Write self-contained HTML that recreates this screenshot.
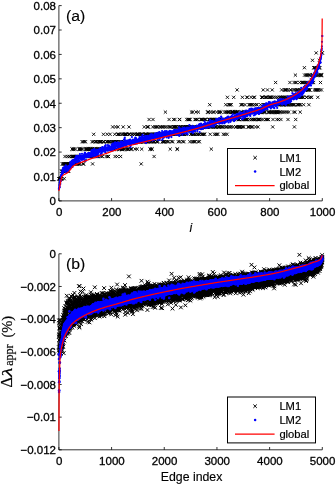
<!DOCTYPE html>
<html><head><meta charset="utf-8"><title>chart</title>
<style>
html,body{margin:0;padding:0;background:#fff;}
body{width:336px;height:484px;overflow:hidden;font-family:"Liberation Sans",sans-serif;}
svg{display:block;will-change:transform;}
text{font-family:"Liberation Sans",sans-serif;fill:#000;stroke:#000;stroke-width:0.3px;}
.tk text{font-size:11.5px;}
.lg{font-size:11.2px;stroke-width:0.2px;}
.pl{font-size:14.5px;stroke-width:0.12px;}
.xl{font-size:12.3px;stroke-width:0.15px;}
.yl text{font-family:"Liberation Serif",serif;stroke-width:0.2px;}
</style></head><body>
<svg width="336" height="484" viewBox="0 0 336 484">
<defs>
<marker id="mx" markerWidth="6" markerHeight="6" refX="3" refY="3" markerUnits="userSpaceOnUse" overflow="visible"><path d="M1.4,1.4L4.6,4.6M1.4,4.6L4.6,1.4" stroke="#000" stroke-width="0.9" fill="none"/></marker>
<marker id="mxb" markerWidth="6" markerHeight="6" refX="3" refY="3" markerUnits="userSpaceOnUse" overflow="visible"><path d="M1.15,1.15L4.85,4.85M1.15,4.85L4.85,1.15" stroke="#000" stroke-width="1.0" fill="none"/></marker>
<marker id="mda" markerWidth="4" markerHeight="4" refX="2" refY="2" markerUnits="userSpaceOnUse" overflow="visible"><circle cx="2" cy="2" r="1.1" fill="#0000ff"/></marker>
<marker id="md" markerWidth="4" markerHeight="4" refX="2" refY="2" markerUnits="userSpaceOnUse" overflow="visible"><circle cx="2" cy="2" r="1.3" fill="#0000ff"/></marker>
</defs>
<g id="pa">
<path d="M58.9,5.6V200.9H322.3M58.9,200.90h2.8M58.9,176.49h2.8M58.9,152.07h2.8M58.9,127.66h2.8M58.9,103.25h2.8M58.9,78.84h2.8M58.9,54.42h2.8M58.9,30.01h2.8M58.9,5.60h2.8M58.90,200.9v-2.8M111.58,200.9v-2.8M164.26,200.9v-2.8M216.94,200.9v-2.8M269.62,200.9v-2.8M322.30,200.9v-2.8" fill="none" stroke="#000" stroke-width="1" opacity="0.8"/>
<polyline fill="none" stroke="none" marker-start="url(#mx)" marker-mid="url(#mx)" marker-end="url(#mx)" points="58.9,178.7 59.2,178.7 59.4,178.7 59.7,178.7 60,178.7 60.2,178.7 60.5,178.7 60.7,178.7 61,178.7 61.3,178.7 61.5,171.3 61.8,178.7 62.1,171.3 62.3,163.9 62.6,171.3 62.9,171.3 63.1,171.3 63.4,163.9 63.6,163.9 63.9,163.9 64.2,178.7 64.4,171.3 64.7,163.9 65,156.5 65.2,163.9 65.5,163.9 65.8,171.3 66,163.9 66.3,163.9 66.5,163.9 66.8,171.3 67.1,163.9 67.3,156.5 67.6,171.3 67.9,171.3 68.1,163.9 68.4,163.9 68.7,171.3 68.9,163.9 69.2,156.5 69.4,163.9 69.7,156.5 70,163.9 70.2,163.9 70.5,163.9 70.8,163.9 71,163.9 71.3,156.5 71.6,163.9 71.8,163.9 72.1,149.1 72.3,149.1 72.6,156.5 72.9,156.5 73.1,156.5 73.4,149.1 73.7,156.5 73.9,149.1 74.2,163.9 74.5,156.5 74.7,163.9 75,156.5 75.2,156.5 75.5,149.1 75.8,163.9 76,156.5 76.3,156.5 76.6,163.9 76.8,163.9 77.1,156.5 77.4,163.9 77.6,156.5 77.9,156.5 78.1,156.5 78.4,163.9 78.7,163.9 78.9,149.1 79.2,163.9 79.5,149.1 79.7,149.1 80,156.5 80.3,163.9 80.5,149.1 80.8,149.1 81,156.5 81.3,156.5 81.6,149.1 81.8,156.5 82.1,141.7 82.4,156.5 82.6,149.1 82.9,163.9 83.2,141.7 83.4,156.5 83.7,163.9 83.9,156.5 84.2,156.5 84.5,141.7 84.7,156.5 85,156.5 85.3,149.1 85.5,141.7 85.8,156.5 86.1,149.1 86.3,149.1 86.6,156.5 86.8,149.1 87.1,149.1 87.4,156.5 87.6,149.1 87.9,156.5 88.2,149.1 88.4,149.1 88.7,149.1 89,156.5 89.2,156.5 89.5,149.1 89.7,149.1 90,149.1 90.3,149.1 90.5,156.5 90.8,149.1 91.1,156.5 91.3,149.1 91.6,149.1 91.9,156.5 92.1,141.7 92.4,149.1 92.6,163.9 92.9,149.1 93.2,156.5 93.4,141.7 93.7,134.3 94,156.5 94.2,149.1 94.5,149.1 94.8,149.1 95,149.1 95.3,141.7 95.5,156.5 95.8,141.7 96.1,156.5 96.3,149.1 96.6,141.7 96.9,149.1 97.1,156.5 97.4,156.5 97.7,149.1 97.9,149.1 98.2,141.7 98.4,156.5 98.7,149.1 99,141.7 99.2,149.1 99.5,149.1 99.8,141.7 100,149.1 100.3,141.7 100.6,141.7 100.8,141.7 101.1,156.5 101.3,141.7 101.6,149.1 101.9,149.1 102.1,149.1 102.4,156.5 102.7,149.1 102.9,149.1 103.2,141.7 103.5,134.3 103.7,141.7 104,141.7 104.3,149.1 104.5,149.1 104.8,149.1 105,149.1 105.3,149.1 105.6,149.1 105.8,149.1 106.1,156.5 106.4,149.1 106.6,141.7 106.9,141.7 107.2,134.3 107.4,141.7 107.7,149.1 107.9,156.5 108.2,156.5 108.5,156.5 108.7,141.7 109,149.1 109.3,141.7 109.5,149.1 109.8,141.7 110.1,134.3 110.3,149.1 110.6,149.1 110.8,149.1 111.1,141.7 111.4,149.1 111.6,149.1 111.9,149.1 112.2,149.1 112.4,141.7 112.7,126.9 113,149.1 113.2,141.7 113.5,141.7 113.7,149.1 114,149.1 114.3,141.7 114.5,149.1 114.8,134.3 115.1,156.5 115.3,141.7 115.6,126.9 115.9,149.1 116.1,141.7 116.4,141.7 116.6,141.7 116.9,141.7 117.2,141.7 117.4,156.5 117.7,134.3 118,126.9 118.2,134.3 118.5,134.3 118.8,149.1 119,141.7 119.3,149.1 119.5,149.1 119.8,134.3 120.1,149.1 120.3,141.7 120.6,156.5 120.9,141.7 121.1,141.7 121.4,149.1 121.7,149.1 121.9,134.3 122.2,149.1 122.4,149.1 122.7,149.1 123,134.3 123.2,126.9 123.5,141.7 123.8,149.1 124,141.7 124.3,134.3 124.6,149.1 124.8,134.3 125.1,134.3 125.3,141.7 125.6,134.3 125.9,134.3 126.1,134.3 126.4,149.1 126.7,134.3 126.9,141.7 127.2,149.1 127.5,141.7 127.7,141.7 128,149.1 128.2,149.1 128.5,149.1 128.8,134.3 129,126.9 129.3,134.3 129.6,134.3 129.8,141.7 130.1,141.7 130.4,141.7 130.6,149.1 130.9,149.1 131.1,141.7 131.4,141.7 131.7,149.1 131.9,134.3 132.2,141.7 132.5,134.3 132.7,141.7 133,141.7 133.3,141.7 133.5,141.7 133.8,141.7 134,141.7 134.3,134.3 134.6,134.3 134.8,134.3 135.1,149.1 135.4,141.7 135.6,141.7 135.9,141.7 136.2,141.7 136.4,141.7 136.7,134.3 136.9,141.7 137.2,149.1 137.5,134.3 137.7,134.3 138,141.7 138.3,134.3 138.5,141.7 138.8,134.3 139.1,141.7 139.3,141.7 139.6,141.7 139.8,141.7 140.1,134.3 140.4,134.3 140.6,141.7 140.9,141.7 141.2,163.9 141.4,134.3 141.7,149.1 142,134.3 142.2,134.3 142.5,134.3 142.7,141.7 143,141.7 143.3,141.7 143.5,141.7 143.8,141.7 144.1,141.7 144.3,126.9 144.6,141.7 144.9,134.3 145.1,141.7 145.4,134.3 145.6,141.7 145.9,134.3 146.2,134.3 146.4,134.3 146.7,141.7 147,141.7 147.2,126.9 147.5,134.3 147.8,141.7 148,126.9 148.3,126.9 148.5,134.3 148.8,141.7 149.1,119.5 149.3,134.3 149.6,134.3 149.9,141.7 150.1,149.1 150.4,149.1 150.7,134.3 150.9,134.3 151.2,141.7 151.4,141.7 151.7,149.1 152,141.7 152.2,149.1 152.5,134.3 152.8,126.9 153,119.5 153.3,134.3 153.6,141.7 153.8,141.7 154.1,156.5 154.3,141.7 154.6,134.3 154.9,126.9 155.1,134.3 155.4,134.3 155.7,134.3 155.9,134.3 156.2,126.9 156.5,141.7 156.7,141.7 157,141.7 157.2,126.9 157.5,126.9 157.8,134.3 158,141.7 158.3,134.3 158.6,134.3 158.8,134.3 159.1,134.3 159.4,134.3 159.6,134.3 159.9,126.9 160.1,134.3 160.4,134.3 160.7,134.3 160.9,134.3 161.2,126.9 161.5,134.3 161.7,134.3 162,134.3 162.3,141.7 162.5,126.9 162.8,141.7 163,126.9 163.3,134.3 163.6,141.7 163.8,141.7 164.1,134.3 164.4,141.7 164.6,141.7 164.9,126.9 165.2,134.3 165.4,112.1 165.7,134.3 165.9,134.3 166.2,141.7 166.5,134.3 166.7,126.9 167,134.3 167.3,134.3 167.5,141.7 167.8,134.3 168.1,134.3 168.3,134.3 168.6,141.7 168.8,126.9 169.1,119.5 169.4,134.3 169.6,134.3 169.9,126.9 170.2,149.1 170.4,134.3 170.7,134.3 171,126.9 171.2,134.3 171.5,141.7 171.7,134.3 172,134.3 172.3,134.3 172.5,134.3 172.8,141.7 173.1,134.3 173.3,126.9 173.6,119.5 173.9,126.9 174.1,126.9 174.4,126.9 174.6,126.9 174.9,119.5 175.2,126.9 175.4,134.3 175.7,126.9 176,134.3 176.2,126.9 176.5,126.9 176.8,134.3 177,149.1 177.3,134.3 177.5,149.1 177.8,134.3 178.1,134.3 178.3,141.7 178.6,126.9 178.9,126.9 179.1,134.3 179.4,119.5 179.7,119.5 179.9,141.7 180.2,126.9 180.4,126.9 180.7,126.9 181,126.9 181.2,134.3 181.5,134.3 181.8,134.3 182,134.3 182.3,134.3 182.6,141.7 182.8,134.3 183.1,126.9 183.3,134.3 183.6,126.9 183.9,141.7 184.1,134.3 184.4,134.3 184.7,126.9 184.9,134.3 185.2,126.9 185.5,126.9 185.7,126.9 186,126.9 186.2,126.9 186.5,134.3 186.8,119.5 187,126.9 187.3,126.9 187.6,126.9 187.8,126.9 188.1,119.5 188.4,119.5 188.6,126.9 188.9,119.5 189.1,126.9 189.4,119.5 189.7,126.9 189.9,141.7 190.2,119.5 190.5,126.9 190.7,134.3 191,126.9 191.3,134.3 191.5,112.1 191.8,126.9 192.1,141.7 192.3,126.9 192.6,134.3 192.8,112.1 193.1,134.3 193.4,141.7 193.6,126.9 193.9,134.3 194.2,134.3 194.4,141.7 194.7,126.9 195,119.5 195.2,141.7 195.5,119.5 195.7,134.3 196,112.1 196.3,126.9 196.5,126.9 196.8,119.5 197.1,126.9 197.3,134.3 197.6,119.5 197.9,134.3 198.1,141.7 198.4,112.1 198.6,126.9 198.9,134.3 199.2,126.9 199.4,141.7 199.7,134.3 200,126.9 200.2,126.9 200.5,126.9 200.8,119.5 201,126.9 201.3,119.5 201.5,119.5 201.8,134.3 202.1,126.9 202.3,134.3 202.6,119.5 202.9,119.5 203.1,126.9 203.4,134.3 203.7,126.9 203.9,134.3 204.2,119.5 204.4,126.9 204.7,134.3 205,119.5 205.2,119.5 205.5,126.9 205.8,119.5 206,126.9 206.3,126.9 206.6,126.9 206.8,126.9 207.1,126.9 207.3,126.9 207.6,112.1 207.9,112.1 208.1,126.9 208.4,112.1 208.7,126.9 208.9,119.5 209.2,119.5 209.5,119.5 209.7,104.7 210,119.5 210.2,134.3 210.5,112.1 210.8,126.9 211,126.9 211.3,149.1 211.6,119.5 211.8,119.5 212.1,119.5 212.4,119.5 212.6,112.1 212.9,126.9 213.1,119.5 213.4,126.9 213.7,126.9 213.9,112.1 214.2,119.5 214.5,134.3 214.7,119.5 215,126.9 215.3,126.9 215.5,119.5 215.8,126.9 216,134.3 216.3,126.9 216.6,112.1 216.8,134.3 217.1,119.5 217.4,119.5 217.6,119.5 217.9,134.3 218.2,126.9 218.4,119.5 218.7,112.1 218.9,126.9 219.2,126.9 219.5,112.1 219.7,112.1 220,119.5 220.3,126.9 220.5,119.5 220.8,119.5 221.1,112.1 221.3,126.9 221.6,119.5 221.8,119.5 222.1,126.9 222.4,119.5 222.6,119.5 222.9,126.9 223.2,119.5 223.4,134.3 223.7,119.5 224,119.5 224.2,119.5 224.5,112.1 224.7,126.9 225,134.3 225.3,119.5 225.5,119.5 225.8,104.7 226.1,112.1 226.3,126.9 226.6,112.1 226.9,126.9 227.1,134.3 227.4,97.3 227.6,119.5 227.9,112.1 228.2,112.1 228.4,104.7 228.7,119.5 229,112.1 229.2,126.9 229.5,126.9 229.8,104.7 230,104.7 230.3,112.1 230.5,119.5 230.8,119.5 231.1,126.9 231.3,104.7 231.6,112.1 231.9,112.1 232.1,112.1 232.4,112.1 232.7,112.1 232.9,112.1 233.2,126.9 233.4,112.1 233.7,97.3 234,119.5 234.2,119.5 234.5,112.1 234.8,112.1 235,112.1 235.3,112.1 235.6,112.1 235.8,126.9 236.1,126.9 236.3,112.1 236.6,119.5 236.9,112.1 237.1,89.9 237.4,112.1 237.7,112.1 237.9,126.9 238.2,119.5 238.5,126.9 238.7,119.5 239,126.9 239.2,119.5 239.5,119.5 239.8,126.9 240,126.9 240.3,126.9 240.6,112.1 240.8,112.1 241.1,104.7 241.4,104.7 241.6,119.5 241.9,112.1 242.1,126.9 242.4,97.3 242.7,104.7 242.9,119.5 243.2,126.9 243.5,112.1 243.7,126.9 244,119.5 244.3,112.1 244.5,112.1 244.8,119.5 245,104.7 245.3,119.5 245.6,112.1 245.8,119.5 246.1,119.5 246.4,112.1 246.6,119.5 246.9,97.3 247.2,119.5 247.4,97.3 247.7,119.5 247.9,112.1 248.2,126.9 248.5,126.9 248.7,112.1 249,104.7 249.3,126.9 249.5,104.7 249.8,119.5 250.1,112.1 250.3,112.1 250.6,104.7 250.8,126.9 251.1,97.3 251.4,104.7 251.6,119.5 251.9,119.5 252.2,126.9 252.4,126.9 252.7,104.7 253,112.1 253.2,119.5 253.5,119.5 253.7,97.3 254,112.1 254.3,119.5 254.5,97.3 254.8,104.7 255.1,112.1 255.3,119.5 255.6,126.9 255.9,119.5 256.1,112.1 256.4,112.1 256.6,104.7 256.9,104.7 257.2,112.1 257.4,112.1 257.7,119.5 258,126.9 258.2,112.1 258.5,119.5 258.8,119.5 259,112.1 259.3,119.5 259.5,119.5 259.8,112.1 260.1,112.1 260.3,112.1 260.6,104.7 260.9,112.1 261.1,119.5 261.4,112.1 261.7,97.3 261.9,112.1 262.2,97.3 262.4,97.3 262.7,97.3 263,119.5 263.2,89.9 263.5,104.7 263.8,112.1 264,112.1 264.3,104.7 264.6,104.7 264.8,112.1 265.1,97.3 265.3,112.1 265.6,119.5 265.9,97.3 266.1,104.7 266.4,97.3 266.7,119.5 266.9,97.3 267.2,104.7 267.5,89.9 267.7,119.5 268,104.7 268.2,112.1 268.5,119.5 268.8,112.1 269,97.3 269.3,112.1 269.6,112.1 269.8,97.3 270.1,97.3 270.4,97.3 270.6,112.1 270.9,104.7 271.1,97.3 271.4,112.1 271.7,112.1 271.9,97.3 272.2,89.9 272.5,112.1 272.7,126.9 273,119.5 273.3,112.1 273.5,104.7 273.8,97.3 274,104.7 274.3,112.1 274.6,104.7 274.8,112.1 275.1,104.7 275.4,112.1 275.6,82.5 275.9,97.3 276.2,112.1 276.4,112.1 276.7,112.1 276.9,119.5 277.2,112.1 277.5,112.1 277.7,97.3 278,104.7 278.3,112.1 278.5,119.5 278.8,112.1 279.1,104.7 279.3,104.7 279.6,97.3 279.9,112.1 280.1,97.3 280.4,104.7 280.6,104.7 280.9,119.5 281.2,112.1 281.4,97.3 281.7,89.9 282,104.7 282.2,97.3 282.5,104.7 282.8,104.7 283,112.1 283.3,97.3 283.5,97.3 283.8,104.7 284.1,104.7 284.3,89.9 284.6,97.3 284.9,112.1 285.1,89.9 285.4,97.3 285.7,104.7 285.9,89.9 286.2,89.9 286.4,104.7 286.7,97.3 287,112.1 287.2,104.7 287.5,104.7 287.8,89.9 288,119.5 288.3,97.3 288.6,104.7 288.8,112.1 289.1,104.7 289.3,97.3 289.6,97.3 289.9,82.5 290.1,97.3 290.4,89.9 290.7,104.7 290.9,89.9 291.2,97.3 291.5,104.7 291.7,97.3 292,97.3 292.2,97.3 292.5,97.3 292.8,104.7 293,104.7 293.3,89.9 293.6,112.1 293.8,104.7 294.1,82.5 294.4,126.9 294.6,104.7 294.9,89.9 295.1,112.1 295.4,75.1 295.7,119.5 295.9,82.5 296.2,82.5 296.5,89.9 296.7,97.3 297,89.9 297.3,104.7 297.5,89.9 297.8,104.7 298,97.3 298.3,89.9 298.6,104.7 298.8,97.3 299.1,97.3 299.4,104.7 299.6,82.5 299.9,89.9 300.2,112.1 300.4,97.3 300.7,104.7 300.9,97.3 301.2,89.9 301.5,97.3 301.7,82.5 302,97.3 302.3,82.5 302.5,89.9 302.8,82.5 303.1,97.3 303.3,97.3 303.6,104.7 303.8,82.5 304.1,82.5 304.4,67.7 304.6,75.1 304.9,89.9 305.2,89.9 305.4,82.5 305.7,89.9 306,75.1 306.2,82.5 306.5,97.3 306.7,97.3 307,75.1 307.3,82.5 307.5,89.9 307.8,75.1 308.1,89.9 308.3,89.9 308.6,89.9 308.9,104.7 309.1,75.1 309.4,97.3 309.6,89.9 309.9,89.9 310.2,75.1 310.4,82.5 310.7,82.5 311,97.3 311.2,82.5 311.5,97.3 311.8,82.5 312,75.1 312.3,82.5 312.5,60.3 312.8,75.1 313.1,75.1 313.3,75.1 313.6,82.5 313.9,67.7 314.1,67.7 314.4,89.9 314.7,67.7 314.9,75.1 315.2,67.7 315.4,75.1 315.7,89.9 316,89.9 316.2,52.9 316.5,75.1 316.8,89.9 317,67.7 317.3,75.1 317.6,89.9 317.8,97.3 318.1,89.9 318.3,67.7 318.6,67.7 318.9,75.1 319.1,67.7 319.4,60.3 319.7,89.9 319.9,67.7 320.2,75.1 320.5,82.5 320.7,75.1 321,75.1 321.2,75.1 321.5,89.9 321.8,75.1 322,52.9 322.3,52.9"/>
<polyline fill="none" stroke="none" marker-start="url(#mda)" marker-mid="url(#mda)" marker-end="url(#mda)" points="58.9,188.9 59.2,187.9 59.4,185.4 59.7,182.8 60,182.2 60.2,179.9 60.5,180.3 60.7,181.1 61,176.5 61.3,174.9 61.5,175.6 61.8,174.4 62.1,173.4 62.3,171.2 62.6,172.3 62.9,173.2 63.1,169.3 63.4,170.5 63.6,167.7 63.9,168.5 64.2,167.3 64.4,169.9 64.7,168 65,170.5 65.2,170.2 65.5,169.5 65.8,165.3 66,168.6 66.3,169.3 66.5,169.5 66.8,166.5 67.1,168.1 67.3,167.1 67.6,167.2 67.9,170.3 68.1,166.8 68.4,167.9 68.7,169.2 68.9,166.3 69.2,166.8 69.4,166.9 69.7,166.5 70,163.8 70.2,165.7 70.5,167.6 70.8,162.1 71,166 71.3,164.3 71.6,162.6 71.8,167 72.1,164.4 72.3,160.6 72.6,162.6 72.9,163.2 73.1,161.6 73.4,162.9 73.7,161.4 73.9,162.5 74.2,163.7 74.5,159.8 74.7,161.2 75,159.9 75.2,160.8 75.5,158.3 75.8,159.2 76,159.8 76.3,161.6 76.6,161.9 76.8,157.4 77.1,158.2 77.4,160.7 77.6,155.8 77.9,158.4 78.1,159 78.4,161.3 78.7,160.2 78.9,158.2 79.2,158.1 79.5,158.2 79.7,161.3 80,157.7 80.3,157.8 80.5,158.9 80.8,157.9 81,157.7 81.3,155.9 81.6,157.8 81.8,156.9 82.1,159.7 82.4,158.7 82.6,157.4 82.9,158.5 83.2,156.6 83.4,159 83.7,157 83.9,157.9 84.2,154.4 84.5,157.3 84.7,153.4 85,152.7 85.3,155.8 85.5,154.6 85.8,156.4 86.1,160.2 86.3,154.4 86.6,154.7 86.8,156.1 87.1,156.6 87.4,155.3 87.6,155.1 87.9,156.7 88.2,156.3 88.4,153.3 88.7,155 89,155.1 89.2,153 89.5,155.3 89.7,153.2 90,156.5 90.3,154.9 90.5,154.7 90.8,153.3 91.1,154.1 91.3,150.5 91.6,152 91.9,154.7 92.1,150 92.4,155.5 92.6,150.5 92.9,155.1 93.2,152 93.4,155 93.7,153.7 94,150.5 94.2,155.6 94.5,155.9 94.8,153 95,152.5 95.3,152.6 95.5,151 95.8,154.8 96.1,151.6 96.3,152.5 96.6,151 96.9,151.2 97.1,149.9 97.4,154.6 97.7,151.8 97.9,153.8 98.2,151.9 98.4,150.5 98.7,151.1 99,150.6 99.2,151.6 99.5,150.8 99.8,150.8 100,148.7 100.3,149.7 100.6,154.2 100.8,149.7 101.1,148.9 101.3,151.5 101.6,153.4 101.9,147.9 102.1,150.2 102.4,149.3 102.7,147 102.9,151.6 103.2,150.1 103.5,150.2 103.7,148.6 104,150.7 104.3,148.8 104.5,149.4 104.8,147.5 105,147.3 105.3,151.9 105.6,148.4 105.8,149.8 106.1,149.1 106.4,148.2 106.6,148 106.9,150.1 107.2,148.2 107.4,148.4 107.7,148.7 107.9,150.7 108.2,149.7 108.5,149 108.7,147.2 109,145.6 109.3,149.8 109.5,149.8 109.8,147.6 110.1,148.8 110.3,149.2 110.6,149.2 110.8,149.2 111.1,146.6 111.4,150.1 111.6,145 111.9,148.8 112.2,148 112.4,148.6 112.7,150.4 113,149.6 113.2,144.7 113.5,143.6 113.7,148.1 114,144.7 114.3,146.4 114.5,147.9 114.8,143.3 115.1,142.4 115.3,146.6 115.6,146.1 115.9,145.5 116.1,146 116.4,144.2 116.6,143 116.9,145.3 117.2,143.8 117.4,142.5 117.7,146.3 118,145.2 118.2,146 118.5,143.4 118.8,143.9 119,143.2 119.3,143.3 119.5,145.2 119.8,143.3 120.1,145.3 120.3,145.2 120.6,148.2 120.9,141.9 121.1,146 121.4,144.1 121.7,144.2 121.9,141.5 122.2,143.2 122.4,145.3 122.7,143.8 123,144 123.2,143.2 123.5,145.7 123.8,143.6 124,139.6 124.3,142.2 124.6,139.9 124.8,137.5 125.1,142.3 125.3,145.6 125.6,143.2 125.9,141 126.1,141.3 126.4,144.9 126.7,143.1 126.9,142.9 127.2,142.6 127.5,142.7 127.7,144 128,143.5 128.2,142.8 128.5,140.6 128.8,143.2 129,141.1 129.3,144.1 129.6,139.9 129.8,141.8 130.1,142 130.4,139.6 130.6,144.9 130.9,144.4 131.1,140.9 131.4,143 131.7,142.3 131.9,137 132.2,141.9 132.5,141.3 132.7,141.5 133,139.5 133.3,140.8 133.5,140.9 133.8,143.2 134,141.7 134.3,141 134.6,143.6 134.8,140 135.1,140.2 135.4,137.6 135.6,143.5 135.9,142.3 136.2,142.2 136.4,141.7 136.7,140.7 136.9,140.8 137.2,140 137.5,140 137.7,140.4 138,142.8 138.3,141.1 138.5,140 138.8,139.1 139.1,138.9 139.3,142.7 139.6,140.8 139.8,139.9 140.1,139.2 140.4,137.8 140.6,139.5 140.9,141.1 141.2,138.9 141.4,139.1 141.7,139.1 142,139.6 142.2,136.6 142.5,138.9 142.7,137.8 143,140.7 143.3,137.8 143.5,140 143.8,141.6 144.1,138.4 144.3,137.9 144.6,139.2 144.9,138.8 145.1,137.1 145.4,139.5 145.6,142 145.9,138.1 146.2,138.2 146.4,136.7 146.7,138.9 147,136.3 147.2,136.4 147.5,140.4 147.8,136.7 148,140 148.3,140.6 148.5,138.5 148.8,138.9 149.1,141.2 149.3,137.5 149.6,136.8 149.9,135.5 150.1,137.8 150.4,140.1 150.7,139.2 150.9,136 151.2,136.1 151.4,136.6 151.7,137.9 152,137 152.2,137.6 152.5,137.7 152.8,136.7 153,137 153.3,137.4 153.6,136.9 153.8,137.8 154.1,140 154.3,137.8 154.6,136.9 154.9,134 155.1,137.3 155.4,133.4 155.7,134.3 155.9,137.9 156.2,137.6 156.5,136.2 156.7,133.6 157,135.7 157.2,135.1 157.5,137.2 157.8,139.8 158,136.4 158.3,134.7 158.6,134 158.8,135.8 159.1,135.5 159.4,133.9 159.6,135.9 159.9,133.8 160.1,137.4 160.4,137.3 160.7,137.2 160.9,134.7 161.2,136.2 161.5,135.1 161.7,134.6 162,134.7 162.3,133.1 162.5,132.8 162.8,136.3 163,134.7 163.3,135.3 163.6,136.5 163.8,132 164.1,133.5 164.4,135 164.6,135.3 164.9,134 165.2,136.2 165.4,134.8 165.7,132.5 165.9,132.9 166.2,135.6 166.5,135 166.7,131.2 167,136.3 167.3,135.1 167.5,136.2 167.8,133.4 168.1,133.5 168.3,132.1 168.6,137.9 168.8,133.5 169.1,136.3 169.4,132.6 169.6,133.9 169.9,130.9 170.2,132.9 170.4,135 170.7,131.4 171,135.1 171.2,133.8 171.5,131.6 171.7,132.4 172,132.4 172.3,133 172.5,132.2 172.8,131.7 173.1,132.4 173.3,131.2 173.6,130.8 173.9,132.7 174.1,134.1 174.4,130.2 174.6,132.6 174.9,131.5 175.2,130.9 175.4,133.8 175.7,131.6 176,134.7 176.2,131 176.5,132.9 176.8,131.8 177,130.9 177.3,133 177.5,131.8 177.8,132.9 178.1,131.8 178.3,130.1 178.6,131.6 178.9,131.8 179.1,133.2 179.4,130.2 179.7,131.5 179.9,128.8 180.2,132.5 180.4,129.7 180.7,128.5 181,131.2 181.2,133 181.5,128.8 181.8,129.4 182,129.9 182.3,129.2 182.6,131.6 182.8,129.7 183.1,129.7 183.3,131.8 183.6,129.6 183.9,131.4 184.1,129.1 184.4,128.7 184.7,127.6 184.9,133.5 185.2,129.9 185.5,130.8 185.7,130.3 186,130.5 186.2,130.3 186.5,133.2 186.8,128.5 187,127.6 187.3,128.4 187.6,127.8 187.8,131.1 188.1,131.2 188.4,128.2 188.6,127.5 188.9,129.1 189.1,131.8 189.4,125 189.7,130.3 189.9,127.7 190.2,131.1 190.5,127.6 190.7,128.8 191,126.8 191.3,127.6 191.5,131.3 191.8,130.4 192.1,128.3 192.3,127.5 192.6,125.8 192.8,128.2 193.1,128.7 193.4,128.6 193.6,128.5 193.9,126.8 194.2,128.4 194.4,128.4 194.7,130.5 195,131.3 195.2,128.1 195.5,127 195.7,128.1 196,127.1 196.3,126.9 196.5,127.9 196.8,126.3 197.1,128.8 197.3,127.6 197.6,128.2 197.9,127.4 198.1,126.5 198.4,126.1 198.6,127.1 198.9,126.6 199.2,127.7 199.4,127.3 199.7,125 200,127.3 200.2,124.9 200.5,126 200.8,126.5 201,123.5 201.3,126.9 201.5,127 201.8,126.4 202.1,125.9 202.3,125.9 202.6,124.9 202.9,125.9 203.1,125.4 203.4,126.4 203.7,124.2 203.9,126.4 204.2,126.2 204.4,125.7 204.7,125.1 205,126.6 205.2,123 205.5,126.3 205.8,125.9 206,125.9 206.3,126 206.6,124.2 206.8,124.8 207.1,126.2 207.3,125.8 207.6,125.3 207.9,122.5 208.1,125.7 208.4,126.6 208.7,126.3 208.9,125 209.2,122 209.5,125.9 209.7,124.1 210,120.2 210.2,124.8 210.5,121.7 210.8,122 211,122.9 211.3,125.9 211.6,123.2 211.8,124.2 212.1,126.4 212.4,126.1 212.6,123.3 212.9,123 213.1,121.3 213.4,122.1 213.7,123.9 213.9,123.7 214.2,123.2 214.5,124.5 214.7,121.6 215,122.7 215.3,123.9 215.5,123.6 215.8,124.3 216,123.1 216.3,121.9 216.6,122.9 216.8,120.6 217.1,119.5 217.4,123 217.6,121.9 217.9,122.4 218.2,119.1 218.4,121.2 218.7,120.8 218.9,120.3 219.2,118 219.5,121 219.7,122.9 220,122 220.3,120.3 220.5,121.2 220.8,122.3 221.1,116.6 221.3,120.8 221.6,121.8 221.8,121.9 222.1,123.5 222.4,122.5 222.6,121.1 222.9,121 223.2,121.7 223.4,119.5 223.7,120.3 224,121.7 224.2,123.3 224.5,119.9 224.7,120 225,120.3 225.3,122.1 225.5,119.8 225.8,122.1 226.1,118.2 226.3,119.3 226.6,119.2 226.9,120.7 227.1,121.1 227.4,116.9 227.6,117.8 227.9,119.7 228.2,118.1 228.4,116.6 228.7,120.7 229,119.7 229.2,119.6 229.5,118 229.8,120.4 230,118.3 230.3,120.3 230.5,117 230.8,117.1 231.1,118.7 231.3,117.2 231.6,119.3 231.9,118.6 232.1,116.6 232.4,118.1 232.7,117.4 232.9,119.3 233.2,116.8 233.4,117 233.7,119.6 234,121.1 234.2,120.7 234.5,117.5 234.8,117.7 235,119.7 235.3,117 235.6,115.6 235.8,117.2 236.1,117.7 236.3,115.6 236.6,114.2 236.9,114.4 237.1,117.7 237.4,115.4 237.7,116.3 237.9,116.8 238.2,117.3 238.5,115.7 238.7,117 239,114.7 239.2,115.5 239.5,114.3 239.8,117.7 240,115.8 240.3,114.5 240.6,115.1 240.8,115.2 241.1,116.6 241.4,112.9 241.6,113.7 241.9,114.7 242.1,119.2 242.4,116.6 242.7,114.8 242.9,116.1 243.2,118.2 243.5,114.4 243.7,114.1 244,116.6 244.3,115.3 244.5,115.5 244.8,113.6 245,117.4 245.3,117 245.6,115.1 245.8,115.2 246.1,110.7 246.4,114.9 246.6,113.5 246.9,114.4 247.2,114.8 247.4,113 247.7,110.8 247.9,114 248.2,112.1 248.5,112.7 248.7,112.2 249,112.5 249.3,109.3 249.5,114.9 249.8,113.3 250.1,114.6 250.3,115.9 250.6,112.7 250.8,109.6 251.1,111 251.4,110.4 251.6,111.5 251.9,112.4 252.2,108.9 252.4,112.6 252.7,109.5 253,112.4 253.2,111.7 253.5,111.3 253.7,111.6 254,110.7 254.3,110.6 254.5,108.7 254.8,111.4 255.1,114.4 255.3,114.5 255.6,113.3 255.9,112.3 256.1,109.9 256.4,113.3 256.6,110.8 256.9,110.7 257.2,110.2 257.4,110.8 257.7,109.8 258,110.3 258.2,108.6 258.5,109.6 258.8,114 259,110 259.3,109.6 259.5,110.8 259.8,111 260.1,107.9 260.3,109.3 260.6,111.1 260.9,109.9 261.1,109.5 261.4,111.8 261.7,108 261.9,109.1 262.2,108 262.4,111.3 262.7,105.4 263,107.4 263.2,107.5 263.5,109.4 263.8,109.2 264,110.4 264.3,105.3 264.6,109.1 264.8,107.2 265.1,106.5 265.3,108.4 265.6,105.8 265.9,103.7 266.1,106.5 266.4,104.4 266.7,105.8 266.9,107.4 267.2,107.1 267.5,109.2 267.7,106.1 268,103.7 268.2,104.9 268.5,104.5 268.8,103.9 269,106.6 269.3,104.7 269.6,102.3 269.8,106.7 270.1,105.3 270.4,106 270.6,105.5 270.9,106.3 271.1,105.2 271.4,107.2 271.7,105.7 271.9,105.6 272.2,105.5 272.5,102.3 272.7,104.4 273,104.2 273.3,104.9 273.5,102.1 273.8,107.2 274,104.5 274.3,102.2 274.6,101.3 274.8,103.6 275.1,103.9 275.4,102.7 275.6,104.1 275.9,102.7 276.2,104.7 276.4,102.5 276.7,103.6 276.9,105.3 277.2,107.9 277.5,101.7 277.7,102.5 278,101.8 278.3,104.6 278.5,101.1 278.8,102.2 279.1,102.9 279.3,101.2 279.6,101.1 279.9,101.9 280.1,99 280.4,100 280.6,101.7 280.9,102.6 281.2,101.9 281.4,99.1 281.7,101.3 282,103.4 282.2,102.8 282.5,101.6 282.8,100.1 283,102.7 283.3,100.5 283.5,99.3 283.8,99.9 284.1,103.7 284.3,101.4 284.6,103 284.9,100 285.1,102.4 285.4,99.6 285.7,100.2 285.9,104.8 286.2,101.6 286.4,99.3 286.7,99.9 287,100.5 287.2,102 287.5,98.8 287.8,96.5 288,99 288.3,99.4 288.6,99.4 288.8,101.4 289.1,99.5 289.3,100.3 289.6,96.8 289.9,100.1 290.1,102.2 290.4,99.7 290.7,98.7 290.9,98.4 291.2,101.1 291.5,96.2 291.7,97.5 292,98.4 292.2,98.7 292.5,96.5 292.8,97.7 293,96.5 293.3,97.1 293.6,96.5 293.8,94.5 294.1,96.4 294.4,97.8 294.6,94.4 294.9,95.5 295.1,97 295.4,93.7 295.7,95.8 295.9,93.4 296.2,97.2 296.5,99.2 296.7,98.5 297,94.3 297.3,95.9 297.5,94.6 297.8,94.4 298,96.8 298.3,91.5 298.6,95.6 298.8,93.4 299.1,95.9 299.4,93.5 299.6,91.8 299.9,93.3 300.2,94 300.4,92.5 300.7,93.1 300.9,91.1 301.2,87.9 301.5,93.3 301.7,92.7 302,91.4 302.3,91.1 302.5,92.6 302.8,89.7 303.1,89 303.3,89.7 303.6,91.9 303.8,87 304.1,91.5 304.4,87.9 304.6,86.8 304.9,90.8 305.2,88.1 305.4,85.6 305.7,87.1 306,89.2 306.2,89.4 306.5,86.1 306.7,87.4 307,87.7 307.3,84.9 307.5,86.4 307.8,85.4 308.1,84.2 308.3,84 308.6,84.7 308.9,84.3 309.1,82.9 309.4,82.8 309.6,85.3 309.9,83.3 310.2,84.2 310.4,84.4 310.7,82.9 311,85.6 311.2,79.5 311.5,82.1 311.8,79.6 312,83.2 312.3,82.5 312.5,75.3 312.8,76.7 313.1,79.3 313.3,79 313.6,78.5 313.9,76.5 314.1,77 314.4,76.9 314.7,75 314.9,76.5 315.2,69.9 315.4,74.7 315.7,71.1 316,74.2 316.2,71.4 316.5,69.6 316.8,71.3 317,68.2 317.3,67.6 317.6,65.7 317.8,67.9 318.1,68.1 318.3,68.4 318.6,65.4 318.9,66.9 319.1,64.1 319.4,62.9 319.7,63.2 319.9,63.1 320.2,59.5 320.5,58.6 320.7,57.7 321,56.9 321.2,53.3 321.5,54.8 321.8,48.5 322,41.8 322.3,36 59,188.7 59.3,187.3 59.6,184.4 59.8,187.1 60.1,182.9 60.3,183.9 60.6,181.2 60.9,176.9 61.1,176 61.4,176.1 61.7,174.3 61.9,173.5 62.2,172.5 62.5,169.5 62.7,171.8 63,168 63.2,172.1 63.5,169.9 63.8,169.6 64,170.2 64.3,170.9 64.6,167.8 64.8,167.1 65.1,168.1 65.4,166.3 65.6,168 65.9,172.4 66.1,167.6 66.4,170.5 66.7,166.8 66.9,169.6 67.2,168.3 67.5,168.6 67.7,169.5 68,171.4 68.3,168.4 68.5,168 68.8,165.8 69,168.2 69.3,166.4 69.6,168 69.8,166.1 70.1,168.9 70.4,161.9 70.6,164.5 70.9,166.2 71.2,163.7 71.4,162.6 71.7,163.1 71.9,160.8 72.2,163.1 72.5,166.9 72.7,164.4 73,160.1 73.3,160.3 73.5,160.9 73.8,163.2 74.1,159.8 74.3,159.9 74.6,162.5 74.8,162.3 75.1,160 75.4,158.5 75.6,157.6 75.9,159 76.2,156.1 76.4,161.3 76.7,158.7 77,160.5 77.2,162.9 77.5,161.5 77.8,157.3 78,160.8 78.3,161.2 78.5,157.7 78.8,157.2 79.1,158.6 79.3,155.8 79.6,161.2 79.9,154.1 80.1,156.4 80.4,157.8 80.7,157.8 80.9,158.4 81.2,158.5 81.4,157.5 81.7,159.8 82,153.8 82.2,157.6 82.5,156.2 82.8,157.6 83,157.6 83.3,155.5 83.6,155.9 83.8,158.4 84.1,157.4 84.3,155.5 84.6,160.3 84.9,160.7 85.1,153.7 85.4,156.8 85.7,160.8 85.9,157.5 86.2,156.4 86.5,155.5 86.7,154.8 87,155.3 87.2,154.6 87.5,156.9 87.8,154.7 88,154.5 88.3,153 88.6,155.1 88.8,153.4 89.1,154.7 89.4,156.8 89.6,155.5 89.9,155.7 90.1,155.3 90.4,154.7 90.7,154.2 90.9,153.8 91.2,155.7 91.5,152.2 91.7,156.6 92,154.1 92.3,152.5 92.5,152.9 92.8,152.5 93,154 93.3,152.2 93.6,155.6 93.8,151.9 94.1,149 94.4,151.8 94.6,149.4 94.9,153 95.2,155 95.4,154.1 95.7,150.3 95.9,151.3 96.2,156 96.5,153.1 96.7,152.4 97,154.3 97.3,156.9 97.5,154.6 97.8,152.3 98.1,152.6 98.3,153.1 98.6,150.6 98.8,149.7 99.1,151.7 99.4,149.7 99.6,151.3 99.9,151.5 100.2,155.7 100.4,149.5 100.7,150.8 101,150.6 101.2,151.7 101.5,152.7 101.7,149.8 102,149 102.3,147.4 102.5,148.7 102.8,151.3 103.1,150.3 103.3,148.2 103.6,149.3 103.9,150 104.1,150.8 104.4,148.6 104.6,149.2 104.9,146.2 105.2,147.3 105.4,152.4 105.7,145.2 106,148.6 106.2,149.5 106.5,148.3 106.8,147.4 107,148.7 107.3,148.7 107.5,148.5 107.8,145.1 108.1,148.2 108.3,146.8 108.6,147.3 108.9,148.6 109.1,149.3 109.4,149.7 109.7,147 109.9,149.6 110.2,149.9 110.4,149.8 110.7,150.1 111,147.2 111.2,147.1 111.5,148.8 111.8,144.7 112,147.5 112.3,146.1 112.6,146.3 112.8,143.7 113.1,145.2 113.3,146.7 113.6,148.3 113.9,148.4 114.1,146.3 114.4,146.1 114.7,144.8 114.9,147 115.2,145.7 115.5,147.2 115.7,149.2 116,145.9 116.2,143.1 116.5,144.2 116.8,143 117,143.4 117.3,147.9 117.6,145.8 117.8,142.6 118.1,146.5 118.4,147.5 118.6,144.5 118.9,143.8 119.1,144.3 119.4,145.4 119.7,145.9 119.9,146.8 120.2,146.8 120.5,146.7 120.7,146.9 121,145.6 121.3,141.6 121.5,144 121.8,144.7 122,143.4 122.3,145.7 122.6,143.3 122.8,142.2 123.1,146.4 123.4,144.9 123.6,144 123.9,145.2 124.2,145.4 124.4,144 124.7,139 124.9,142.1 125.2,142.4 125.5,141.4 125.7,143.4 126,145.1 126.3,142.1 126.5,140.9 126.8,146.4 127.1,142 127.3,140.5 127.6,143 127.8,143.3 128.1,141.2 128.4,143.8 128.6,141.5 128.9,140.7 129.2,142.5 129.4,143.5 129.7,141 130,142.6 130.2,141.8 130.5,146.9 130.7,140.6 131,144.2 131.3,141.6 131.5,141.4 131.8,142.9 132.1,143.1 132.3,143.7 132.6,142 132.9,140.3 133.1,140.4 133.4,142.1 133.6,142.2 133.9,143.6 134.2,141.8 134.4,142.8 134.7,143.6 135,141.2 135.2,138.3 135.5,138.7 135.8,138.2 136,143.4 136.3,139.1 136.5,142.7 136.8,141.5 137.1,143.4 137.3,142.1 137.6,140.1 137.9,139.9 138.1,140.3 138.4,140.4 138.7,139.2 138.9,140 139.2,142.7 139.4,137 139.7,140.3 140,138.2 140.2,140.1 140.5,141.1 140.8,139.5 141,140.9 141.3,136.8 141.6,141.4 141.8,138.4 142.1,140.4 142.3,139.6 142.6,134.9 142.9,137.9 143.1,139.5 143.4,141.7 143.7,139.5 143.9,139.4 144.2,136.5 144.5,141.3 144.7,141.9 145,138.8 145.2,138.3 145.5,135.9 145.8,140.1 146,143.1 146.3,139.7 146.6,140.6 146.8,139.3 147.1,136.7 147.4,140.5 147.6,136.2 147.9,137.8 148.1,138.6 148.4,139.5 148.7,138.7 148.9,138.6 149.2,136.6 149.5,135.7 149.7,137.9 150,136.6 150.3,135.5 150.5,135.5 150.8,136.8 151,134.4 151.3,135.2 151.6,134.7 151.8,137.7 152.1,138 152.4,140.6 152.6,134.7 152.9,136 153.2,138.6 153.4,136.7 153.7,136.4 153.9,139.7 154.2,136.3 154.5,134.9 154.7,134.6 155,137.3 155.3,137.2 155.5,134.3 155.8,134.9 156.1,137.4 156.3,137.4 156.6,135.3 156.8,137.3 157.1,137.2 157.4,133.3 157.6,135.6 157.9,136.8 158.2,135.1 158.4,132.5 158.7,135.5 159,137.1 159.2,138.4 159.5,132.2 159.7,139.9 160,133.8 160.3,137.1 160.5,137.5 160.8,137.1 161.1,135.6 161.3,133.5 161.6,136.3 161.9,134.1 162.1,131.1 162.4,139.7 162.6,136.2 162.9,137.9 163.2,133.5 163.4,137.2 163.7,137.4 164,137.3 164.2,134.7 164.5,132.7 164.8,134.3 165,131 165.3,131.8 165.6,134.6 165.8,132.8 166.1,134.1 166.3,134.1 166.6,137.3 166.9,136.3 167.1,134.1 167.4,136 167.7,132.8 167.9,133.4 168.2,135.4 168.5,131.9 168.7,133.4 169,131.6 169.2,133.9 169.5,136.3 169.8,132.4 170,133.9 170.3,132.1 170.6,131.6 170.8,131.4 171.1,135.7 171.4,137.1 171.6,134 171.9,132 172.1,134.2 172.4,132.5 172.7,134.3 172.9,133.4 173.2,133.4 173.5,133.8 173.7,131.9 174,132.1 174.3,129.9 174.5,131.9 174.8,130.3 175,132.3 175.3,130.9 175.6,132.6 175.8,133.1 176.1,130 176.4,131 176.6,130.7 176.9,133.4 177.2,134.8 177.4,133.4 177.7,131.4 177.9,134.3 178.2,129.5 178.5,134.2 178.7,130.7 179,127.3 179.3,135.9 179.5,134.1 179.8,129.9 180.1,131.8 180.3,131.1 180.6,131.6 180.8,129 181.1,130.2 181.4,132 181.6,131.5 181.9,133.1 182.2,131.2 182.4,134.8 182.7,129.8 183,131.3 183.2,127.8 183.5,128.8 183.7,132.9 184,129.2 184.3,131.5 184.5,130.5 184.8,128.9 185.1,129.9 185.3,129.6 185.6,129.6 185.9,131.5 186.1,131.3 186.4,129.3 186.6,128.7 186.9,130.5 187.2,129.9 187.4,131.6 187.7,134.2 188,131.2 188.2,129.8 188.5,129.5 188.8,128.3 189,128.2 189.3,128 189.5,128.9 189.8,128.8 190.1,130.6 190.3,128.7 190.6,129 190.9,127.3 191.1,131.8 191.4,129.9 191.7,131.9 191.9,130.3 192.2,131.3 192.4,128.5 192.7,130 193,133.1 193.2,126.8 193.5,130.6 193.8,131.3 194,129.2 194.3,129.7 194.6,130.5 194.8,127.3 195.1,129 195.3,126.8 195.6,127.1 195.9,127.1 196.1,127.8 196.4,128.3 196.7,128.7 196.9,125.6 197.2,131.1 197.5,129.7 197.7,128.9 198,127.1 198.2,127.5 198.5,128.4 198.8,128.1 199,124.6 199.3,128.5 199.6,132 199.8,124.2 200.1,128.8 200.4,127.7 200.6,126.8 200.9,129.2 201.1,124.9 201.4,127 201.7,129.1 201.9,126.3 202.2,125.9 202.5,126.7 202.7,125.7 203,128.9 203.3,124.8 203.5,127.6 203.8,124 204,127.1 204.3,125.8 204.6,121.6 204.8,125.8 205.1,124 205.4,124.9 205.6,128.1 205.9,123.7 206.2,123.7 206.4,127.7 206.7,125.4 206.9,127.7 207.2,125.6 207.5,123.6 207.7,124.8 208,126.9 208.3,126.3 208.5,124.7 208.8,124.7 209.1,124.4 209.3,123.5 209.6,127.6 209.8,124.3 210.1,122.4 210.4,123.4 210.6,125.3 210.9,125.1 211.2,123.7 211.4,122.7 211.7,123.8 212,120.9 212.2,121.5 212.5,124.8 212.7,122.7 213,124 213.3,125.3 213.5,124.3 213.8,123.2 214.1,126.6 214.3,124.1 214.6,122.3 214.9,124 215.1,123.4 215.4,121.3 215.6,122.7 215.9,122.2 216.2,119.2 216.4,122.1 216.7,121.8 217,121.5 217.2,119.4 217.5,121.5 217.8,121.9 218,122.1 218.3,120 218.5,122.8 218.8,119.7 219.1,121.2 219.3,123.7 219.6,120.3 219.9,120.5 220.1,123.1 220.4,120.6 220.7,120.7 220.9,121.4 221.2,122.7 221.4,117.3 221.7,119.5 222,119.1 222.2,118.9 222.5,119.2 222.8,119.2 223,121 223.3,119 223.6,120.6 223.8,121 224.1,119 224.3,120.4 224.6,122.8 224.9,120.5 225.1,118.9 225.4,119.8 225.7,118.3 225.9,120.2 226.2,121.1 226.5,118.3 226.7,119.2 227,121.3 227.2,118.6 227.5,119.6 227.8,117.6 228,117.8 228.3,118.3 228.6,122.5 228.8,118.3 229.1,118 229.4,117.9 229.6,118.5 229.9,119.7 230.1,118.9 230.4,121.8 230.7,118.8 230.9,120.7 231.2,118.8 231.5,119.2 231.7,115.9 232,117.9 232.3,117.9 232.5,117.6 232.8,114.4 233,119.2 233.3,117.1 233.6,117 233.8,117.2 234.1,117.2 234.4,118.1 234.6,115.3 234.9,115.8 235.2,117.7 235.4,117.4 235.7,116.5 235.9,116.1 236.2,115.6 236.5,116.8 236.7,118.7 237,115 237.3,119.1 237.5,117.9 237.8,115.7 238.1,117.6 238.3,114 238.6,113.5 238.8,114.1 239.1,115.4 239.4,115.5 239.6,115.1 239.9,116 240.2,112.4 240.4,116.5 240.7,113.3 241,114.5 241.2,114.8 241.5,113.5 241.7,113.1 242,113.6 242.3,115.1 242.5,116 242.8,115.9 243.1,113.3 243.3,113.6 243.6,113.3 243.9,115.4 244.1,111.3 244.4,116.5 244.6,113.6 244.9,113.1 245.2,114.8 245.4,115.8 245.7,114.7 246,115.7 246.2,114.2 246.5,115.8 246.8,115.8 247,113.5 247.3,115.9 247.5,113.8 247.8,113.6 248.1,111.9 248.3,112.8 248.6,114.5 248.9,111 249.1,114.1 249.4,113.6 249.7,113.4 249.9,109.2 250.2,112.6 250.4,113.7 250.7,111.3 251,112.7 251.2,108.6 251.5,113.5 251.8,111.2 252,113.6 252.3,109.1 252.6,113.2 252.8,111.6 253.1,113.2 253.4,110.3 253.6,110.7 253.9,115.3 254.1,110.2 254.4,110.4 254.7,111 254.9,109.7 255.2,113.2 255.5,114 255.7,110 256,108.2 256.3,112.9 256.5,112.7 256.8,112.2 257,112.6 257.3,109.2 257.6,110.3 257.8,108.2 258.1,108 258.4,111.9 258.6,109.1 258.9,113.9 259.2,110.2 259.4,108.9 259.7,111.2 259.9,112.8 260.2,110.5 260.5,107.6 260.7,110.1 261,111.7 261.3,108.5 261.5,107.9 261.8,110.8 262.1,109.2 262.3,107 262.6,108.1 262.8,107.3 263.1,109 263.4,108.5 263.6,110.2 263.9,109.3 264.2,105.4 264.4,108.6 264.7,109.3 265,108.4 265.2,109.2 265.5,106.5 265.7,105.7 266,108.7 266.3,105.2 266.5,103.3 266.8,108.5 267.1,105.5 267.3,106 267.6,104.1 267.9,104.1 268.1,104.3 268.4,105.5 268.6,106.6 268.9,102 269.2,107.1 269.4,103.7 269.7,103.8 270,106.7 270.2,105.3 270.5,102.7 270.8,108.4 271,103.7 271.3,105.5 271.5,105.4 271.8,107.3 272.1,104.1 272.3,106.5 272.6,103.4 272.9,106.6 273.1,103.3 273.4,103.9 273.7,107.7 273.9,104.9 274.2,104.5 274.4,108.1 274.7,104.8 275,102.7 275.2,105.3 275.5,101.9 275.8,105.8 276,105.9 276.3,102.8 276.6,102.6 276.8,103.9 277.1,103.6 277.3,101.8 277.6,104.4 277.9,99.8 278.1,102.5 278.4,102.5 278.7,102.6 278.9,103.5 279.2,100.8 279.5,103.9 279.7,102.4 280,101.5 280.2,100.2 280.5,100.4 280.8,103 281,100.6 281.3,102.3 281.6,104 281.8,103.8 282.1,104.6 282.4,101.3 282.6,99.8 282.9,103.4 283.1,102.1 283.4,103.4 283.7,101.3 283.9,103.3 284.2,102.6 284.5,102.3 284.7,101.8 285,101.5 285.3,101.1 285.5,101 285.8,102.2 286,99.4 286.3,103.3 286.6,99.9 286.8,101.7 287.1,99.7 287.4,99.3 287.6,103.2 287.9,99 288.2,97.2 288.4,98 288.7,98.6 288.9,102.9 289.2,99.3 289.5,100.5 289.7,96.9 290,99.2 290.3,99.6 290.5,101.5 290.8,96.9 291.1,99.1 291.3,98.4 291.6,95.9 291.8,97.6 292.1,97 292.4,93.2 292.6,98.3 292.9,98 293.2,96.1 293.4,94.4 293.7,99.3 294,97 294.2,98.1 294.5,98.7 294.7,95.1 295,97.3 295.3,95.3 295.5,95.4 295.8,95.2 296.1,95.2 296.3,97.1 296.6,95.1 296.9,94.5 297.1,94.1 297.4,95.1 297.6,92.7 297.9,93.2 298.2,93.9 298.4,92.8 298.7,93.4 299,92.3 299.2,96.9 299.5,95.5 299.8,93.7 300,92.6 300.3,96.5 300.5,92.9 300.8,92 301.1,92.5 301.3,92.3 301.6,94.1 301.9,91.3 302.1,94.9 302.4,89.2 302.7,91.9 302.9,88.5 303.2,93.5 303.4,89.3 303.7,89.5 304,91.1 304.2,91.4 304.5,86.9 304.8,88 305,85.8 305.3,88.4 305.6,87.7 305.8,87 306.1,86.1 306.3,86.4 306.6,85.4 306.9,87.5 307.1,89 307.4,82.4 307.7,85.4 307.9,84.6 308.2,86 308.5,83 308.7,84.1 309,82.2 309.2,85 309.5,83.6 309.8,82.8 310,83.4 310.3,81.9 310.6,79.1 310.8,82.7 311.1,81.7 311.4,80.5 311.6,82.2 311.9,82.3 312.1,77.5 312.4,77.7 312.7,81.6 312.9,80.9 313.2,76.4 313.5,75.1 313.7,75.7 314,75.5 314.3,72.9 314.5,75.5 314.8,72.5 315,72.1 315.3,75.5 315.6,72 315.8,72.6 316.1,73.3 316.4,73.1 316.6,70.3 316.9,70.4 317.2,68.1 317.4,72.3 317.7,69.5 317.9,65.5 318.2,66.9 318.5,67.4 318.7,66.2 319,67.9 319.3,66.2 319.5,61.6 319.8,61.5 320.1,58.2 320.3,60.1 320.6,58.9 320.8,62.5 321.1,56.1 321.4,50.1 321.6,50.2 321.9,46.4 322.2,36"/>
<path d="M58.90,190.90 L58.90,190.90 L58.90,190.90 L58.90,190.90 L58.90,190.89 L58.90,190.88 L58.91,190.86 L58.91,190.84 L58.91,190.82 L58.92,190.78 L58.93,190.74 L58.94,190.68 L58.95,190.62 L58.96,190.54 L58.98,190.45 L59.00,190.35 L59.02,190.23 L59.04,190.10 L59.07,189.96 L59.10,189.79 L59.13,189.61 L59.17,189.41 L59.21,189.19 L59.26,188.95 L59.30,188.69 L59.36,188.41 L59.41,188.10 L59.48,187.78 L59.54,187.43 L59.56,187.33 L59.61,187.06 L59.69,186.67 L59.77,186.25 L59.86,185.81 L59.95,185.35 L60.05,184.87 L60.15,184.37 L60.22,184.04 L60.26,183.84 L60.38,183.29 L60.50,182.71 L60.63,182.07 L60.77,181.37 L60.88,180.81 L60.91,180.63 L61.06,179.87 L61.22,179.09 L61.39,178.34 L61.54,177.73 L61.56,177.65 L61.74,177.05 L61.93,176.61 L62.13,176.32 L62.20,176.24 L62.34,176.06 L62.55,175.82 L62.78,175.58 L62.86,175.49 L63.01,175.35 L63.25,175.14 L63.50,174.93 L63.52,174.92 L63.76,174.74 L64.03,174.57 L64.18,174.47 L64.31,174.40 L64.60,174.24 L64.84,174.12 L64.90,174.09 L65.50,173.81 L66.16,173.51 L66.82,173.18 L67.48,172.78 L68.14,172.27 L68.80,171.60 L69.46,170.80 L70.12,169.92 L70.78,169.01 L71.44,168.10 L72.10,167.26 L72.76,166.52 L73.42,165.93 L74.08,165.49 L74.74,165.10 L75.40,164.74 L76.06,164.40 L76.72,164.09 L77.38,163.81 L78.04,163.54 L78.70,163.28 L79.36,163.03 L80.02,162.79 L80.68,162.56 L81.34,162.32 L82.00,162.08 L82.66,161.83 L83.32,161.58 L83.98,161.32 L84.64,161.07 L85.30,160.82 L85.96,160.57 L86.62,160.33 L87.28,160.09 L87.94,159.85 L88.60,159.62 L89.26,159.39 L89.92,159.16 L90.58,158.93 L91.24,158.70 L91.89,158.47 L92.55,158.24 L93.21,158.02 L93.87,157.79 L94.53,157.56 L95.19,157.33 L95.85,157.10 L96.51,156.87 L97.17,156.64 L97.83,156.40 L98.49,156.17 L99.15,155.93 L99.81,155.69 L100.47,155.45 L101.13,155.21 L101.79,154.98 L102.45,154.74 L103.11,154.50 L103.77,154.26 L104.43,154.02 L105.09,153.78 L105.75,153.55 L106.41,153.31 L107.07,153.07 L107.73,152.84 L108.39,152.60 L109.05,152.37 L109.71,152.13 L110.37,151.90 L111.03,151.67 L111.69,151.44 L112.35,151.21 L113.01,150.99 L113.67,150.76 L114.33,150.53 L114.99,150.30 L115.65,150.07 L116.31,149.84 L116.97,149.61 L117.63,149.38 L118.29,149.16 L118.95,148.93 L119.61,148.71 L120.27,148.49 L120.93,148.27 L121.59,148.05 L122.25,147.83 L122.91,147.62 L123.57,147.41 L124.23,147.21 L124.89,147.00 L125.55,146.80 L126.21,146.61 L126.87,146.42 L127.53,146.23 L128.19,146.04 L128.85,145.85 L129.51,145.66 L130.17,145.48 L130.83,145.30 L131.49,145.12 L132.15,144.94 L132.81,144.76 L133.47,144.59 L134.13,144.42 L134.79,144.24 L135.45,144.07 L136.11,143.90 L136.77,143.73 L137.43,143.56 L138.09,143.40 L138.75,143.23 L139.41,143.06 L140.07,142.90 L140.73,142.74 L141.39,142.57 L142.05,142.41 L142.71,142.25 L143.37,142.09 L144.03,141.93 L144.69,141.77 L145.35,141.61 L146.01,141.45 L146.67,141.29 L147.33,141.13 L147.99,140.97 L148.65,140.81 L149.31,140.65 L149.97,140.49 L150.63,140.33 L151.29,140.17 L151.95,140.01 L152.61,139.85 L153.27,139.68 L153.93,139.52 L154.59,139.36 L155.25,139.20 L155.91,139.03 L156.57,138.87 L157.23,138.70 L157.88,138.54 L158.54,138.37 L159.20,138.20 L159.86,138.03 L160.52,137.87 L161.18,137.70 L161.84,137.53 L162.50,137.36 L163.16,137.19 L163.82,137.02 L164.48,136.86 L165.14,136.69 L165.80,136.52 L166.46,136.35 L167.12,136.19 L167.78,136.02 L168.44,135.85 L169.10,135.69 L169.76,135.52 L170.42,135.36 L171.08,135.19 L171.74,135.02 L172.40,134.86 L173.06,134.69 L173.72,134.53 L174.38,134.36 L175.04,134.19 L175.70,134.03 L176.36,133.86 L177.02,133.70 L177.68,133.53 L178.34,133.36 L179.00,133.19 L179.66,133.03 L180.32,132.86 L180.98,132.69 L181.64,132.52 L182.30,132.35 L182.96,132.19 L183.62,132.02 L184.28,131.85 L184.94,131.68 L185.60,131.51 L186.26,131.33 L186.92,131.16 L187.58,130.99 L188.24,130.82 L188.90,130.64 L189.56,130.47 L190.22,130.30 L190.88,130.12 L191.54,129.94 L192.20,129.77 L192.86,129.59 L193.52,129.41 L194.18,129.23 L194.84,129.05 L195.50,128.87 L196.16,128.69 L196.82,128.51 L197.48,128.33 L198.14,128.14 L198.80,127.96 L199.46,127.77 L200.12,127.59 L200.78,127.40 L201.44,127.21 L202.10,127.01 L202.76,126.82 L203.42,126.62 L204.08,126.42 L204.74,126.22 L205.40,126.02 L206.06,125.82 L206.72,125.62 L207.38,125.41 L208.04,125.21 L208.70,125.00 L209.36,124.79 L210.02,124.58 L210.68,124.38 L211.34,124.17 L212.00,123.96 L212.66,123.75 L213.32,123.55 L213.98,123.34 L214.64,123.14 L215.30,122.93 L215.96,122.73 L216.62,122.52 L217.28,122.32 L217.94,122.12 L218.60,121.92 L219.26,121.72 L219.92,121.52 L220.58,121.33 L221.24,121.14 L221.90,120.95 L222.56,120.76 L223.22,120.57 L223.87,120.38 L224.53,120.19 L225.19,120.01 L225.85,119.82 L226.51,119.63 L227.17,119.45 L227.83,119.26 L228.49,119.08 L229.15,118.89 L229.81,118.70 L230.47,118.52 L231.13,118.33 L231.79,118.14 L232.45,117.95 L233.11,117.76 L233.77,117.56 L234.43,117.37 L235.09,117.17 L235.75,116.97 L236.41,116.77 L237.07,116.57 L237.73,116.37 L238.39,116.17 L239.05,115.96 L239.71,115.76 L240.37,115.55 L241.03,115.35 L241.69,115.14 L242.35,114.93 L243.01,114.72 L243.67,114.51 L244.33,114.30 L244.99,114.09 L245.65,113.88 L246.31,113.67 L246.97,113.46 L247.63,113.25 L248.29,113.04 L248.95,112.83 L249.61,112.62 L250.27,112.41 L250.93,112.21 L251.59,112.01 L252.25,111.80 L252.91,111.60 L253.57,111.40 L254.23,111.20 L254.89,111.00 L255.55,110.80 L256.21,110.59 L256.87,110.38 L257.53,110.16 L258.19,109.94 L258.85,109.71 L259.51,109.48 L260.17,109.24 L260.83,108.98 L261.49,108.70 L262.15,108.42 L262.81,108.12 L263.47,107.81 L264.13,107.50 L264.79,107.18 L265.45,106.87 L266.11,106.56 L266.77,106.25 L267.43,105.95 L268.09,105.66 L268.75,105.38 L269.41,105.12 L270.07,104.88 L270.73,104.65 L271.39,104.43 L272.05,104.23 L272.71,104.04 L273.37,103.85 L274.03,103.66 L274.69,103.48 L275.35,103.30 L276.01,103.12 L276.67,102.94 L277.33,102.75 L277.99,102.56 L278.65,102.35 L279.31,102.14 L279.97,101.91 L280.63,101.67 L281.29,101.43 L281.95,101.18 L282.61,100.93 L283.27,100.67 L283.93,100.40 L284.59,100.12 L285.25,99.84 L285.91,99.56 L286.57,99.26 L287.23,98.97 L287.89,98.66 L288.55,98.35 L289.21,98.03 L289.86,97.70 L290.52,97.37 L291.18,97.03 L291.84,96.68 L292.50,96.33 L293.16,95.96 L293.82,95.58 L294.48,95.19 L295.14,94.79 L295.80,94.37 L296.46,93.94 L297.12,93.50 L297.78,93.04 L298.44,92.57 L299.10,92.08 L299.76,91.58 L300.42,91.06 L301.08,90.51 L301.74,89.92 L302.40,89.30 L303.06,88.66 L303.72,88.00 L304.38,87.33 L305.04,86.64 L305.70,85.93 L306.36,85.21 L307.02,84.46 L307.68,83.68 L308.34,82.86 L309.00,82.00 L309.66,81.10 L310.32,80.15 L310.98,79.14 L311.64,78.09 L312.30,76.99 L312.96,75.83 L313.62,74.62 L314.28,73.37 L314.94,72.04 L315.60,70.64 L316.20,69.30 L316.26,69.15 L316.50,68.59 L316.79,67.89 L316.92,67.56 L317.07,67.19 L317.34,66.49 L317.58,65.85 L317.60,65.80 L317.85,65.12 L318.09,64.44 L318.24,64.02 L318.32,63.77 L318.55,63.11 L318.76,62.45 L318.90,62.01 L318.97,61.78 L319.17,61.12 L319.36,60.46 L319.54,59.80 L319.56,59.72 L319.71,59.15 L319.88,58.50 L320.04,57.85 L320.19,57.26 L320.22,57.13 L320.33,56.71 L320.47,56.18 L320.60,55.65 L320.72,55.11 L320.84,54.56 L320.88,54.34 L320.95,53.98 L321.05,53.38 L321.15,52.76 L321.24,52.12 L321.33,51.46 L321.41,50.79 L321.49,50.12 L321.54,49.61 L321.56,49.42 L321.62,48.66 L321.69,47.81 L321.74,46.87 L321.80,45.84 L321.84,44.75 L321.89,43.59 L321.93,42.41 L321.97,41.21 L322.00,40.01 L322.03,38.42 L322.06,36.27 L322.08,33.89 L322.10,31.50 L322.12,29.23 L322.14,27.18 L322.15,25.37 L322.16,23.81 L322.17,22.51 L322.18,21.44 L322.19,20.59 L322.19,19.93 L322.19,19.44 L322.20,19.08 L322.20,18.85 L322.20,18.70 L322.20,18.63 L322.20,18.60 L322.20,18.60" fill="none" stroke="#ff0000" stroke-width="1.25" stroke-linejoin="round"/>
</g>
<g id="pb">
<path d="M58.9,253.8V449.8H322.3M58.9,449.80h2.8M58.9,417.13h2.8M58.9,384.47h2.8M58.9,351.80h2.8M58.9,319.13h2.8M58.9,286.47h2.8M58.9,253.80h2.8M58.90,449.8v-2.8M111.58,449.8v-2.8M164.26,449.8v-2.8M216.94,449.8v-2.8M269.62,449.8v-2.8M322.30,449.8v-2.8" fill="none" stroke="#000" stroke-width="1" opacity="0.8"/>
<polyline fill="none" stroke="none" marker-start="url(#mxb)" marker-mid="url(#mxb)" marker-end="url(#mxb)" points="58.9,350.5 59,347.4 59,336.7 59.1,320.6 59.1,340.1 59.2,335.6 59.2,322.9 59.3,334.8 59.3,352.1 59.4,334 59.4,327.6 59.5,344.2 59.5,346.1 59.6,319.9 59.6,349.3 59.7,347.5 59.7,328.6 59.8,328.3 59.8,325.3 59.9,341.7 60,332.4 60,352.7 60.1,346.3 60.1,353.6 60.2,346.5 60.2,349.5 60.3,349 60.3,352.9 60.4,346.1 60.4,339.5 60.5,347.6 60.5,328.3 60.6,353.7 60.6,345.8 60.7,346.3 60.7,338.6 60.8,350.8 60.8,346.2 60.9,339.8 61,346.7 61,320.5 61.1,341.2 61.1,323.6 61.2,332.3 61.2,336.7 61.3,347.9 61.3,335.9 61.4,345.8 61.4,343 61.5,330.1 61.5,351.3 61.6,335.7 61.6,325.3 61.7,349.4 61.7,336.5 61.8,344.3 61.9,343.2 61.9,339.8 62,349.9 62,333.4 62.1,324.5 62.1,336.5 62.2,345.6 62.2,338.8 62.3,345.4 62.3,345.6 62.4,331.8 62.4,344.1 62.5,317.6 62.5,330.3 62.6,334.5 62.6,346.3 62.7,338.4 62.7,329.7 62.8,321 62.9,337.7 62.9,326.9 63,317.5 63,322.8 63.1,346.9 63.1,326.1 63.2,333.7 63.2,324.1 63.3,329.7 63.3,315.1 63.4,342.8 63.4,323.5 63.5,318.1 63.5,330.8 63.6,326.6 63.6,315.3 63.7,320.1 63.7,353.2 63.8,337.6 63.9,318 63.9,317.1 64,315.6 64,325.3 64.1,321.7 64.1,331.8 64.2,321.8 64.2,308.2 64.3,312.7 64.3,326.1 64.4,312.8 64.4,330.3 64.5,340.6 64.5,332.2 64.6,325.2 64.6,310.6 64.7,319.6 64.7,318.2 64.8,323.3 64.9,312 64.9,312.4 65,321 65,335.6 65.1,315.1 65.1,322.8 65.2,326.6 65.2,311.2 65.3,309.1 65.3,319.9 65.4,319.4 65.4,306.2 65.5,316.7 65.5,315 65.6,317.6 65.6,318.5 65.7,334.3 65.7,310.6 65.8,315.4 65.9,324.3 65.9,325.3 66,309.3 66,336.2 66.1,311.4 66.1,319.5 66.2,313.2 66.2,316 66.3,317.9 66.3,303.3 66.4,315.2 66.4,331.4 66.5,324.9 66.5,309.8 66.6,312.7 66.6,302.5 66.7,331.2 66.8,295.7 66.8,331.1 66.9,330.8 66.9,309.7 67,310.5 67,315.7 67.1,310.1 67.1,307.2 67.2,324.3 67.2,309.9 67.3,332.9 67.3,333.8 67.4,321.8 67.4,310.1 67.5,327.9 67.5,307.4 67.6,315.2 67.6,321.3 67.7,302.1 67.8,310.4 67.8,301.1 67.9,317.5 67.9,328.2 68,303 68,310.1 68.1,305.6 68.1,303.1 68.2,317.7 68.2,326.4 68.3,319.7 68.3,312 68.4,326 68.4,320 68.5,323.5 68.5,311.7 68.6,299 68.6,324.7 68.7,331.5 68.8,322.6 68.8,319.5 68.9,309.4 68.9,304.7 69,329.5 69,311.7 69.1,324.2 69.1,328.6 69.2,306.8 69.2,301.2 69.3,323.8 69.3,333 69.4,327.7 69.4,315.3 69.5,327.9 69.5,325.3 69.6,306.6 69.6,316.6 69.7,298.3 69.8,322.4 69.8,328.6 69.9,313.4 69.9,307.1 70,311 70,322.6 70.1,319.8 70.1,323.1 70.2,298.7 70.2,317.6 70.3,310.5 70.3,301.3 70.4,302.6 70.4,325.2 70.5,302.4 70.5,321 70.6,306.4 70.6,304.6 70.7,312.2 70.8,300.3 70.8,323.4 70.9,319.5 70.9,324.9 71,327.8 71,323 71.1,296 71.1,318 71.2,305.8 71.2,315.9 71.3,309.5 71.3,308 71.4,303.8 71.4,316.9 71.5,321.4 71.5,318.8 71.6,325.5 71.7,324.7 71.7,323.1 71.8,309.9 71.8,304.1 71.9,323 71.9,317.6 72,324.5 72,311.1 72.1,324.2 72.1,310.8 72.2,309 72.2,303.3 72.3,318.2 72.3,327.5 72.4,324.3 72.4,309.3 72.5,307.1 72.5,304.2 72.6,306.3 72.7,310.4 72.7,313.4 72.8,301.7 72.8,314.7 72.9,305.8 72.9,324.6 73,297.7 73,295.1 73.1,303.9 73.1,311.3 73.2,311.2 73.2,310.1 73.3,312.3 73.3,311 73.4,317.3 73.4,315.5 73.5,324.1 73.5,306.1 73.6,324.4 73.7,308.9 73.7,308.6 73.8,310.5 73.8,315.7 73.9,300.4 73.9,325.8 74,309.4 74,306.8 74.1,307 74.1,297.3 74.2,324.2 74.2,320.8 74.3,308.4 74.3,323.2 74.4,292.9 74.4,303.7 74.5,302.1 74.5,298.6 74.6,302.1 74.7,313.6 74.7,307.8 74.8,301.3 74.8,297.6 74.9,297 74.9,303.2 75,313.9 75,315.4 75.1,308.1 75.1,314.3 75.2,316.9 75.2,301.3 75.3,302.7 75.3,306.7 75.4,316 75.4,311.1 75.5,316 75.6,302.8 75.6,310.1 75.7,305.9 75.7,307.5 75.8,309.5 75.8,309.6 75.9,319.1 75.9,313.3 76,321.4 76,300.7 76.1,311.2 76.1,324.3 76.2,303.4 76.2,314.7 76.3,315 76.3,311.8 76.4,317.1 76.4,303.4 76.5,298.8 76.6,309.4 76.6,313.3 76.7,311.6 76.7,313.9 76.8,318.2 76.8,306.6 76.9,312 76.9,323.3 77,311.7 77,315.6 77.1,309.7 77.1,318.2 77.2,297.3 77.2,316.2 77.3,307.6 77.3,305.9 77.4,311.1 77.4,315.6 77.5,307.2 77.6,303.9 77.6,308.1 77.7,300.9 77.7,302.2 77.8,314.7 77.8,317.9 77.9,308.2 77.9,303.7 78,300.6 78,305.9 78.1,322.6 78.1,311.4 78.2,299.8 78.2,320.5 78.3,312.4 78.3,301.1 78.4,301.3 78.4,310.4 78.5,321.2 78.6,322.1 78.6,312.2 78.7,319.4 78.7,297.1 78.8,297.9 78.8,309.8 78.9,304.8 78.9,306.7 79,314.8 79,286.2 79.1,315.9 79.1,326.4 79.2,308.6 79.2,306.1 79.3,302 79.3,298.7 79.4,327.6 79.4,302.8 79.5,286 79.6,309.7 79.6,308.3 79.7,320.7 79.7,307.2 79.8,317.5 79.8,311.2 79.9,303.4 79.9,311 80,307 80,300.8 80.1,295 80.1,303.8 80.2,308.1 80.2,311.3 80.3,320.2 80.3,299.8 80.4,310.4 80.5,291.4 80.5,317.1 80.6,315.1 80.6,300.2 80.7,297.1 80.7,311.4 80.8,307.2 80.8,319.2 80.9,317.4 80.9,307.3 81,313.2 81,311.7 81.1,299.2 81.1,305 81.2,312.8 81.2,324.1 81.3,315.3 81.3,298.8 81.4,314.7 81.5,311.6 81.5,296.7 81.6,304.4 81.6,303.3 81.7,314.2 81.7,316.6 81.8,308.1 81.8,309.5 81.9,316.8 81.9,302.3 82,306.3 82,302.9 82.1,305.7 82.1,305.5 82.2,315.9 82.2,321.4 82.3,297.4 82.3,316.8 82.4,310.5 82.5,291.7 82.5,310.4 82.6,305.7 82.6,315.8 82.7,310.9 82.7,319.3 82.8,318.1 82.8,304.2 82.9,300.8 82.9,315.7 83,300.9 83,307.2 83.1,314.9 83.1,317.3 83.2,313 83.2,311.7 83.3,298.7 83.3,312.8 83.4,303.6 83.5,288.5 83.5,308.9 83.6,307.9 83.6,306.6 83.7,318.7 83.7,312.5 83.8,303.4 83.8,319.5 83.9,311.9 83.9,314.6 84,309.5 84,307.5 84.1,315.3 84.1,299.2 84.2,306.6 84.2,317.3 84.3,308.6 84.3,313.5 84.4,319.7 84.5,305.6 84.5,305.9 84.6,313.9 84.6,297.2 84.7,312.2 84.7,297.4 84.8,313.9 84.8,301.8 84.9,308.7 84.9,315.4 85,303.7 85,310.2 85.1,311.4 85.1,314.4 85.2,312 85.2,300.8 85.3,307.9 85.4,295.6 85.4,300.9 85.5,304.3 85.5,299.3 85.6,318 85.6,306 85.7,307.1 85.7,304.5 85.8,309.7 85.8,297 85.9,300.5 85.9,299.1 86,313.8 86,315 86.1,313.2 86.1,316.3 86.2,299 86.2,307.7 86.3,309.8 86.4,307.3 86.4,307.6 86.5,295.1 86.5,296.9 86.6,308.5 86.6,316.9 86.7,297.6 86.7,306.8 86.8,302.4 86.8,310.8 86.9,307.9 86.9,312.2 87,314.3 87,306 87.1,302 87.1,319 87.2,316.9 87.2,315.5 87.3,302.5 87.4,310.6 87.4,316.4 87.5,300 87.5,308.5 87.6,311.7 87.6,313.4 87.7,321.9 87.7,304.2 87.8,305.2 87.8,315.1 87.9,314.8 87.9,313 88,304.8 88,311.4 88.1,311.6 88.1,310.2 88.2,313.1 88.2,302.2 88.3,305.2 88.4,305 88.4,307.5 88.5,306.1 88.5,315 88.6,297.4 88.6,301.9 88.7,304.6 88.7,309.9 88.8,306.6 88.8,311.3 88.9,298.4 88.9,316.7 89,301.1 89,313.9 89.1,314.5 89.1,310.7 89.2,311.4 89.2,305.4 89.3,313.1 89.4,315.8 89.4,306.2 89.5,315.7 89.5,322.4 89.6,300.2 89.6,310.6 89.7,304.7 89.7,297.1 89.8,299.1 89.8,297.8 89.9,301.2 89.9,308.7 90,309.6 90,312.1 90.1,306.8 90.1,308.8 90.2,306.2 90.3,296.9 90.3,302.7 90.4,309.6 90.4,302.9 90.5,314.3 90.5,308.1 90.6,306.3 90.6,319.3 90.7,300 90.7,302.4 90.8,296.5 90.8,305 90.9,310.9 90.9,292.2 91,310.8 91,310.2 91.1,294.5 91.1,302.3 91.2,302.4 91.3,305 91.3,319.6 91.4,313.1 91.4,308.4 91.5,295.6 91.5,304.9 91.6,311 91.6,317.9 91.7,295.7 91.7,316.4 91.8,316.2 91.8,298.9 91.9,316.1 91.9,295.9 92,309.7 92,297.7 92.1,299.2 92.1,312.2 92.2,315.9 92.3,303 92.3,315.4 92.4,300.8 92.4,302 92.5,301.9 92.5,313.6 92.6,310.1 92.6,309.7 92.7,301.2 92.7,305.4 92.8,306 92.8,301.6 92.9,311.1 92.9,300.5 93,303.4 93,303.7 93.1,305.3 93.1,314.3 93.2,313 93.3,304.2 93.3,310.9 93.4,298.9 93.4,311.1 93.5,304.3 93.5,296.9 93.6,305.4 93.6,312 93.7,307.7 93.7,295.2 93.8,314.5 93.8,304.4 93.9,315.5 93.9,314.5 94,306.6 94,311.2 94.1,300.7 94.1,297.3 94.2,297.8 94.3,315.3 94.3,301.5 94.4,307.4 94.4,306.5 94.5,297.5 94.5,312.1 94.6,296.7 94.6,308.8 94.7,308.3 94.7,302.4 94.8,287.3 94.8,310.2 94.9,300.7 94.9,318.2 95,301.5 95,296.2 95.1,300.8 95.2,296.5 95.2,314.5 95.3,297 95.3,306.2 95.4,315.3 95.4,312.1 95.5,313.4 95.5,300.4 95.6,295.9 95.6,306 95.7,300.6 95.7,304.6 95.8,295.4 95.8,307.6 95.9,299.7 95.9,306.8 96,315.2 96,299.1 96.1,298.2 96.2,306.3 96.2,302.8 96.3,300.5 96.3,310.2 96.4,314.9 96.4,299.4 96.5,296.6 96.5,303.9 96.6,302.8 96.6,305.7 96.7,314.9 96.7,305.6 96.8,300.8 96.8,306.2 96.9,293.9 96.9,307.6 97,309 97,301.4 97.1,301.4 97.2,311 97.2,302.8 97.3,304.2 97.3,294.8 97.4,294.7 97.4,309.2 97.5,303.8 97.5,309.7 97.6,301.8 97.6,306.8 97.7,301.3 97.7,299.8 97.8,304.8 97.8,306.1 97.9,311.1 97.9,304.9 98,310.3 98,298.6 98.1,304.5 98.2,296.8 98.2,296.4 98.3,308.8 98.3,312.2 98.4,305.8 98.4,306.3 98.5,303.8 98.5,314.1 98.6,299.3 98.6,311.8 98.7,299.4 98.7,306.5 98.8,304 98.8,304 98.9,295.6 98.9,297.2 99,300.2 99.1,302.6 99.1,295.2 99.2,309.8 99.2,301.5 99.3,305.6 99.3,311.5 99.4,296.7 99.4,303.6 99.5,316.6 99.5,297.4 99.6,302.6 99.6,303.6 99.7,301.4 99.7,305.1 99.8,306.5 99.8,312.9 99.9,313.2 99.9,307.3 100,311.7 100.1,309.8 100.1,308.3 100.2,308 100.2,298.7 100.3,313.6 100.3,304.5 100.4,299.5 100.4,309.7 100.5,314.3 100.5,305.4 100.6,314.3 100.6,298.1 100.7,304.9 100.7,304.6 100.8,300.4 100.8,298.3 100.9,305.8 100.9,312.5 101,298.3 101.1,309.7 101.1,301.4 101.2,315.8 101.2,314.5 101.3,302.3 101.3,303.9 101.4,302.1 101.4,298.4 101.5,296.5 101.5,310.1 101.6,300.9 101.6,307 101.7,300.4 101.7,302.6 101.8,303.4 101.8,302.3 101.9,308.4 101.9,293.3 102,308.8 102.1,300.9 102.1,309.8 102.2,297.9 102.2,296.5 102.3,305.8 102.3,293.3 102.4,301.3 102.4,299.6 102.5,309.7 102.5,296.4 102.6,307.6 102.6,301.1 102.7,296.6 102.7,313.8 102.8,306.9 102.8,298.3 102.9,303.1 102.9,302.4 103,306.5 103.1,294.7 103.1,309.5 103.2,302.9 103.2,296.6 103.3,302.8 103.3,298.6 103.4,304.9 103.4,307.8 103.5,292.9 103.5,309.5 103.6,298.6 103.6,307.5 103.7,314.4 103.7,300.3 103.8,313.6 103.8,306.6 103.9,305 104,308.6 104,304.4 104.1,288.1 104.1,304.7 104.2,302.1 104.2,294.4 104.3,307.4 104.3,299.8 104.4,297.8 104.4,316.2 104.5,295.4 104.5,309.5 104.6,313.7 104.6,294.1 104.7,306.9 104.7,297 104.8,296.9 104.8,305.2 104.9,301 105,313.3 105,294.4 105.1,307 105.1,301.7 105.2,304.3 105.2,301.5 105.3,300.5 105.3,304 105.4,302.6 105.4,306.5 105.5,301.4 105.5,304.7 105.6,310.4 105.6,305 105.7,308.9 105.7,304.9 105.8,304.9 105.8,306.7 105.9,309.9 106,307.6 106,305.5 106.1,301.9 106.1,300.7 106.2,303 106.2,297.2 106.3,295.8 106.3,303.7 106.4,311.4 106.4,306.8 106.5,309.5 106.5,302.2 106.6,293.2 106.6,298.1 106.7,307.5 106.7,305.1 106.8,299.9 106.8,308.5 106.9,294.7 107,306.3 107,307.4 107.1,306 107.1,296 107.2,297.9 107.2,306.2 107.3,297.6 107.3,308.7 107.4,302.8 107.4,297.2 107.5,300.8 107.5,296.4 107.6,297.8 107.6,311.5 107.7,296.6 107.7,306.9 107.8,302.4 107.8,306.6 107.9,306.2 108,312.3 108,299.9 108.1,304.1 108.1,308.2 108.2,301.2 108.2,302.1 108.3,306.4 108.3,293.9 108.4,308 108.4,294.1 108.5,302.9 108.5,301.6 108.6,306.5 108.6,313.5 108.7,304.2 108.7,301 108.8,308.5 108.9,297.8 108.9,299.9 109,303.9 109,296 109.1,307 109.1,311.5 109.2,308 109.2,305.5 109.3,293.2 109.3,309 109.4,304.4 109.4,294.2 109.5,305.4 109.5,299.4 109.6,308 109.6,309.8 109.7,296.7 109.7,310.4 109.8,305.6 109.9,299.8 109.9,308.8 110,302.4 110,306.5 110.1,300 110.1,295.1 110.2,302.5 110.2,312.1 110.3,291 110.3,304.3 110.4,302.2 110.4,305.9 110.5,304.9 110.5,296.4 110.6,312.2 110.6,290.9 110.7,301.7 110.7,296.6 110.8,302.9 110.9,304.2 110.9,298.6 111,309.1 111,294.1 111.1,301.4 111.1,300.4 111.2,303.3 111.2,314.4 111.3,306.2 111.3,301.6 111.4,295.6 111.4,287.7 111.5,301.7 111.5,293.8 111.6,304.2 111.6,308.9 111.7,308.1 111.7,292.2 111.8,298.5 111.9,303.8 111.9,294.4 112,297.4 112,304.6 112.1,301.3 112.1,295.7 112.2,301.4 112.2,306.6 112.3,295.2 112.3,301.3 112.4,309.9 112.4,295.6 112.5,293.6 112.5,298.9 112.6,290.2 112.6,301.9 112.7,292 112.7,291.8 112.8,298.6 112.9,293.3 112.9,300 113,309.1 113,302.1 113.1,306.7 113.1,308.5 113.2,303 113.2,303.4 113.3,297 113.3,309.9 113.4,305.4 113.4,299.1 113.5,306.6 113.5,305.9 113.6,299.6 113.6,300.6 113.7,296.4 113.8,302.3 113.8,305 113.9,297.2 113.9,298.3 114,293 114,296.9 114.1,294.7 114.1,297 114.2,307.2 114.2,301.1 114.3,305.9 114.3,308 114.4,300 114.4,304.9 114.5,292.7 114.5,301 114.6,310.5 114.6,307.6 114.7,304.2 114.8,308.1 114.8,309.7 114.9,297.5 114.9,297.5 115,310.8 115,307.1 115.1,311.7 115.1,305.4 115.2,302.5 115.2,303.3 115.3,315.2 115.3,304.2 115.4,305 115.4,308.4 115.5,302.2 115.5,299.7 115.6,295.5 115.6,300.2 115.7,307.8 115.8,291.6 115.8,300.4 115.9,299.5 115.9,313 116,297.8 116,304 116.1,307.1 116.1,295.3 116.2,289.6 116.2,308.1 116.3,292.2 116.3,302.4 116.4,301.7 116.4,298 116.5,298.3 116.5,308.6 116.6,308.7 116.6,292.6 116.7,299.3 116.8,299.6 116.8,306.2 116.9,293.3 116.9,314.3 117,304.4 117,306.2 117.1,307 117.1,284.5 117.2,304.6 117.2,298.4 117.3,300.5 117.3,301.2 117.4,303.5 117.4,299 117.5,309.6 117.5,296.3 117.6,301.2 117.6,295.9 117.7,316.6 117.8,293.3 117.8,295.9 117.9,309.3 117.9,306.9 118,310 118,303.6 118.1,299.6 118.1,303 118.2,298.7 118.2,298.9 118.3,303.2 118.3,303.4 118.4,295 118.4,310.4 118.5,304 118.5,300.4 118.6,291.1 118.7,293.2 118.7,300.6 118.8,301.3 118.8,302.6 118.9,310.2 118.9,291.4 119,302 119,307.1 119.1,302.3 119.1,297.6 119.2,307.9 119.2,290.6 119.3,295.5 119.3,302.5 119.4,310.5 119.4,309 119.5,303.9 119.5,291.9 119.6,306.4 119.7,297.1 119.7,301.9 119.8,302.9 119.8,292.3 119.9,296.6 119.9,291.3 120,299 120,306.9 120.1,289.4 120.1,299.4 120.2,300.8 120.2,302.7 120.3,291.2 120.3,291 120.4,298.2 120.4,298.2 120.5,306.8 120.5,302.5 120.6,299.6 120.7,306.7 120.7,296.1 120.8,297.2 120.8,302.4 120.9,299.8 120.9,298.2 121,290.6 121,302.8 121.1,305.4 121.1,294.9 121.2,292.1 121.2,297.3 121.3,293.9 121.3,307.4 121.4,307.2 121.4,307.8 121.5,301.3 121.5,291.2 121.6,299.6 121.7,294.1 121.7,302.6 121.8,290.4 121.8,302 121.9,307.2 121.9,298.2 122,291.1 122,294.1 122.1,301 122.1,300 122.2,291.7 122.2,301.2 122.3,293.2 122.3,299.7 122.4,300.2 122.4,293.7 122.5,305.7 122.6,294.1 122.6,304.6 122.7,295.5 122.7,302.2 122.8,287.6 122.8,299.3 122.9,304.4 122.9,309.4 123,295.8 123,303.2 123.1,296.1 123.1,303.7 123.2,295.7 123.2,300.8 123.3,295 123.3,294.7 123.4,290.9 123.4,304.7 123.5,303.2 123.6,293.6 123.6,299 123.7,305.3 123.7,289.4 123.8,305.1 123.8,300.5 123.9,299.4 123.9,300.9 124,292.1 124,305.2 124.1,294.7 124.1,306.1 124.2,308.2 124.2,297.4 124.3,297.5 124.3,287.9 124.4,297.7 124.4,292.6 124.5,303 124.6,297.6 124.6,297.2 124.7,295.5 124.7,299.9 124.8,290.6 124.8,303.3 124.9,289.5 124.9,298.1 125,285.1 125,296.9 125.1,295.4 125.1,292.4 125.2,314.7 125.2,306.3 125.3,301.5 125.3,312 125.4,305.2 125.4,291.2 125.5,290.6 125.6,295.3 125.6,295.9 125.7,299.4 125.7,301.2 125.8,293.2 125.8,298.4 125.9,307.7 125.9,296.4 126,304 126,308 126.1,300.1 126.1,298.8 126.2,292.4 126.2,298.8 126.3,297 126.3,290.8 126.4,297.2 126.4,299.9 126.5,300.5 126.6,304 126.6,307 126.7,306.6 126.7,295.1 126.8,300.3 126.8,295.6 126.9,297.7 126.9,300.6 127,304.1 127,300 127.1,303.4 127.1,296.1 127.2,293.1 127.2,302.6 127.3,298.3 127.3,301.1 127.4,303.5 127.5,301 127.5,304 127.6,299.2 127.6,306.1 127.7,306 127.7,305.2 127.8,313 127.8,291.3 127.9,299.5 127.9,300.5 128,301.9 128,304.1 128.1,290.6 128.1,298.3 128.2,297.2 128.2,289.5 128.3,305.7 128.3,293.5 128.4,303.4 128.5,292.2 128.5,303.1 128.6,308.4 128.6,300.4 128.7,304.8 128.7,291.4 128.8,306.4 128.8,297.7 128.9,293.4 128.9,276.4 129,307 129,296 129.1,310.5 129.1,292.1 129.2,303.9 129.2,302 129.3,295.2 129.3,290.2 129.4,299.1 129.5,302.5 129.5,297.5 129.6,299 129.6,296.1 129.7,296.1 129.7,302.2 129.8,293 129.8,306.9 129.9,303.6 129.9,294.2 130,304.8 130,294.1 130.1,297 130.1,292.3 130.2,304.7 130.2,300.1 130.3,301.1 130.3,302.3 130.4,306.5 130.5,300.2 130.5,290.3 130.6,298.3 130.6,298.4 130.7,303.4 130.7,307.8 130.8,298.7 130.8,301.3 130.9,299 130.9,294.8 131,307.8 131,288.9 131.1,288.4 131.1,302.5 131.2,300.4 131.2,302.3 131.3,307.9 131.3,293.6 131.4,288.4 131.5,292.1 131.5,296.3 131.6,297.3 131.6,294 131.7,292.6 131.7,300.3 131.8,290 131.8,304.5 131.9,311.8 131.9,300.6 132,299.2 132,310 132.1,293.7 132.1,296.8 132.2,295.5 132.2,297.7 132.3,311.2 132.4,306.4 132.4,305.2 132.5,306.6 132.5,300 132.6,297.3 132.6,295 132.7,288.6 132.7,291.7 132.8,300.2 132.8,290.7 132.9,299.4 132.9,314.2 133,290.6 133,289.8 133.1,296.3 133.1,289.3 133.2,298.1 133.2,304.8 133.3,303.4 133.4,294.6 133.4,294.8 133.5,297.4 133.5,306.4 133.6,306.1 133.6,288 133.7,291.9 133.7,290.2 133.8,307.7 133.8,288.8 133.9,303.1 133.9,290.6 134,294.9 134,297.1 134.1,289.5 134.1,290.8 134.2,300.6 134.2,293.6 134.3,299 134.4,298.1 134.4,301.2 134.5,304.4 134.5,290.9 134.6,303.7 134.6,301.3 134.7,303 134.7,307.5 134.8,290.7 134.8,291.8 134.9,296.3 134.9,297.4 135,288.1 135,295.6 135.1,292.5 135.1,309.4 135.2,292.4 135.2,294.4 135.3,301.3 135.4,299.9 135.4,291.8 135.5,305.5 135.5,306.5 135.6,297.6 135.6,306.2 135.7,303.5 135.7,293 135.8,296.2 135.8,291.2 135.9,304.5 135.9,300.6 136,303.4 136,296 136.1,304.9 136.1,297.4 136.2,294.2 136.2,296.5 136.3,306 136.4,302.2 136.4,299.4 136.5,303.5 136.5,299.2 136.6,298.7 136.6,298.1 136.7,296.9 136.7,306.4 136.8,293.2 136.8,302.1 136.9,303.1 136.9,294.7 137,310.3 137,292.8 137.1,294.2 137.1,300 137.2,294.3 137.3,288.5 137.3,294.5 137.4,293.8 137.4,293.7 137.5,295 137.5,301.6 137.6,302.6 137.6,308 137.7,302.1 137.7,289.3 137.8,288.8 137.8,291.7 137.9,292.9 137.9,301.4 138,293.7 138,300.2 138.1,293 138.1,292 138.2,291.6 138.3,296.8 138.3,300.3 138.4,305.9 138.4,298.5 138.5,293.2 138.5,291.9 138.6,297.6 138.6,303.4 138.7,298.1 138.7,288.1 138.8,302.9 138.8,292.9 138.9,304.3 138.9,296.3 139,290.5 139,301.3 139.1,292.9 139.1,305.4 139.2,301.9 139.3,298.9 139.3,289.9 139.4,295.9 139.4,303.8 139.5,299.4 139.5,288.5 139.6,290.5 139.6,290.1 139.7,288.6 139.7,292 139.8,292.2 139.8,293.2 139.9,305 139.9,289.5 140,296.9 140,297.6 140.1,298.2 140.1,289.8 140.2,299.8 140.3,288.6 140.3,293.1 140.4,298.6 140.4,298.7 140.5,298.8 140.5,308.9 140.6,294.7 140.6,303.8 140.7,296.4 140.7,287 140.8,289.9 140.8,291.5 140.9,287.3 140.9,289.7 141,304.5 141,296 141.1,293.7 141.1,290.6 141.2,305.2 141.3,304.9 141.3,294 141.4,304.7 141.4,288.9 141.5,306.1 141.5,280.8 141.6,304.4 141.6,288.5 141.7,291.6 141.7,308.6 141.8,290.1 141.8,286.6 141.9,300.3 141.9,289.5 142,300.6 142,296.2 142.1,290.2 142.2,293 142.2,298.2 142.3,305.2 142.3,294.6 142.4,290.3 142.4,291.8 142.5,297.2 142.5,305.8 142.6,298.5 142.6,302.4 142.7,302.4 142.7,287.3 142.8,290.9 142.8,292.9 142.9,291.5 142.9,294.4 143,286.3 143,303.5 143.1,299.2 143.2,286.7 143.2,293.2 143.3,296.1 143.3,298.8 143.4,303.3 143.4,293.9 143.5,294.8 143.5,304.4 143.6,295.2 143.6,296.9 143.7,301.4 143.7,292.1 143.8,303.3 143.8,299.2 143.9,290.9 143.9,299.9 144,298.3 144,287.5 144.1,288.6 144.2,292.2 144.2,289.5 144.3,296.5 144.3,298.4 144.4,289.5 144.4,295.3 144.5,288.1 144.5,288.6 144.6,288.4 144.6,293.8 144.7,287.7 144.7,289.8 144.8,287.2 144.8,292.8 144.9,296 144.9,299.5 145,293.5 145,298.4 145.1,293.3 145.2,291.2 145.2,287.4 145.3,296.1 145.3,298.2 145.4,285.4 145.4,299.2 145.5,295.6 145.5,304.1 145.6,297.2 145.6,290.3 145.7,287.3 145.7,288.9 145.8,294 145.8,293.5 145.9,295.1 145.9,303.1 146,301.5 146.1,297.9 146.1,290.6 146.2,292 146.2,296.5 146.3,293.1 146.3,290.7 146.4,285.9 146.4,292.8 146.5,302.2 146.5,286.7 146.6,297.6 146.6,291.4 146.7,286.6 146.7,302.4 146.8,295.4 146.8,290.1 146.9,297.6 146.9,298.9 147,292.4 147.1,289.3 147.1,303.9 147.2,293.1 147.2,284.9 147.3,291 147.3,289.5 147.4,310 147.4,299 147.5,281.7 147.5,299.1 147.6,300.8 147.6,294.9 147.7,299 147.7,298.7 147.8,288.9 147.8,290.3 147.9,284.9 147.9,287.6 148,288 148.1,294.5 148.1,295.2 148.2,294.3 148.2,283.6 148.3,300.4 148.3,283.7 148.4,296.1 148.4,289.4 148.5,300.6 148.5,283.3 148.6,304.5 148.6,298.7 148.7,290.4 148.7,298.5 148.8,298.9 148.8,288.5 148.9,304.6 148.9,299.3 149,295.6 149.1,291.6 149.1,288.5 149.2,305 149.2,300.2 149.3,299.7 149.3,294.7 149.4,285.7 149.4,299.2 149.5,293.3 149.5,292.2 149.6,304.5 149.6,302 149.7,297.5 149.7,286.7 149.8,297.3 149.8,295.9 149.9,293.1 149.9,298.4 150,293.8 150.1,303.1 150.1,290.3 150.2,292.5 150.2,292.3 150.3,299.2 150.3,287.9 150.4,295.2 150.4,290.4 150.5,300.4 150.5,303.3 150.6,298.1 150.6,294.8 150.7,297.6 150.7,301.5 150.8,300 150.8,294 150.9,296.4 151,293.7 151,304 151.1,292.5 151.1,291.1 151.2,305.2 151.2,296.8 151.3,301.8 151.3,293.5 151.4,297.9 151.4,303 151.5,294 151.5,292.2 151.6,297.4 151.6,288.1 151.7,295.1 151.7,304.6 151.8,285.4 151.8,295.1 151.9,301.7 152,296.6 152,303.4 152.1,293.8 152.1,287 152.2,290.5 152.2,294.7 152.3,287.1 152.3,290.2 152.4,291 152.4,296.1 152.5,290.4 152.5,291.4 152.6,285.7 152.6,299.5 152.7,294.5 152.7,307 152.8,297.7 152.8,303.7 152.9,294.5 153,294.6 153,303.3 153.1,285.5 153.1,292.3 153.2,288.9 153.2,287 153.3,300.5 153.3,298.3 153.4,300.8 153.4,301.9 153.5,297.1 153.5,294.2 153.6,295 153.6,288.3 153.7,292.1 153.7,299.7 153.8,294.1 153.8,301.6 153.9,290.2 154,295.9 154,288.4 154.1,288.3 154.1,303.1 154.2,295.2 154.2,294 154.3,294.4 154.3,297.1 154.4,298.8 154.4,288.6 154.5,283.9 154.5,306.8 154.6,287 154.6,296.7 154.7,295.8 154.7,290 154.8,299.6 154.8,289.6 154.9,294.2 155,290 155,291.3 155.1,297.5 155.1,307.8 155.2,300.6 155.2,287.5 155.3,293.3 155.3,303.2 155.4,297.3 155.4,292.5 155.5,291.4 155.5,294.1 155.6,303.4 155.6,299.4 155.7,287.1 155.7,293.7 155.8,290.5 155.9,286.2 155.9,299 156,289.7 156,291.7 156.1,295.3 156.1,294.2 156.2,294.4 156.2,285 156.3,290.3 156.3,289.5 156.4,292.6 156.4,293.6 156.5,292.7 156.5,300.2 156.6,299.8 156.6,292.2 156.7,296.8 156.7,290.4 156.8,287.2 156.9,301.9 156.9,299.5 157,301 157,296.5 157.1,293.1 157.1,303.3 157.2,295.4 157.2,289.5 157.3,288.3 157.3,289.6 157.4,289.7 157.4,285.5 157.5,295.2 157.5,297.1 157.6,293.1 157.6,290.3 157.7,296.9 157.7,298.8 157.8,290.6 157.9,301.8 157.9,299.9 158,300.5 158,298.4 158.1,290.7 158.1,289.4 158.2,292 158.2,289.8 158.3,291.6 158.3,296.1 158.4,294.3 158.4,297.2 158.5,287 158.5,287.9 158.6,301.5 158.6,291.7 158.7,288.3 158.7,297.3 158.8,289.5 158.9,289 158.9,292.9 159,297.4 159,298.3 159.1,299.6 159.1,288.5 159.2,303.1 159.2,302.1 159.3,284.6 159.3,301.3 159.4,299.2 159.4,301.5 159.5,294.1 159.5,301.8 159.6,290.2 159.6,288.9 159.7,296.2 159.7,300.7 159.8,298.4 159.9,286.9 159.9,290.5 160,297.6 160,301.6 160.1,288.6 160.1,291.9 160.2,293.7 160.2,301.4 160.3,298.4 160.3,295.4 160.4,291.4 160.4,301.2 160.5,293.7 160.5,284.5 160.6,301.9 160.6,295.5 160.7,294.5 160.8,299.5 160.8,302.3 160.9,301.6 160.9,307.9 161,296 161,292.5 161.1,286.4 161.1,288.7 161.2,285.5 161.2,293.1 161.3,292.8 161.3,292.8 161.4,287.7 161.4,289 161.5,285.8 161.5,289.8 161.6,288.7 161.6,289.2 161.7,287.5 161.8,293.1 161.8,285.8 161.9,297.2 161.9,284.2 162,301.6 162,304.1 162.1,290.8 162.1,296.4 162.2,308.2 162.2,289.4 162.3,289.2 162.3,295.8 162.4,301.7 162.4,299.3 162.5,289.1 162.5,300.3 162.6,289.2 162.6,287 162.7,288.3 162.8,300.2 162.8,286.4 162.9,287.6 162.9,295.9 163,298 163,297.8 163.1,288.7 163.1,297.9 163.2,289 163.2,299.3 163.3,287.4 163.3,301.8 163.4,296.1 163.4,291.4 163.5,301 163.5,288.7 163.6,282.8 163.6,290 163.7,289.6 163.8,294.7 163.8,294.4 163.9,286.5 163.9,287.3 164,290.6 164,293.9 164.1,299.7 164.1,294.9 164.2,289.2 164.2,289.7 164.3,288.3 164.3,283.6 164.4,300.6 164.4,292.6 164.5,290.3 164.5,300.3 164.6,291 164.6,295.4 164.7,295.2 164.8,287.1 164.8,292 164.9,286.1 164.9,292.5 165,293.8 165,292.5 165.1,291.3 165.1,289.7 165.2,297.3 165.2,294.7 165.3,297.5 165.3,300.1 165.4,288.6 165.4,291 165.5,294.5 165.5,292.2 165.6,285.4 165.7,295.3 165.7,294.9 165.8,298.5 165.8,285.3 165.9,298.8 165.9,295.3 166,297.1 166,298.9 166.1,297 166.1,298 166.2,299.5 166.2,290.7 166.3,293.5 166.3,288.6 166.4,294.9 166.4,297.4 166.5,294.6 166.5,296 166.6,295.1 166.7,299.1 166.7,285.5 166.8,296.7 166.8,287.2 166.9,291.4 166.9,282.7 167,296.6 167,290.6 167.1,300.5 167.1,295.7 167.2,285.5 167.2,298.5 167.3,288.6 167.3,297.7 167.4,296.3 167.4,284.5 167.5,292.2 167.5,294.9 167.6,295.9 167.7,293.4 167.7,300.2 167.8,304.4 167.8,291.1 167.9,295.5 167.9,284.1 168,285.5 168,290.1 168.1,292.8 168.1,294.8 168.2,288 168.2,285.6 168.3,301.7 168.3,290.3 168.4,286.7 168.4,290.9 168.5,295.3 168.5,298.4 168.6,286.4 168.7,296.1 168.7,296.6 168.8,291.3 168.8,295 168.9,300.3 168.9,284.8 169,298.6 169,292.6 169.1,300.8 169.1,280.4 169.2,293.1 169.2,293.2 169.3,282.9 169.3,293.5 169.4,290.4 169.4,295.4 169.5,290.4 169.6,289.2 169.6,293.3 169.7,300.3 169.7,282.8 169.8,292.3 169.8,290.9 169.9,290.6 169.9,297.3 170,288.7 170,283.7 170.1,290.9 170.1,284.9 170.2,294.5 170.2,296.7 170.3,286 170.3,290.7 170.4,282.9 170.4,291 170.5,289.4 170.6,286.6 170.6,294.9 170.7,293.3 170.7,283.5 170.8,289.8 170.8,295.9 170.9,298.2 170.9,292.7 171,302.9 171,292.6 171.1,295.4 171.1,287.8 171.2,294.9 171.2,287.7 171.3,298.3 171.3,289.4 171.4,298.1 171.4,287.8 171.5,283.8 171.6,273.8 171.6,288.7 171.7,295.9 171.7,284.7 171.8,284.4 171.8,291.1 171.9,294.5 171.9,292.5 172,293.1 172,291.2 172.1,285.2 172.1,288 172.2,287.6 172.2,291.6 172.3,300.1 172.3,291.9 172.4,299.6 172.4,289.8 172.5,308.6 172.6,300.8 172.6,299.6 172.7,291.7 172.7,293.2 172.8,290 172.8,298.9 172.9,287.9 172.9,284.5 173,292 173,296 173.1,283 173.1,287.2 173.2,291.4 173.2,295.7 173.3,290.3 173.3,293.7 173.4,298.6 173.4,293.3 173.5,298.9 173.6,298.7 173.6,298.4 173.7,291.7 173.7,301.2 173.8,293.9 173.8,295.1 173.9,283.4 173.9,291.9 174,283.9 174,298.2 174.1,277.7 174.1,300.5 174.2,292.7 174.2,285.5 174.3,282.5 174.3,288 174.4,294.9 174.5,286.1 174.5,282.7 174.6,289.9 174.6,291.4 174.7,296.7 174.7,291.7 174.8,297.9 174.8,293.2 174.9,293 174.9,283.5 175,289 175,294.5 175.1,298.4 175.1,289.5 175.2,296.9 175.2,281.2 175.3,295.2 175.3,288.6 175.4,295.3 175.5,294.9 175.5,292.9 175.6,292.3 175.6,283.8 175.7,290 175.7,295.7 175.8,304.9 175.8,289.7 175.9,290.1 175.9,284 176,290.5 176,290.6 176.1,285.5 176.1,297.7 176.2,283.3 176.2,294.9 176.3,298.5 176.3,294.5 176.4,285.6 176.5,280.5 176.5,292.7 176.6,296.1 176.6,282.3 176.7,294.3 176.7,301 176.8,288.4 176.8,283.8 176.9,293.7 176.9,284.5 177,287 177,288.8 177.1,284.5 177.1,286.8 177.2,298.9 177.2,292.8 177.3,286.3 177.3,288 177.4,292.2 177.5,284.9 177.5,296.7 177.6,292.6 177.6,296.2 177.7,298.6 177.7,294.6 177.8,297.7 177.8,287.3 177.9,299.3 177.9,291.1 178,293.1 178,300.1 178.1,296.9 178.1,291.8 178.2,284.7 178.2,284.4 178.3,298.6 178.3,281.8 178.4,287.6 178.5,294.7 178.5,288.3 178.6,285.9 178.6,277.8 178.7,285.3 178.7,291.4 178.8,284.6 178.8,294.9 178.9,286.1 178.9,293.5 179,295.5 179,289.7 179.1,298.1 179.1,300.4 179.2,292.5 179.2,286.8 179.3,284.7 179.4,293.1 179.4,283.1 179.5,296.4 179.5,294.5 179.6,299.8 179.6,289.5 179.7,300.5 179.7,294.1 179.8,296.1 179.8,287.7 179.9,294.9 179.9,283.5 180,286.6 180,291.6 180.1,290.1 180.1,298.6 180.2,288.5 180.2,285 180.3,291.9 180.4,292.2 180.4,291.4 180.5,290.6 180.5,284.4 180.6,286.5 180.6,289.8 180.7,277.3 180.7,281.4 180.8,283.1 180.8,282 180.9,294.1 180.9,307.4 181,294.2 181,295.9 181.1,289.8 181.1,282.8 181.2,282.2 181.2,285.8 181.3,286 181.4,291.4 181.4,287.6 181.5,284.3 181.5,283.1 181.6,283.6 181.6,290.2 181.7,285.6 181.7,290.2 181.8,284.3 181.8,281.9 181.9,292.4 181.9,291 182,282.6 182,292.9 182.1,289.9 182.1,284 182.2,284 182.2,299 182.3,282.4 182.4,292.7 182.4,299.4 182.5,284.4 182.5,290.8 182.6,284.8 182.6,284.8 182.7,288.6 182.7,294.9 182.8,283.5 182.8,295.2 182.9,299.5 182.9,286.7 183,290.3 183,288.3 183.1,293.8 183.1,292.7 183.2,290 183.2,293.5 183.3,291.7 183.4,286.5 183.4,297.5 183.5,287.4 183.5,286.7 183.6,294.1 183.6,287.5 183.7,288.5 183.7,291.6 183.8,294.9 183.8,288.3 183.9,287.2 183.9,295.5 184,284.8 184,285.1 184.1,291.3 184.1,281.4 184.2,294.3 184.3,281.3 184.3,286.3 184.4,281.2 184.4,294.1 184.5,293.4 184.5,292.1 184.6,296.5 184.6,297.4 184.7,282.4 184.7,289.6 184.8,290.5 184.8,298.2 184.9,290.4 184.9,283.4 185,294.6 185,283.8 185.1,283.6 185.1,283.2 185.2,296.9 185.3,290.8 185.3,281.3 185.4,305.3 185.4,289.9 185.5,294.1 185.5,293.4 185.6,282.9 185.6,293.2 185.7,297.2 185.7,286.1 185.8,282.9 185.8,284.8 185.9,296 185.9,297.8 186,291.3 186,290.7 186.1,290.7 186.1,281.6 186.2,299.2 186.3,294.6 186.3,295.3 186.4,293.6 186.4,285 186.5,285.8 186.5,291.5 186.6,286.5 186.6,295.5 186.7,291.3 186.7,294.4 186.8,290.1 186.8,280.8 186.9,294 186.9,292.5 187,296.1 187,290.7 187.1,279.6 187.1,293.4 187.2,297.8 187.3,293.7 187.3,293.2 187.4,288.3 187.4,290.5 187.5,290.1 187.5,287.5 187.6,295.7 187.6,294.4 187.7,294.7 187.7,296.2 187.8,300.1 187.8,295 187.9,285.7 187.9,289.6 188,288.6 188,291.7 188.1,296.5 188.1,285 188.2,281.8 188.3,280.8 188.3,289.2 188.4,281.2 188.4,294.2 188.5,283.2 188.5,296.9 188.6,277.3 188.6,296.4 188.7,286.3 188.7,292.1 188.8,299.6 188.8,286.2 188.9,291.1 188.9,289.4 189,292.7 189,286.3 189.1,288.1 189.2,291.2 189.2,286.3 189.3,292.2 189.3,285.9 189.4,279.2 189.4,288.2 189.5,286 189.5,282.7 189.6,288.3 189.6,280.9 189.7,296.2 189.7,289.4 189.8,297.5 189.8,296.3 189.9,285.3 189.9,288.7 190,290.9 190,294.3 190.1,289.5 190.2,285.5 190.2,296.1 190.3,295 190.3,298.5 190.4,300.6 190.4,293.4 190.5,290.4 190.5,287.8 190.6,292.9 190.6,294.1 190.7,286.6 190.7,298.5 190.8,286.4 190.8,284.5 190.9,288.8 190.9,287 191,282.1 191,293.4 191.1,285.5 191.2,285.3 191.2,291.6 191.3,293.6 191.3,289.1 191.4,287.9 191.4,293.6 191.5,290.2 191.5,288.5 191.6,284.8 191.6,291.9 191.7,283.9 191.7,297.7 191.8,292.6 191.8,288.8 191.9,286.4 191.9,289.6 192,293.2 192,285.8 192.1,292.4 192.2,291.5 192.2,287.7 192.3,282.1 192.3,293 192.4,288.5 192.4,284.2 192.5,284.9 192.5,291.9 192.6,283.6 192.6,295.8 192.7,281.6 192.7,296.1 192.8,283.2 192.8,295.7 192.9,282.3 192.9,288.1 193,293.6 193.1,293.8 193.1,293.6 193.2,281.6 193.2,287 193.3,283.9 193.3,293.3 193.4,291 193.4,281.8 193.5,292.4 193.5,290.3 193.6,283.8 193.6,283.7 193.7,294.1 193.7,285.5 193.8,290.7 193.8,281.7 193.9,295.1 193.9,294.4 194,289.4 194.1,295.8 194.1,290.3 194.2,293.8 194.2,292.8 194.3,293.6 194.3,278.3 194.4,286.3 194.4,287 194.5,280.3 194.5,293.9 194.6,287.1 194.6,287.1 194.7,291.7 194.7,286 194.8,288.5 194.8,292.9 194.9,294.2 194.9,296.4 195,293.2 195.1,287.8 195.1,288.3 195.2,294.5 195.2,287.8 195.3,288.3 195.3,290.3 195.4,285.1 195.4,288.5 195.5,290.5 195.5,278.9 195.6,296.2 195.6,285.9 195.7,283.8 195.7,289.2 195.8,288.3 195.8,284.5 195.9,290.7 195.9,295.3 196,282.8 196.1,282 196.1,291.4 196.2,291.5 196.2,290.8 196.3,280.2 196.3,283.2 196.4,288 196.4,278.6 196.5,281.6 196.5,284.7 196.6,290.1 196.6,285.8 196.7,283.9 196.7,279.2 196.8,295.5 196.8,279.3 196.9,290.1 196.9,285 197,294.7 197.1,289.8 197.1,286.9 197.2,293.6 197.2,292.4 197.3,296.1 197.3,287.2 197.4,288.2 197.4,297.2 197.5,288 197.5,295.2 197.6,288 197.6,283.8 197.7,292.4 197.7,289.2 197.8,290.7 197.8,289.4 197.9,294.8 198,284.8 198,297.7 198.1,290.3 198.1,283.3 198.2,283.1 198.2,285.3 198.3,286.3 198.3,281.3 198.4,279 198.4,279.5 198.5,280.9 198.5,295.8 198.6,289.3 198.6,295.6 198.7,287.2 198.7,289.5 198.8,286.2 198.8,292.3 198.9,290.7 199,289 199,279.6 199.1,288.6 199.1,288.8 199.2,279.7 199.2,284.5 199.3,291.9 199.3,295.2 199.4,293.3 199.4,283.6 199.5,291.3 199.5,279.6 199.6,292.8 199.6,273.9 199.7,296.7 199.7,289.4 199.8,286.4 199.8,287.4 199.9,275.4 200,297.1 200,298.5 200.1,296 200.1,286.5 200.2,294.2 200.2,291.2 200.3,284.6 200.3,283.5 200.4,289.7 200.4,284.8 200.5,295.3 200.5,281.3 200.6,296.6 200.6,281.2 200.7,293.2 200.7,285.2 200.8,285.3 200.8,293.5 200.9,279.4 201,291 201,285.3 201.1,291.5 201.1,294.6 201.2,278.5 201.2,283.8 201.3,284.8 201.3,293.7 201.4,296.4 201.4,282.5 201.5,290.9 201.5,297.6 201.6,292.4 201.6,280.6 201.7,289.1 201.7,287.4 201.8,283.9 201.8,278.6 201.9,289.2 202,281.6 202,282.6 202.1,291.9 202.1,274.3 202.2,293.9 202.2,282.1 202.3,290.2 202.3,289.2 202.4,290 202.4,294.2 202.5,294 202.5,285.3 202.6,291.4 202.6,279 202.7,284.6 202.7,293.8 202.8,289 202.9,286.5 202.9,276.5 203,291.8 203,287.6 203.1,290.7 203.1,294.3 203.2,284.2 203.2,285 203.3,295.5 203.3,289.3 203.4,296.6 203.4,281.6 203.5,281.7 203.5,292.4 203.6,279.4 203.6,291.1 203.7,289.8 203.7,293.1 203.8,290.6 203.9,290.1 203.9,283.5 204,288.4 204,279.5 204.1,288 204.1,295 204.2,286.6 204.2,283.5 204.3,295 204.3,278.7 204.4,286.8 204.4,280.1 204.5,289.7 204.5,289.6 204.6,293.9 204.6,285.6 204.7,284.4 204.7,284.3 204.8,293.5 204.9,279.8 204.9,278.7 205,291.3 205,280 205.1,293.1 205.1,294.8 205.2,284.4 205.2,294.7 205.3,289.9 205.3,294.8 205.4,294.9 205.4,279.1 205.5,285 205.5,278.6 205.6,290.6 205.6,283.6 205.7,290 205.7,292.7 205.8,278.8 205.9,289.1 205.9,286.5 206,282.2 206,290.9 206.1,291.7 206.1,293.8 206.2,286.3 206.2,283.1 206.3,284.1 206.3,291 206.4,290 206.4,293.2 206.5,293.8 206.5,285.1 206.6,293.4 206.6,283.7 206.7,285.5 206.7,280.3 206.8,285.6 206.9,291.8 206.9,285 207,291.8 207,295.2 207.1,286.3 207.1,284.7 207.2,279 207.2,292.5 207.3,287.4 207.3,285.2 207.4,282.3 207.4,283.1 207.5,293.1 207.5,283.2 207.6,282 207.6,292.8 207.7,280.9 207.8,280.4 207.8,290 207.9,279.1 207.9,293.1 208,289.1 208,287.6 208.1,290.7 208.1,288.9 208.2,281 208.2,282.7 208.3,291.7 208.3,283.5 208.4,281.4 208.4,289 208.5,285.7 208.5,284.3 208.6,295.3 208.6,277.8 208.7,294.5 208.8,280.7 208.8,284 208.9,278.4 208.9,278.7 209,293.4 209,275.8 209.1,278.6 209.1,288.3 209.2,277.6 209.2,280.1 209.3,281.5 209.3,284.1 209.4,275.6 209.4,291.5 209.5,287.1 209.5,286.1 209.6,285.9 209.6,291.9 209.7,286.1 209.8,290.1 209.8,285.8 209.9,295.1 209.9,280.1 210,280.7 210,287.7 210.1,290.8 210.1,284.9 210.2,294.2 210.2,277.4 210.3,285 210.3,282.3 210.4,283.6 210.4,279 210.5,281.2 210.5,282.1 210.6,286.5 210.6,287 210.7,281.6 210.8,293 210.8,290 210.9,283.3 210.9,281.1 211,293.8 211,282.7 211.1,288.6 211.1,278.3 211.2,284.4 211.2,292.3 211.3,280.2 211.3,277.5 211.4,276.1 211.4,277.8 211.5,287.4 211.5,287 211.6,283.1 211.6,285.5 211.7,282.3 211.8,284.6 211.8,282.3 211.9,286.1 211.9,282.3 212,290.3 212,281.6 212.1,278.3 212.1,290.5 212.2,282.8 212.2,286 212.3,277.5 212.3,277.4 212.4,287.7 212.4,293.4 212.5,287.7 212.5,284.5 212.6,282.5 212.7,287.3 212.7,281.2 212.8,272 212.8,282 212.9,286.8 212.9,285.6 213,288.6 213,282.8 213.1,290.3 213.1,278.1 213.2,286.8 213.2,281.1 213.3,280.7 213.3,288.9 213.4,282.7 213.4,282.6 213.5,281.1 213.5,276.9 213.6,284.4 213.7,285.9 213.7,290.7 213.8,283.5 213.8,285.1 213.9,290.9 213.9,288.6 214,280.3 214,284.7 214.1,288.7 214.1,287.7 214.2,289.7 214.2,273.7 214.3,286.4 214.3,284.8 214.4,289.1 214.4,281.5 214.5,285.4 214.5,278.4 214.6,289.3 214.7,297.1 214.7,278.1 214.8,293.2 214.8,280.3 214.9,287.8 214.9,285.7 215,286.1 215,293.4 215.1,281.8 215.1,277.7 215.2,280.9 215.2,288.6 215.3,285.1 215.3,276.4 215.4,283.2 215.4,286.4 215.5,280.3 215.5,278.6 215.6,279.1 215.7,289.2 215.7,281.5 215.8,281.2 215.8,280.5 215.9,279.3 215.9,284 216,280.9 216,281.2 216.1,295 216.1,277.9 216.2,289.6 216.2,285.6 216.3,279.5 216.3,278.1 216.4,289 216.4,287.2 216.5,284 216.6,287.1 216.6,278.8 216.7,284.1 216.7,279.8 216.8,288.2 216.8,283.5 216.9,290.3 216.9,279 217,290.7 217,287.1 217.1,293.1 217.1,285.9 217.2,283.4 217.2,292.9 217.3,291.8 217.3,283.7 217.4,286.4 217.4,277.8 217.5,294.3 217.6,286.9 217.6,283.5 217.7,296.8 217.7,277 217.8,291.4 217.8,277 217.9,283.9 217.9,281.2 218,285.1 218,286.2 218.1,293.2 218.1,287.7 218.2,281.3 218.2,291.9 218.3,285.4 218.3,289.1 218.4,285.1 218.4,289.2 218.5,278.6 218.6,288.4 218.6,282.6 218.7,284.6 218.7,281.6 218.8,287.7 218.8,291.3 218.9,292.7 218.9,283.3 219,282.3 219,293.3 219.1,278.3 219.1,278.9 219.2,283.6 219.2,293.6 219.3,282.7 219.3,280.9 219.4,280.1 219.4,279 219.5,284.4 219.6,287.5 219.6,284.5 219.7,292.8 219.7,277.7 219.8,278.5 219.8,276.3 219.9,287.1 219.9,293.2 220,286.3 220,280.3 220.1,281.9 220.1,287.8 220.2,286.3 220.2,289.6 220.3,289.5 220.3,281.5 220.4,281.7 220.4,277.7 220.5,281.5 220.6,278.8 220.6,277 220.7,286.7 220.7,275.1 220.8,277.1 220.8,287.6 220.9,285.9 220.9,283.7 221,291.1 221,290.4 221.1,289.9 221.1,280.1 221.2,283.8 221.2,281.3 221.3,289.2 221.3,292.4 221.4,286.2 221.5,276.6 221.5,282.9 221.6,287.7 221.6,282.5 221.7,287.4 221.7,285.4 221.8,291.9 221.8,289.1 221.9,284.6 221.9,285.7 222,283.7 222,288.9 222.1,278.3 222.1,278.6 222.2,288.8 222.2,287.1 222.3,277 222.3,285.4 222.4,281.5 222.5,291.5 222.5,285.2 222.6,282.8 222.6,279.8 222.7,281.8 222.7,277.2 222.8,288.3 222.8,282.7 222.9,284.7 222.9,283.9 223,285.5 223,283.6 223.1,280.6 223.1,288.1 223.2,287.7 223.2,277.2 223.3,283.9 223.3,278.6 223.4,285.4 223.5,284.7 223.5,283.7 223.6,287.5 223.6,295.1 223.7,281.7 223.7,286.7 223.8,284.9 223.8,294.4 223.9,281 223.9,282.9 224,288.3 224,286.1 224.1,272.5 224.1,278.7 224.2,282.1 224.2,281.8 224.3,276.5 224.3,287.1 224.4,282.8 224.5,278.3 224.5,287.7 224.6,292 224.6,286.4 224.7,287.7 224.7,278.5 224.8,287 224.8,282.8 224.9,286 224.9,279.3 225,285.9 225,281 225.1,291.4 225.1,283.5 225.2,281.2 225.2,281.4 225.3,278 225.3,286.3 225.4,281.5 225.5,281.9 225.5,284.1 225.6,289 225.6,286.2 225.7,275.6 225.7,274.1 225.8,292.8 225.8,291.6 225.9,288.3 225.9,282.9 226,289.8 226,290.2 226.1,284.5 226.1,292.1 226.2,292.2 226.2,290.9 226.3,292.3 226.4,284 226.4,279.8 226.5,281.9 226.5,283.5 226.6,274.3 226.6,279.5 226.7,287.4 226.7,280.5 226.8,290.7 226.8,284.4 226.9,288.9 226.9,284.9 227,288.7 227,286.4 227.1,280.1 227.1,284.5 227.2,289.6 227.2,281.5 227.3,276.8 227.4,290.4 227.4,285.4 227.5,288.9 227.5,276.9 227.6,287.4 227.6,278 227.7,282.3 227.7,281.3 227.8,291.7 227.8,287.2 227.9,287.7 227.9,283.5 228,279.3 228,285.8 228.1,279.6 228.1,281.3 228.2,277.6 228.2,284.9 228.3,282.9 228.4,286.3 228.4,276.1 228.5,277.5 228.5,283.8 228.6,286.8 228.6,273.2 228.7,279.3 228.7,276.1 228.8,283.7 228.8,276.4 228.9,280.6 228.9,284.4 229,283 229,278.6 229.1,283.3 229.1,288.1 229.2,281.2 229.2,280.5 229.3,281.2 229.4,287.7 229.4,286.9 229.5,283.2 229.5,276.7 229.6,272.9 229.6,285.9 229.7,283.7 229.7,286 229.8,284 229.8,282.6 229.9,279.6 229.9,275.2 230,286 230,280.2 230.1,277 230.1,287.3 230.2,293.4 230.2,275.2 230.3,291.1 230.4,288.8 230.4,292 230.5,283.8 230.5,278.2 230.6,283.4 230.6,283.9 230.7,281.4 230.7,277.1 230.8,280.5 230.8,285.9 230.9,282.3 230.9,276.2 231,283.9 231,283.1 231.1,283.1 231.1,290.2 231.2,281.3 231.3,286.4 231.3,285.7 231.4,282.8 231.4,279.6 231.5,283.1 231.5,277.8 231.6,278.6 231.6,291.6 231.7,289.1 231.7,284.3 231.8,278.4 231.8,279.9 231.9,277.4 231.9,282.8 232,279.7 232,281.9 232.1,278.6 232.1,279.6 232.2,283.4 232.3,283.4 232.3,279 232.4,283.3 232.4,277.1 232.5,284.7 232.5,285.4 232.6,287.3 232.6,289.7 232.7,284.4 232.7,276.1 232.8,274.9 232.8,285.5 232.9,285.6 232.9,276.4 233,275.5 233,288.2 233.1,282.6 233.1,278.6 233.2,280 233.3,288.9 233.3,285.1 233.4,282.7 233.4,280.4 233.5,283.8 233.5,280.8 233.6,283.6 233.6,276.6 233.7,282.6 233.7,275.4 233.8,285.4 233.8,278.4 233.9,275.7 233.9,278.4 234,287.8 234,290 234.1,290.3 234.1,286.6 234.2,285.3 234.3,286 234.3,280 234.4,283.8 234.4,278.6 234.5,285.9 234.5,288 234.6,282.5 234.6,277 234.7,286.3 234.7,277.7 234.8,282.9 234.8,290.2 234.9,281.6 234.9,286.1 235,282.3 235,287.9 235.1,289.2 235.1,280.4 235.2,281.9 235.3,274.1 235.3,288.8 235.4,276.7 235.4,279 235.5,277.9 235.5,280.6 235.6,276.8 235.6,280.2 235.7,288.5 235.7,285.4 235.8,289.8 235.8,293.3 235.9,278.2 235.9,284.1 236,275.6 236,283.7 236.1,286.3 236.2,279.5 236.2,286.2 236.3,289.4 236.3,290 236.4,283.5 236.4,283.2 236.5,290.8 236.5,283.1 236.6,278.5 236.6,275.3 236.7,283.9 236.7,289.8 236.8,288.2 236.8,282.8 236.9,283.1 236.9,288.6 237,278.2 237,276 237.1,276.2 237.2,290.5 237.2,289.6 237.3,282.7 237.3,285.9 237.4,290.7 237.4,276.6 237.5,282.2 237.5,290.6 237.6,279.6 237.6,279.9 237.7,290.5 237.7,284.2 237.8,279 237.8,284.8 237.9,285.3 237.9,278.9 238,281.5 238,286.1 238.1,277.4 238.2,280.4 238.2,290.6 238.3,274.1 238.3,289.1 238.4,282.1 238.4,285.8 238.5,277.5 238.5,280.3 238.6,280.5 238.6,286.4 238.7,283.9 238.7,275.6 238.8,280.6 238.8,284.7 238.9,282.6 238.9,275.8 239,275 239,289.9 239.1,275.6 239.2,278.9 239.2,282.9 239.3,279.1 239.3,289.6 239.4,276.9 239.4,277.4 239.5,286.1 239.5,276.5 239.6,275.1 239.6,280.2 239.7,292.8 239.7,285.2 239.8,285.9 239.8,287.9 239.9,276.6 239.9,277.2 240,289.8 240.1,290.1 240.1,288.9 240.2,287.4 240.2,277.2 240.3,282.1 240.3,285.5 240.4,281.3 240.4,273.7 240.5,282 240.5,273.8 240.6,286.9 240.6,284.7 240.7,289.3 240.7,287.5 240.8,277.1 240.8,279.7 240.9,281.2 240.9,280.1 241,274.3 241.1,278.3 241.1,282.6 241.2,289.6 241.2,281.5 241.3,280.3 241.3,280.7 241.4,287.6 241.4,281.1 241.5,289.4 241.5,292.2 241.6,288.8 241.6,284.7 241.7,280.6 241.7,289.2 241.8,283.5 241.8,281.2 241.9,287.2 241.9,280.2 242,275.9 242.1,279.1 242.1,271.7 242.2,285.5 242.2,281.4 242.3,285.9 242.3,283 242.4,281.9 242.4,281 242.5,288.6 242.5,281 242.6,272.8 242.6,281.5 242.7,281.5 242.7,277.8 242.8,281.3 242.8,291.5 242.9,283.1 242.9,284.1 243,289.4 243.1,273.6 243.1,278.2 243.2,275.9 243.2,289.4 243.3,279.1 243.3,285.6 243.4,274.9 243.4,279.9 243.5,286.9 243.5,294.7 243.6,282.9 243.6,276.6 243.7,282.6 243.7,276 243.8,288.4 243.8,287.7 243.9,289.4 243.9,290.7 244,277 244.1,280.2 244.1,280.5 244.2,281.7 244.2,288.4 244.3,287.4 244.3,284.9 244.4,284.3 244.4,281.9 244.5,286.2 244.5,278.1 244.6,276 244.6,289.4 244.7,287.6 244.7,277.6 244.8,274.4 244.8,281.3 244.9,278.3 245,277.8 245,276.4 245.1,284.4 245.1,274.1 245.2,278.6 245.2,289.5 245.3,277.8 245.3,283.8 245.4,277.6 245.4,288.3 245.5,276.3 245.5,277.1 245.6,291.4 245.6,282.9 245.7,276.9 245.7,282.1 245.8,281.5 245.8,280.7 245.9,279.2 246,289.4 246,277.2 246.1,275.6 246.1,286.8 246.2,287.8 246.2,285.2 246.3,278.4 246.3,287.9 246.4,274.3 246.4,282.7 246.5,278.9 246.5,288.5 246.6,282.2 246.6,279.3 246.7,281.3 246.7,281 246.8,288.3 246.8,274 246.9,282.9 247,275.6 247,281.4 247.1,278.6 247.1,278.1 247.2,280.9 247.2,275.3 247.3,281.3 247.3,288.6 247.4,286.2 247.4,289.7 247.5,286.7 247.5,274.7 247.6,290.4 247.6,286.2 247.7,278.6 247.7,284 247.8,282.2 247.8,277.3 247.9,282.8 248,288.5 248,282.9 248.1,277.1 248.1,282.3 248.2,274.6 248.2,282.7 248.3,277.5 248.3,283.2 248.4,278.8 248.4,280.5 248.5,287.9 248.5,285.9 248.6,288 248.6,289.2 248.7,287.7 248.7,293.2 248.8,273.5 248.8,279.2 248.9,282.6 249,283.2 249,277.4 249.1,276.3 249.1,279.1 249.2,282.9 249.2,275.2 249.3,274.2 249.3,275.7 249.4,275.1 249.4,285.4 249.5,288.2 249.5,278.7 249.6,285.5 249.6,275.5 249.7,274.6 249.7,279 249.8,280.4 249.9,274.2 249.9,284.5 250,291.3 250,276.2 250.1,281 250.1,278.3 250.2,275.7 250.2,280.9 250.3,289.1 250.3,280.5 250.4,288.3 250.4,281.2 250.5,283.7 250.5,288.1 250.6,278.5 250.6,287.3 250.7,287 250.7,279.6 250.8,284.8 250.9,275.5 250.9,288.3 251,276.5 251,281.1 251.1,278.2 251.1,278.8 251.2,285.2 251.2,287.2 251.3,281.7 251.3,280.8 251.4,286.3 251.4,275.9 251.5,282 251.5,264.8 251.6,286.9 251.6,285.5 251.7,287.7 251.7,276.2 251.8,280.2 251.9,275.8 251.9,286.7 252,287.3 252,272.5 252.1,277.4 252.1,279.6 252.2,275.4 252.2,284.7 252.3,277.2 252.3,274.1 252.4,286.1 252.4,275 252.5,272.7 252.5,289.6 252.6,289.3 252.6,283.4 252.7,278.6 252.7,273.8 252.8,278.4 252.9,281.8 252.9,280.6 253,282.2 253,285.2 253.1,273 253.1,275.7 253.2,278.3 253.2,283.6 253.3,276.8 253.3,285.5 253.4,287.2 253.4,281.2 253.5,275.4 253.5,274.4 253.6,275.8 253.6,273.7 253.7,272.8 253.7,276.1 253.8,284.8 253.9,275.3 253.9,286.4 254,280.1 254,273.1 254.1,278.8 254.1,282.2 254.2,272.6 254.2,277.5 254.3,286.8 254.3,285.7 254.4,267.4 254.4,287.5 254.5,287.4 254.5,281.6 254.6,283.3 254.6,282 254.7,279.9 254.8,277.7 254.8,281.1 254.9,288 254.9,284.8 255,280.4 255,287 255.1,273 255.1,274.6 255.2,284.2 255.2,282.3 255.3,276.8 255.3,276.3 255.4,280.8 255.4,284.9 255.5,283 255.5,274.1 255.6,281.1 255.6,272.2 255.7,284.1 255.8,283.9 255.8,275.3 255.9,286.1 255.9,285.6 256,275.1 256,286.5 256.1,276 256.1,286.2 256.2,284.7 256.2,285.7 256.3,283.7 256.3,283.8 256.4,279.5 256.4,274 256.5,284.3 256.5,282.9 256.6,283 256.6,278.9 256.7,284.6 256.8,277.4 256.8,287.1 256.9,285.2 256.9,283 257,277.2 257,278.1 257.1,287.2 257.1,281.7 257.2,278.4 257.2,278.4 257.3,285.2 257.3,279.4 257.4,273.3 257.4,278.4 257.5,276.2 257.5,283.6 257.6,278.1 257.6,278.7 257.7,280.3 257.8,282.8 257.8,288.1 257.9,284.8 257.9,280.2 258,273.4 258,278.2 258.1,273 258.1,276.5 258.2,286.6 258.2,274.2 258.3,280.5 258.3,275.8 258.4,278.4 258.4,286.8 258.5,278.6 258.5,284 258.6,286.9 258.6,282.9 258.7,274.7 258.8,286.7 258.8,275 258.9,278.2 258.9,286.2 259,282.7 259,280.8 259.1,281.4 259.1,273.5 259.2,277.2 259.2,281.4 259.3,275 259.3,278.2 259.4,278.9 259.4,274.5 259.5,287 259.5,274.6 259.6,286.8 259.7,283.6 259.7,277 259.8,278.9 259.8,283.4 259.9,284.7 259.9,286.5 260,278.1 260,277.1 260.1,281.3 260.1,275 260.2,282.7 260.2,280.5 260.3,284.5 260.3,276.3 260.4,277.1 260.4,271.4 260.5,277.8 260.5,285.1 260.6,280.6 260.7,279.1 260.7,274.5 260.8,278.3 260.8,273.9 260.9,271.8 260.9,282.7 261,280.7 261,277.8 261.1,272 261.1,277 261.2,274.1 261.2,273.6 261.3,286.9 261.3,280.2 261.4,278.8 261.4,274.5 261.5,278.6 261.5,286.6 261.6,280.3 261.7,274.7 261.7,278.8 261.8,274.4 261.8,285.5 261.9,281.2 261.9,285.4 262,280.7 262,281.6 262.1,272.8 262.1,276.6 262.2,271.9 262.2,285.1 262.3,281.6 262.3,283.6 262.4,276.7 262.4,274.8 262.5,282.7 262.5,279.6 262.6,276.1 262.7,275 262.7,275.9 262.8,278.4 262.8,279.6 262.9,278.4 262.9,283.3 263,273.1 263,288.1 263.1,275.2 263.1,275.2 263.2,281.1 263.2,274.1 263.3,282.2 263.3,280.6 263.4,275.3 263.4,278.7 263.5,275.5 263.6,276.3 263.6,272 263.7,276 263.7,280.6 263.8,274.8 263.8,273.5 263.9,276.3 263.9,284.5 264,273.8 264,273.3 264.1,284.5 264.1,269.2 264.2,284 264.2,282.9 264.3,277.9 264.3,275.7 264.4,278.5 264.4,280.2 264.5,284.8 264.6,278.3 264.6,276.2 264.7,280.4 264.7,279.1 264.8,283.3 264.8,282.2 264.9,279.2 264.9,283.9 265,279.6 265,275.2 265.1,278.8 265.1,287.4 265.2,284.2 265.2,284.6 265.3,283.5 265.3,287.2 265.4,280.7 265.4,280.3 265.5,278.8 265.6,283.9 265.6,283.9 265.7,283.4 265.7,272.3 265.8,285.9 265.8,284.7 265.9,272.5 265.9,273.9 266,277.2 266,285.1 266.1,278.2 266.1,281.1 266.2,274.7 266.2,285.2 266.3,277 266.3,275.3 266.4,275.2 266.4,275.5 266.5,279.9 266.6,270.8 266.6,271 266.7,271 266.7,274.6 266.8,280.4 266.8,280.1 266.9,282.6 266.9,281 267,272.6 267,277.7 267.1,279.7 267.1,285 267.2,278.3 267.2,273.9 267.3,272.4 267.3,274.5 267.4,283.5 267.4,284 267.5,274.9 267.6,273.6 267.6,277.8 267.7,283.2 267.7,284.9 267.8,279.1 267.8,282.1 267.9,271.6 267.9,285.3 268,283 268,277.3 268.1,280.2 268.1,285 268.2,283.3 268.2,280.5 268.3,278.8 268.3,280.9 268.4,284.4 268.5,278.4 268.5,276 268.6,271.1 268.6,279.1 268.7,278.6 268.7,278.3 268.8,278.6 268.8,277.4 268.9,283.5 268.9,282.8 269,273.9 269,274.1 269.1,279 269.1,274.1 269.2,279.8 269.2,270.5 269.3,269.5 269.3,273.5 269.4,282.6 269.5,283.9 269.5,273.7 269.6,272.8 269.6,273 269.7,282.3 269.7,278.4 269.8,277.2 269.8,274.1 269.9,281.3 269.9,277.6 270,283.7 270,279.3 270.1,281.3 270.1,279.9 270.2,273.9 270.2,276.3 270.3,283 270.3,282.2 270.4,273.3 270.5,283.2 270.5,271.9 270.6,280.1 270.6,280.6 270.7,277 270.7,273.2 270.8,272.7 270.8,276.2 270.9,274.2 270.9,275.3 271,270.9 271,274.7 271.1,272.8 271.1,271.9 271.2,274.8 271.2,279.5 271.3,283.7 271.3,276 271.4,284.9 271.5,273.4 271.5,272.9 271.6,279.3 271.6,283 271.7,282.2 271.7,278.7 271.8,284.7 271.8,281.5 271.9,282.5 271.9,284.8 272,284.4 272,283.8 272.1,280.1 272.1,283.5 272.2,272.7 272.2,281.9 272.3,280.1 272.3,277.7 272.4,283.2 272.5,277.4 272.5,270.2 272.6,282.9 272.6,282.5 272.7,274.6 272.7,274.8 272.8,280.5 272.8,284.1 272.9,272.7 272.9,285.8 273,271.7 273,278.8 273.1,279.1 273.1,273.2 273.2,279.7 273.2,271.1 273.3,280.6 273.4,276 273.4,274.3 273.5,270.8 273.5,271.3 273.6,272.1 273.6,280.2 273.7,280.5 273.7,275.8 273.8,273.8 273.8,271.4 273.9,271 273.9,279 274,283.8 274,279.7 274.1,288.4 274.1,277.7 274.2,270.1 274.2,279.2 274.3,269.8 274.4,286.3 274.4,278.1 274.5,276.9 274.5,276.4 274.6,282 274.6,270.5 274.7,281.2 274.7,275.9 274.8,275.1 274.8,280.1 274.9,270.2 274.9,279.7 275,271.1 275,272.2 275.1,272.6 275.1,275.5 275.2,276.1 275.2,276.4 275.3,280 275.4,280.5 275.4,276.8 275.5,281.8 275.5,270.8 275.6,276.2 275.6,270.8 275.7,270.5 275.7,279.7 275.8,272.9 275.8,273.8 275.9,275.9 275.9,271 276,273.4 276,271.4 276.1,276 276.1,274.6 276.2,276.5 276.2,276.3 276.3,275.6 276.4,276.9 276.4,270.3 276.5,283 276.5,272.3 276.6,269.5 276.6,270.6 276.7,279.1 276.7,274.9 276.8,282.8 276.8,275.5 276.9,273.8 276.9,269.4 277,277.7 277,283.1 277.1,280 277.1,280.5 277.2,275.8 277.2,275.5 277.3,274.4 277.4,277 277.4,274.4 277.5,283.1 277.5,274.5 277.6,270.4 277.6,277.8 277.7,275.1 277.7,280 277.8,277.6 277.8,273.1 277.9,277.8 277.9,272.7 278,275.1 278,275.6 278.1,269.9 278.1,275.1 278.2,278.9 278.3,273.9 278.3,275.9 278.4,279.9 278.4,276.1 278.5,269 278.5,278 278.6,275.2 278.6,281.9 278.7,280.5 278.7,272.6 278.8,282.6 278.8,270.3 278.9,277.3 278.9,278.7 279,276.1 279,278.7 279.1,271.1 279.1,269.2 279.2,269.7 279.3,275.2 279.3,265.3 279.4,279.6 279.4,273.8 279.5,282.3 279.5,271.4 279.6,283.2 279.6,280.2 279.7,278.6 279.7,283.6 279.8,278.9 279.8,269.9 279.9,276.8 279.9,279.2 280,281 280,270.7 280.1,282.1 280.1,280.5 280.2,276 280.3,276.8 280.3,279.3 280.4,278.7 280.4,269.7 280.5,271.2 280.5,274.5 280.6,275.1 280.6,273 280.7,269.5 280.7,277.6 280.8,278.5 280.8,270.1 280.9,280.2 280.9,272 281,278.1 281,283.3 281.1,274.4 281.1,271 281.2,277.1 281.3,281 281.3,282.5 281.4,275.6 281.4,277.9 281.5,271.6 281.5,268.4 281.6,271.3 281.6,271.5 281.7,282.8 281.7,277.5 281.8,278.8 281.8,275.2 281.9,275.1 281.9,272.9 282,275.6 282,280.4 282.1,280 282.1,267.6 282.2,271.3 282.3,277.7 282.3,267.7 282.4,268.4 282.4,270.8 282.5,277.7 282.5,277.5 282.6,278.7 282.6,271.4 282.7,268.1 282.7,279.7 282.8,279.7 282.8,273.5 282.9,271.2 282.9,278.3 283,276.8 283,273 283.1,278.2 283.2,276.5 283.2,275.6 283.3,273 283.3,273.9 283.4,270.3 283.4,279.8 283.5,275.5 283.5,276.9 283.6,274.3 283.6,276.8 283.7,274.2 283.7,273.1 283.8,268.7 283.8,279.1 283.9,275.3 283.9,279.7 284,281.7 284,279 284.1,282 284.2,279.1 284.2,280.6 284.3,281.6 284.3,273.5 284.4,275.3 284.4,278.2 284.5,281.9 284.5,268.5 284.6,276.4 284.6,278.6 284.7,284.8 284.7,277.6 284.8,269.2 284.8,277.2 284.9,267.5 284.9,271.5 285,281.1 285,276.3 285.1,278.4 285.2,270.3 285.2,269.8 285.3,280.9 285.3,270.6 285.4,274.5 285.4,276.4 285.5,269.3 285.5,271.6 285.6,270.1 285.6,280.1 285.7,281.2 285.7,274.3 285.8,274.3 285.8,272.8 285.9,278.4 285.9,276.2 286,267.9 286,273.5 286.1,273.9 286.2,273.1 286.2,271.6 286.3,278.2 286.3,270.2 286.4,278.4 286.4,269.4 286.5,281.5 286.5,273.7 286.6,268.8 286.6,270.2 286.7,281.4 286.7,278.3 286.8,277.9 286.8,280.3 286.9,278.1 286.9,276.3 287,279.6 287.1,279.1 287.1,276.8 287.2,275.1 287.2,281.2 287.3,273.3 287.3,275.5 287.4,268.9 287.4,273.9 287.5,267.1 287.5,269.5 287.6,269.1 287.6,279.5 287.7,268.2 287.7,271.5 287.8,278.4 287.8,280.6 287.9,276.3 287.9,270.7 288,274.5 288.1,278.5 288.1,278.7 288.2,282.1 288.2,271.2 288.3,269.2 288.3,271.2 288.4,270.4 288.4,276.3 288.5,272 288.5,278.9 288.6,271.9 288.6,271.3 288.7,266.4 288.7,277.1 288.8,274.5 288.8,276.6 288.9,268.5 288.9,274.6 289,277.5 289.1,272.3 289.1,280.6 289.2,272.2 289.2,269.6 289.3,274.5 289.3,268 289.4,272.2 289.4,270.7 289.5,277.8 289.5,278.9 289.6,271.5 289.6,272.8 289.7,269.6 289.7,268.5 289.8,272.5 289.8,273.2 289.9,274.6 289.9,275.5 290,275.3 290.1,270.3 290.1,275.5 290.2,276.6 290.2,277 290.3,278.1 290.3,273.5 290.4,269.9 290.4,266.9 290.5,268 290.5,268.6 290.6,275.8 290.6,279.5 290.7,277 290.7,270.3 290.8,272.3 290.8,278.8 290.9,275.2 290.9,271.5 291,272.7 291.1,278.4 291.1,268.4 291.2,273 291.2,278.6 291.3,281.2 291.3,280.5 291.4,270.5 291.4,275.2 291.5,266.1 291.5,275.6 291.6,271 291.6,269.1 291.7,277.5 291.7,269.2 291.8,271.7 291.8,275.8 291.9,276.8 292,276.2 292,271 292.1,273 292.1,271 292.2,271.9 292.2,278.5 292.3,271.2 292.3,277.2 292.4,268.1 292.4,277 292.5,269.2 292.5,274.4 292.6,270.6 292.6,274.3 292.7,264.7 292.7,269.3 292.8,267 292.8,272.9 292.9,266.2 293,277.9 293,268.3 293.1,264.3 293.1,269.5 293.2,275.1 293.2,268.8 293.3,266.9 293.3,278.9 293.4,266.8 293.4,270.6 293.5,278.1 293.5,273.7 293.6,275.6 293.6,270.5 293.7,272.8 293.7,270.8 293.8,274.3 293.8,267 293.9,267.8 294,273.3 294,272.7 294.1,284.4 294.1,276.4 294.2,277.7 294.2,273.9 294.3,266 294.3,271.1 294.4,274.9 294.4,275.6 294.5,280.2 294.5,270.8 294.6,267.4 294.6,266.1 294.7,272.3 294.7,277 294.8,274.7 294.8,266.5 294.9,276.8 295,274.8 295,280.6 295.1,272 295.1,273.4 295.2,269.6 295.2,275.2 295.3,268.8 295.3,278.5 295.4,277.7 295.4,271 295.5,269.6 295.5,270 295.6,275.5 295.6,265.9 295.7,284.8 295.7,276.8 295.8,279.3 295.8,270.2 295.9,273 296,270.6 296,272.8 296.1,269.7 296.1,273.1 296.2,268.6 296.2,273.2 296.3,272.7 296.3,279.6 296.4,277.7 296.4,278.3 296.5,265.3 296.5,274.3 296.6,275.3 296.6,269.3 296.7,279.6 296.7,275.7 296.8,270.3 296.9,270.8 296.9,273.9 297,279.2 297,267.9 297.1,269.7 297.1,274.2 297.2,267.6 297.2,272.8 297.3,279.3 297.3,264.5 297.4,266.1 297.4,265.4 297.5,268.9 297.5,274.2 297.6,272 297.6,274.2 297.7,271.6 297.7,279.2 297.8,271.8 297.9,275.3 297.9,276 298,277 298,273.2 298.1,274.9 298.1,279.4 298.2,277.7 298.2,265.2 298.3,268.3 298.3,271.7 298.4,271.7 298.4,275 298.5,270.8 298.5,269.3 298.6,277.8 298.6,273 298.7,276.1 298.7,277.2 298.8,273.5 298.9,279.5 298.9,276 299,271.4 299,276.7 299.1,266.3 299.1,271.9 299.2,272.2 299.2,276.9 299.3,277.4 299.3,270 299.4,254.8 299.4,269.7 299.5,276.6 299.5,268.3 299.6,273.5 299.6,277.7 299.7,268.7 299.7,268.7 299.8,273 299.9,275.3 299.9,273.5 300,266 300,273.2 300.1,273.6 300.1,273.5 300.2,267.7 300.2,278 300.3,269.5 300.3,279 300.4,262.6 300.4,267 300.5,274.7 300.5,275.5 300.6,268.1 300.6,272.7 300.7,276.5 300.7,265 300.8,268.1 300.9,273.2 300.9,270.1 301,283.3 301,277.2 301.1,271.2 301.1,264.1 301.2,270.4 301.2,278.5 301.3,274.8 301.3,275.9 301.4,265.1 301.4,267 301.5,268.1 301.5,269.2 301.6,269.7 301.6,274.9 301.7,270 301.8,272 301.8,267.5 301.9,269.8 301.9,277 302,271.5 302,271.6 302.1,272.6 302.1,272.1 302.2,267.5 302.2,270.6 302.3,268.2 302.3,277.7 302.4,273.3 302.4,263.8 302.5,278.2 302.5,277.3 302.6,266.8 302.6,272.6 302.7,271.2 302.8,263.5 302.8,270 302.9,273.8 302.9,275.1 303,269.5 303,278.8 303.1,273.2 303.1,272.9 303.2,267.5 303.2,271.1 303.3,272.6 303.3,266.2 303.4,266.3 303.4,278.1 303.5,274.5 303.5,264.6 303.6,276.6 303.6,266 303.7,264.1 303.8,273.5 303.8,267.6 303.9,273 303.9,272.6 304,272.9 304,267.7 304.1,277.5 304.1,277.9 304.2,269.4 304.2,268.5 304.3,271.9 304.3,270.7 304.4,280 304.4,273.7 304.5,268.1 304.5,275.4 304.6,273 304.6,268.1 304.7,265.3 304.8,271 304.8,267.4 304.9,272.1 304.9,269.4 305,267.2 305,271.6 305.1,265.8 305.1,268.3 305.2,265.1 305.2,269.7 305.3,273.1 305.3,273.4 305.4,268.6 305.4,273.9 305.5,268.3 305.5,271.8 305.6,263 305.6,267.1 305.7,260.4 305.8,267.6 305.8,267.1 305.9,267.8 305.9,275.3 306,266.7 306,271.5 306.1,281.1 306.1,265.7 306.2,271.7 306.2,267.3 306.3,270 306.3,270.6 306.4,272.7 306.4,280.2 306.5,266.9 306.5,264.4 306.6,268.7 306.7,278.8 306.7,276.3 306.8,278.1 306.8,262.7 306.9,271.4 306.9,272.5 307,274.5 307,270.2 307.1,271.2 307.1,272.9 307.2,271 307.2,265.7 307.3,262.5 307.3,273.9 307.4,269.3 307.4,265.1 307.5,269.6 307.5,266.1 307.6,268.7 307.7,270.7 307.7,267.2 307.8,265.6 307.8,270.7 307.9,266.4 307.9,271.7 308,267 308,264.6 308.1,272.4 308.1,264 308.2,270.3 308.2,266.2 308.3,264.2 308.3,267.1 308.4,269.9 308.4,272.2 308.5,266 308.5,265.5 308.6,265.4 308.7,258.1 308.7,262.5 308.8,269 308.8,266.2 308.9,267.6 308.9,261 309,270.3 309,269.6 309.1,268.6 309.1,273.2 309.2,268.3 309.2,266.7 309.3,273.6 309.3,267.8 309.4,265.2 309.4,259.6 309.5,266.8 309.5,272 309.6,263.8 309.7,268.9 309.7,261.8 309.8,268.2 309.8,268.8 309.9,272.8 309.9,274.4 310,270.7 310,272.8 310.1,274.3 310.1,261.5 310.2,275 310.2,262.6 310.3,274.5 310.3,273.8 310.4,263.7 310.4,265.5 310.5,274.5 310.6,262.4 310.6,273.5 310.7,265 310.7,266.1 310.8,268.5 310.8,272.3 310.9,269.1 310.9,271.7 311,272.5 311,267.9 311.1,262.5 311.1,273.6 311.2,269.1 311.2,263.7 311.3,266.2 311.3,270.8 311.4,267.2 311.4,265.7 311.5,264.5 311.6,267 311.6,261.9 311.7,263.9 311.7,274.1 311.8,273.5 311.8,264.9 311.9,268 311.9,266.4 312,271.6 312,273.3 312.1,271 312.1,265.9 312.2,265.2 312.2,267.2 312.3,265.9 312.3,274.4 312.4,261.8 312.4,266.4 312.5,262.1 312.6,263.2 312.6,266.5 312.7,270.2 312.7,268.5 312.8,262.5 312.8,263.5 312.9,270.3 312.9,259.2 313,270.2 313,270 313.1,269.5 313.1,263.4 313.2,269 313.2,267.6 313.3,268.8 313.3,270.8 313.4,276.7 313.4,262.3 313.5,274.9 313.6,267.5 313.6,270.1 313.7,267.8 313.7,261.7 313.8,268.2 313.8,268 313.9,260.8 313.9,268.9 314,266.4 314,270.3 314.1,261.1 314.1,273.3 314.2,271.3 314.2,269.9 314.3,263.4 314.3,261.4 314.4,264.2 314.4,263.2 314.5,265.4 314.6,260.8 314.6,267.4 314.7,271 314.7,268.5 314.8,265.6 314.8,269 314.9,274 314.9,266.8 315,264.9 315,260 315.1,267.4 315.1,272.3 315.2,265.9 315.2,263.4 315.3,268.7 315.3,267.7 315.4,271.4 315.5,257.9 315.5,261 315.6,267.2 315.6,259.8 315.7,271.9 315.7,271.7 315.8,264.7 315.8,265.1 315.9,268.8 315.9,263.5 316,263.3 316,259.7 316.1,261.8 316.1,264 316.2,264.3 316.2,268.9 316.3,268.8 316.3,266.2 316.4,270.9 316.5,264.3 316.5,264.8 316.6,260.8 316.6,271.3 316.7,261.2 316.7,265.7 316.8,261.8 316.8,270.6 316.9,263.1 316.9,266.1 317,268.8 317,260.7 317.1,260.6 317.1,265.2 317.2,270.1 317.2,270.6 317.3,270.4 317.3,265.1 317.4,260.4 317.5,270.6 317.5,259.2 317.6,259.1 317.6,261.8 317.7,267.5 317.7,269.3 317.8,266.1 317.8,266.3 317.9,272.7 317.9,267.9 318,265.6 318,263.9 318.1,268.5 318.1,264.4 318.2,265.1 318.2,269.1 318.3,260.5 318.3,264 318.4,266.5 318.5,266.8 318.5,264.3 318.6,263.6 318.6,266.3 318.7,263.5 318.7,260.4 318.8,268.1 318.8,266.7 318.9,259.3 318.9,267.6 319,264.3 319,258.3 319.1,263.2 319.1,266.9 319.2,261.1 319.2,265.9 319.3,267.8 319.3,266 319.4,264.1 319.5,271 319.5,266.2 319.6,267 319.6,263.9 319.7,259.9 319.7,263.2 319.8,262.8 319.8,269 319.9,268 319.9,268.8 320,264.1 320,265 320.1,266.9 320.1,265.9 320.2,259.6 320.2,266.6 320.3,259.4 320.4,261.5 320.4,265.4 320.5,259.8 320.5,264.9 320.6,266.8 320.6,261.6 320.7,265.5 320.7,261.4 320.8,260.8 320.8,266.1 320.9,264.8 320.9,266.4 321,265.7 321,261.1 321.1,259.3 321.1,262.3 321.2,261.6 321.2,262.3 321.3,260.8 321.4,264.1 321.4,261.3 321.5,257 321.5,262.4 321.6,262 321.6,264.6 321.7,258.6 321.7,261.5 321.8,258.6 321.8,259.6 321.9,258.2 321.9,259.8 322,257.8 322,262.1 322.1,258.7 322.1,259.7 322.2,255.1 322.2,262.1 322.3,256.9"/>
<polyline fill="none" stroke="none" marker-start="url(#md)" marker-mid="url(#md)" marker-end="url(#md)" points="58.9,354.4 59,359 59,371.2 59.1,392 59.1,354.2 59.2,390.2 59.2,382.3 59.3,378.3 59.3,381.3 59.4,372.7 59.4,373.7 59.5,376.7 59.5,375.5 59.6,371.6 59.6,370.2 59.7,368.5 59.7,363 59.8,362.3 59.8,355.8 59.9,354.7 60,353 60,355.5 60.1,350.5 60.1,357.5 60.2,347.2 60.2,355.9 60.3,354.8 60.3,356.6 60.4,354.3 60.4,346 60.5,350.4 60.5,351.1 60.6,346.5 60.6,347.8 60.7,343.4 60.7,354.4 60.8,347.1 60.8,341.6 60.9,344.7 61,345 61,346.4 61.1,345.2 61.1,343.1 61.2,346.6 61.2,344 61.3,343 61.3,343.5 61.4,344.9 61.4,349.3 61.5,341.1 61.5,344.8 61.6,341.1 61.6,344.3 61.7,342.8 61.7,342.5 61.8,339.8 61.9,339.7 61.9,345.6 62,338.8 62,343.3 62.1,339.7 62.1,338.7 62.2,337.9 62.2,339.1 62.3,339.6 62.3,333.4 62.4,341.8 62.4,343.2 62.5,336.3 62.5,335 62.6,342 62.6,332 62.7,338.1 62.7,341.5 62.8,341 62.9,337.9 62.9,330.3 63,333.4 63,335.2 63.1,330.7 63.1,332.8 63.2,331.3 63.2,331.1 63.3,329.1 63.3,338.7 63.4,339.9 63.4,340.3 63.5,328.2 63.5,334 63.6,326.9 63.6,332.2 63.7,336.3 63.7,332.5 63.8,329.3 63.9,335.7 63.9,337.7 64,328 64,324.9 64.1,335.1 64.1,335.9 64.2,335.6 64.2,337.2 64.3,331.2 64.3,331.1 64.4,324.1 64.4,332 64.5,331.2 64.5,335.9 64.6,335.3 64.6,324 64.7,333.4 64.7,328.1 64.8,332.9 64.9,324.9 64.9,333 65,326 65,334.2 65.1,330.3 65.1,327.5 65.2,322.7 65.2,328.8 65.3,324.6 65.3,328.5 65.4,326 65.4,333.7 65.5,327.1 65.5,325.3 65.6,333.7 65.6,327.5 65.7,330.8 65.7,323.5 65.8,329.6 65.9,327.3 65.9,329.4 66,322 66,331 66.1,332.9 66.1,329.5 66.2,323.9 66.2,332.7 66.3,332.6 66.3,321.2 66.4,326.6 66.4,324.8 66.5,323 66.5,326.8 66.6,327.9 66.6,323.8 66.7,322.9 66.8,330.2 66.8,327.7 66.9,325.1 66.9,325.7 67,323.5 67,330.7 67.1,328.7 67.1,323.6 67.2,326 67.2,331.2 67.3,329.8 67.3,325.6 67.4,320.6 67.4,321.4 67.5,325.6 67.5,320 67.6,326.3 67.6,322.3 67.7,317.4 67.8,320.1 67.8,325.7 67.9,326.1 67.9,317.2 68,324 68,324.5 68.1,325 68.1,323.7 68.2,326.6 68.2,320.8 68.3,327.1 68.3,322 68.4,317.1 68.4,324.6 68.5,320.5 68.5,324.2 68.6,320.8 68.6,322.3 68.7,322.9 68.8,323.9 68.8,319.5 68.9,324.1 68.9,324.6 69,325.5 69,318.4 69.1,323.1 69.1,319.1 69.2,322.8 69.2,319.2 69.3,322.3 69.3,320.2 69.4,320.5 69.4,311.4 69.5,326.3 69.5,315.3 69.6,326.5 69.6,320.9 69.7,323.8 69.8,320.7 69.8,318 69.9,319.1 69.9,319.1 70,320.7 70,325.2 70.1,324.4 70.1,321.4 70.2,322.1 70.2,323.9 70.3,324.9 70.3,327.6 70.4,315.7 70.4,318.2 70.5,319.3 70.5,315.3 70.6,315 70.6,322.3 70.7,316.6 70.8,317.9 70.8,321.1 70.9,316.9 70.9,319.2 71,324.2 71,318.6 71.1,319.5 71.1,326 71.2,322.3 71.2,315.5 71.3,320.5 71.3,319.4 71.4,322.9 71.4,323.2 71.5,318.6 71.5,316.1 71.6,316 71.7,317.5 71.7,321.8 71.8,319.5 71.8,321.4 71.9,322.5 71.9,313.5 72,316.6 72,317.4 72.1,321.2 72.1,314.8 72.2,317 72.2,319.1 72.3,312.4 72.3,313.6 72.4,316.2 72.4,315.8 72.5,314.7 72.5,320.4 72.6,320.8 72.7,321.7 72.7,322.7 72.8,322.5 72.8,314.5 72.9,315.2 72.9,319.8 73,315.9 73,315.6 73.1,319.3 73.1,320.4 73.2,320.8 73.2,315.1 73.3,320.5 73.3,313.7 73.4,318.4 73.4,317.6 73.5,321.7 73.5,312.8 73.6,314.2 73.7,312.6 73.7,319 73.8,316.2 73.8,315.2 73.9,319.3 73.9,316.5 74,315.6 74,321.6 74.1,316.2 74.1,312.5 74.2,311.2 74.2,322.5 74.3,315.4 74.3,311.8 74.4,320.1 74.4,311.1 74.5,318.1 74.5,312.5 74.6,317.8 74.7,319.4 74.7,316.5 74.8,315.5 74.8,316.7 74.9,316.3 74.9,314.6 75,317.7 75,312.4 75.1,309.8 75.1,317.4 75.2,315.5 75.2,318.6 75.3,320.7 75.3,312.1 75.4,317.7 75.4,317 75.5,317.6 75.6,317 75.6,311.3 75.7,318.4 75.7,312.5 75.8,317.5 75.8,317.2 75.9,316.5 75.9,320.2 76,315.5 76,314.8 76.1,314.5 76.1,312.5 76.2,310.8 76.2,323 76.3,315.9 76.3,313.5 76.4,313.8 76.4,314.3 76.5,316.8 76.6,314.5 76.6,320 76.7,315.5 76.7,313.4 76.8,315.2 76.8,313.7 76.9,314.1 76.9,315.2 77,313.6 77,314.4 77.1,316 77.1,317.2 77.2,312.5 77.2,310.4 77.3,317.1 77.3,313.7 77.4,316 77.4,312.6 77.5,314.5 77.6,312.5 77.6,317.4 77.7,315.4 77.7,312.2 77.8,312.8 77.8,315.4 77.9,316.7 77.9,315.1 78,310.3 78,314.9 78.1,314.2 78.1,319.5 78.2,316.3 78.2,310.1 78.3,316 78.3,318.9 78.4,313.2 78.4,309.9 78.5,312.7 78.6,313.5 78.6,309.2 78.7,311.3 78.7,311.3 78.8,318.4 78.8,308.7 78.9,313.9 78.9,313.2 79,315.3 79,309.7 79.1,313.1 79.1,309.8 79.2,313.4 79.2,311.1 79.3,318.1 79.3,313.6 79.4,311.3 79.4,311.8 79.5,310.8 79.6,316.6 79.6,309.6 79.7,316.2 79.7,310.1 79.8,317.1 79.8,313.1 79.9,317.8 79.9,310.7 80,315.4 80,314.7 80.1,318 80.1,314.5 80.2,315.6 80.2,314.7 80.3,313.1 80.3,314.6 80.4,312.8 80.5,316.5 80.5,316.9 80.6,314.7 80.6,315.9 80.7,316.6 80.7,313.3 80.8,310.1 80.8,309.6 80.9,312.5 80.9,312.6 81,314.4 81,316.3 81.1,308.6 81.1,311.2 81.2,315.5 81.2,312.6 81.3,310.9 81.3,316.9 81.4,313.5 81.5,309 81.5,313.1 81.6,316.4 81.6,312.2 81.7,312 81.7,311.2 81.8,313.3 81.8,313.2 81.9,315.7 81.9,313.4 82,315.7 82,314.7 82.1,310.1 82.1,309.4 82.2,310.7 82.2,309 82.3,312.2 82.3,308.7 82.4,310.6 82.5,315.2 82.5,309.5 82.6,311.4 82.6,310.4 82.7,311.8 82.7,312.6 82.8,308.5 82.8,311.5 82.9,314.8 82.9,312.7 83,310.3 83,309.8 83.1,315.5 83.1,310.9 83.2,310.7 83.2,315.1 83.3,308.1 83.3,313 83.4,311.3 83.5,316.1 83.5,311.9 83.6,313.5 83.6,307.9 83.7,312.1 83.7,310.2 83.8,312.9 83.8,314.2 83.9,314.3 83.9,310.5 84,308.5 84,310.3 84.1,310 84.1,312.1 84.2,308.3 84.2,310 84.3,311.9 84.3,314.8 84.4,307.1 84.5,312 84.5,311.5 84.6,308.4 84.6,311.1 84.7,309.6 84.7,313.6 84.8,313.6 84.8,314 84.9,310.2 84.9,316.2 85,316.4 85,312.7 85.1,311.4 85.1,314.2 85.2,313.7 85.2,313.3 85.3,316.1 85.4,314.9 85.4,314.3 85.5,310.4 85.5,311.8 85.6,310.5 85.6,311.6 85.7,314 85.7,309.3 85.8,310.8 85.8,314.4 85.9,310.4 85.9,316.4 86,311 86,317.6 86.1,307.9 86.1,313.7 86.2,307.1 86.2,312.6 86.3,307.9 86.4,310.5 86.4,307.8 86.5,313.6 86.5,313.6 86.6,307.5 86.6,314.3 86.7,308.8 86.7,313.5 86.8,313.6 86.8,311.4 86.9,308.4 86.9,312.9 87,313.2 87,310.9 87.1,313.3 87.1,306.9 87.2,307.9 87.2,310.6 87.3,309.9 87.4,311 87.4,309.1 87.5,310 87.5,308 87.6,313.8 87.6,309.9 87.7,310.9 87.7,308 87.8,311.8 87.8,308.5 87.9,307.6 87.9,313.7 88,310.2 88,311.8 88.1,306.7 88.1,307.5 88.2,311.1 88.2,313.4 88.3,310 88.4,309.7 88.4,310.2 88.5,309.5 88.5,311.9 88.6,311.3 88.6,307.1 88.7,308.9 88.7,310 88.8,307.4 88.8,307.7 88.9,307.3 88.9,308.1 89,307.8 89,311.9 89.1,309.2 89.1,314.2 89.2,312.6 89.2,313.6 89.3,311.6 89.4,307.7 89.4,308.5 89.5,308.8 89.5,312.5 89.6,308.3 89.6,312.3 89.7,310 89.7,307 89.8,309.5 89.8,313.7 89.9,311.7 89.9,310.7 90,309.6 90,309 90.1,312.2 90.1,310.5 90.2,312.7 90.3,310.3 90.3,309.5 90.4,310.4 90.4,311.9 90.5,307.2 90.5,310.2 90.6,307.5 90.6,311.6 90.7,314 90.7,306.5 90.8,311.8 90.8,311.3 90.9,307.3 90.9,307.8 91,308.7 91,309.3 91.1,306.3 91.1,313.2 91.2,309.7 91.3,313 91.3,311 91.4,311.1 91.4,309.9 91.5,306.8 91.5,310.1 91.6,313.2 91.6,310.8 91.7,306.7 91.7,307.2 91.8,306.4 91.8,307.7 91.9,310.9 91.9,308.4 92,309.2 92,310.1 92.1,309.1 92.1,305.9 92.2,308.2 92.3,311.9 92.3,308.5 92.4,309.4 92.4,307.9 92.5,305.5 92.5,312.8 92.6,305.5 92.6,309.2 92.7,306.5 92.7,306.3 92.8,305.3 92.8,309.2 92.9,307.2 92.9,304.5 93,306.3 93,311 93.1,308.6 93.1,309 93.2,306.2 93.3,308.2 93.3,304.4 93.4,307 93.4,308.2 93.5,305 93.5,309 93.6,308.3 93.6,304.6 93.7,306.3 93.7,308.2 93.8,311.5 93.8,308.1 93.9,308.7 93.9,306.4 94,311.4 94,311.7 94.1,309.2 94.1,308.3 94.2,307.7 94.3,307.2 94.3,311.1 94.4,307.3 94.4,308.3 94.5,307.7 94.5,308.8 94.6,304.7 94.6,305.7 94.7,303.9 94.7,304.7 94.8,311.6 94.8,311.3 94.9,305.3 94.9,307.6 95,307.4 95,308 95.1,311 95.2,308.3 95.2,310.7 95.3,309.4 95.3,306 95.4,309.1 95.4,308.7 95.5,302.9 95.5,306.3 95.6,311.9 95.6,304.7 95.7,305.1 95.7,306 95.8,307.5 95.8,307.4 95.9,308.4 95.9,304 96,311 96,307.5 96.1,305.9 96.2,304.8 96.2,309.3 96.3,304 96.3,303.8 96.4,306.3 96.4,303.6 96.5,310.6 96.5,309.6 96.6,310 96.6,306.6 96.7,309.7 96.7,310.1 96.8,308.5 96.8,310.5 96.9,310.9 96.9,304 97,309.4 97,310.3 97.1,304.3 97.2,310.2 97.2,303.2 97.3,307.3 97.3,305.9 97.4,310.9 97.4,304.6 97.5,305.5 97.5,306.7 97.6,304 97.6,304.6 97.7,306.5 97.7,308 97.8,310.9 97.8,302.3 97.9,303.8 97.9,308.6 98,304.1 98,311.3 98.1,305.2 98.2,312.6 98.2,308.7 98.3,307.3 98.3,307.4 98.4,309.2 98.4,304.4 98.5,305.1 98.5,302.2 98.6,307.8 98.6,307.2 98.7,306.5 98.7,308.1 98.8,306.4 98.8,308.3 98.9,304.9 98.9,305.2 99,307.7 99.1,307.2 99.1,310.3 99.2,309 99.2,310 99.3,303.7 99.3,308.5 99.4,308.9 99.4,303.4 99.5,310.9 99.5,306.3 99.6,304.8 99.6,306.3 99.7,302.6 99.7,309.5 99.8,305.9 99.8,304 99.9,308.3 99.9,310.2 100,303.8 100.1,307.7 100.1,307 100.2,304.3 100.2,304.2 100.3,306.9 100.3,306.9 100.4,305.6 100.4,305.5 100.5,306.9 100.5,304.6 100.6,302.3 100.6,304.8 100.7,303 100.7,303.9 100.8,306.6 100.8,307.6 100.9,303.1 100.9,307.1 101,302.4 101.1,302.7 101.1,305.5 101.2,306.6 101.2,306.1 101.3,302.3 101.3,305.4 101.4,305.5 101.4,304.4 101.5,304.5 101.5,305.3 101.6,305.8 101.6,308.1 101.7,306.7 101.7,309.8 101.8,307.7 101.8,304.5 101.9,305.2 101.9,308.7 102,303.2 102.1,308.8 102.1,308 102.2,303.3 102.2,302.9 102.3,307.6 102.3,305.2 102.4,304.9 102.4,306.4 102.5,305.3 102.5,303.2 102.6,308.4 102.6,305.3 102.7,309.6 102.7,302.7 102.8,302.8 102.8,303.4 102.9,308.3 102.9,301.7 103,303.1 103.1,304.9 103.1,308.6 103.2,305.9 103.2,308.9 103.3,303.2 103.3,303.1 103.4,298.9 103.4,310.5 103.5,303.3 103.5,304.8 103.6,302.1 103.6,305.2 103.7,306.2 103.7,305.3 103.8,302.8 103.8,303.3 103.9,306 104,307.3 104,306.5 104.1,306.1 104.1,305 104.2,302.9 104.2,306.8 104.3,306.6 104.3,301.4 104.4,306.9 104.4,301.4 104.5,303.8 104.5,306.9 104.6,306.9 104.6,305.5 104.7,306.7 104.7,306.3 104.8,304.9 104.8,303.2 104.9,307.9 105,306.2 105,305.2 105.1,307.5 105.1,305.6 105.2,306.9 105.2,305.3 105.3,309.4 105.3,303.2 105.4,301.7 105.4,301.3 105.5,301.8 105.5,301.5 105.6,307.3 105.6,306.6 105.7,303 105.7,306.1 105.8,302.9 105.8,308.1 105.9,302.2 106,303.9 106,305.4 106.1,303.1 106.1,306.6 106.2,306.2 106.2,299.8 106.3,301 106.3,305.8 106.4,302.2 106.4,303.4 106.5,303.4 106.5,307.8 106.6,307.3 106.6,303.6 106.7,304.9 106.7,303.7 106.8,306.2 106.8,303.1 106.9,300.5 107,303.7 107,306.7 107.1,306.2 107.1,303.5 107.2,308.3 107.2,305 107.3,305.1 107.3,301.4 107.4,306.5 107.4,303.9 107.5,307.4 107.5,304.2 107.6,306.2 107.6,303.9 107.7,307.8 107.7,304.4 107.8,304.2 107.8,305.3 107.9,303.4 108,304.9 108,303.2 108.1,307.2 108.1,306.9 108.2,301.7 108.2,306.1 108.3,301.1 108.3,303.9 108.4,306 108.4,305.6 108.5,304.9 108.5,307 108.6,300.7 108.6,303.1 108.7,305 108.7,304.1 108.8,301.4 108.9,304.2 108.9,304.8 109,305.8 109,304 109.1,303.5 109.1,304.9 109.2,304.2 109.2,304.9 109.3,303.8 109.3,302.6 109.4,308.5 109.4,297.2 109.5,306.1 109.5,302.1 109.6,304.2 109.6,300.8 109.7,306.3 109.7,301.6 109.8,307.3 109.9,305.7 109.9,300.8 110,302.3 110,309.3 110.1,301.4 110.1,307.3 110.2,305.2 110.2,301.6 110.3,304 110.3,305.2 110.4,304.8 110.4,298.9 110.5,307.3 110.5,302.4 110.6,301.6 110.6,306.1 110.7,300.9 110.7,304.1 110.8,305.5 110.9,306.4 110.9,305.1 111,299.8 111,303.4 111.1,305.5 111.1,302.6 111.2,304.9 111.2,300.7 111.3,302.3 111.3,304 111.4,300.6 111.4,301.4 111.5,306 111.5,303.1 111.6,302.8 111.6,305.8 111.7,306 111.7,306.5 111.8,302 111.9,304.6 111.9,302.5 112,301.2 112,305.6 112.1,301.3 112.1,302.8 112.2,304.2 112.2,299.5 112.3,306.5 112.3,301.4 112.4,300.5 112.4,307.1 112.5,301.6 112.5,302.8 112.6,302 112.6,304.5 112.7,299.3 112.7,303.5 112.8,303.1 112.9,305.4 112.9,306.2 113,302.3 113,299.6 113.1,300.7 113.1,303.9 113.2,303.4 113.2,300.1 113.3,301.8 113.3,300 113.4,300.2 113.4,305.6 113.5,302.5 113.5,302.2 113.6,305.2 113.6,303.3 113.7,300.1 113.8,302 113.8,303.5 113.9,299.2 113.9,304.9 114,300.2 114,304.8 114.1,300.2 114.1,304.1 114.2,305.7 114.2,299.4 114.3,306.4 114.3,299.7 114.4,298.9 114.4,300.7 114.5,302.8 114.5,299.1 114.6,303.9 114.6,302.8 114.7,306.6 114.8,301.9 114.8,306.2 114.9,298.7 114.9,305.1 115,300.5 115,301.6 115.1,304.9 115.1,304.2 115.2,301.9 115.2,303 115.3,307.9 115.3,300 115.4,299.9 115.4,304.8 115.5,302.9 115.5,302.8 115.6,300.9 115.6,299.5 115.7,301.8 115.8,303.8 115.8,301.3 115.9,299.2 115.9,300.7 116,304.3 116,306.5 116.1,301.5 116.1,302.5 116.2,298.5 116.2,305.8 116.3,300.5 116.3,305 116.4,297.8 116.4,301.6 116.5,303.8 116.5,303.4 116.6,301.4 116.6,301.6 116.7,303.2 116.8,302 116.8,303.6 116.9,302.5 116.9,305 117,304.9 117,300.7 117.1,303.1 117.1,298.5 117.2,304.4 117.2,304.5 117.3,303.5 117.3,303.5 117.4,302.5 117.4,300.6 117.5,304.3 117.5,305.8 117.6,304.7 117.6,305.3 117.7,303.8 117.8,302.2 117.8,303.2 117.9,303.7 117.9,301.2 118,303.1 118,301.4 118.1,303.6 118.1,300.3 118.2,300.7 118.2,303 118.3,301.7 118.3,304.9 118.4,303.7 118.4,303.7 118.5,301.3 118.5,302.6 118.6,304.1 118.7,303.5 118.7,301.4 118.8,301.5 118.8,303.9 118.9,302.3 118.9,298.5 119,305.5 119,298.7 119.1,297.7 119.1,297.8 119.2,301 119.2,299 119.3,300.4 119.3,303.2 119.4,302.3 119.4,299.5 119.5,302.2 119.5,298 119.6,298.9 119.7,304.9 119.7,300.1 119.8,298 119.8,304.1 119.9,298.9 119.9,302.9 120,301.5 120,301 120.1,301.9 120.1,298.6 120.2,298.5 120.2,297.5 120.3,300.6 120.3,303.2 120.4,303.4 120.4,301.8 120.5,302.2 120.5,299 120.6,302.3 120.7,302.2 120.7,303.9 120.8,300.5 120.8,301.6 120.9,302 120.9,299.3 121,304.5 121,305.4 121.1,302 121.1,301.2 121.2,304.2 121.2,301.7 121.3,299.1 121.3,302.1 121.4,300.2 121.4,298.5 121.5,299.6 121.5,304.7 121.6,300.4 121.7,301.1 121.7,300.4 121.8,299.5 121.8,296.9 121.9,300.8 121.9,304.7 122,302.8 122,303.2 122.1,300.7 122.1,297.5 122.2,299.2 122.2,299.7 122.3,301.9 122.3,299.6 122.4,300.8 122.4,301.3 122.5,304.4 122.6,302.5 122.6,301.6 122.7,297.5 122.7,299 122.8,294.6 122.8,298.5 122.9,298 122.9,301.7 123,300.9 123,302.1 123.1,302.6 123.1,297.7 123.2,300 123.2,302.4 123.3,304 123.3,298.4 123.4,298.7 123.4,304.2 123.5,303.4 123.6,300.6 123.6,295.9 123.7,301.5 123.7,295.5 123.8,299.5 123.8,298.3 123.9,297.1 123.9,299 124,302.7 124,297.4 124.1,296.7 124.1,302.5 124.2,299.2 124.2,303.2 124.3,297.9 124.3,299.8 124.4,298.6 124.4,302.3 124.5,301.5 124.6,299.9 124.6,298.9 124.7,293.7 124.7,298.8 124.8,298.5 124.8,303.5 124.9,301.6 124.9,294.7 125,300.4 125,299.2 125.1,299.5 125.1,302.4 125.2,301.2 125.2,295.8 125.3,298.7 125.3,302 125.4,300.4 125.4,298 125.5,300.9 125.6,300.5 125.6,301.7 125.7,301.3 125.7,301.3 125.8,299.5 125.8,301.9 125.9,297.2 125.9,301.4 126,297.8 126,302.3 126.1,297.2 126.1,297.6 126.2,301.6 126.2,298.9 126.3,298.2 126.3,296.1 126.4,301.8 126.4,304.5 126.5,302.6 126.6,301.5 126.6,301.2 126.7,300.4 126.7,296.9 126.8,296.8 126.8,301.8 126.9,300.5 126.9,300 127,298.5 127,299.9 127.1,298.2 127.1,299.5 127.2,299.8 127.2,302.4 127.3,301.6 127.3,300 127.4,301.3 127.5,297 127.5,300.1 127.6,298.3 127.6,298.5 127.7,298.3 127.7,299.2 127.8,301.1 127.8,300.8 127.9,298.7 127.9,298.8 128,299.2 128,296.1 128.1,297.8 128.1,299.4 128.2,302.9 128.2,300.9 128.3,296.1 128.3,299.9 128.4,297.5 128.5,295.5 128.5,300.9 128.6,302.3 128.6,297.6 128.7,302 128.7,300.9 128.8,301.1 128.8,296.4 128.9,297.5 128.9,298.9 129,300.6 129,298.7 129.1,301.1 129.1,301.7 129.2,296.6 129.2,301 129.3,298.7 129.3,297.7 129.4,297.2 129.5,296.5 129.5,296.2 129.6,301.1 129.6,298.1 129.7,298.7 129.7,299.4 129.8,295.9 129.8,299.5 129.9,301.4 129.9,301.2 130,302.5 130,299.9 130.1,296.6 130.1,302.5 130.2,299.3 130.2,300.7 130.3,298.2 130.3,299 130.4,301.7 130.5,302.1 130.5,302.1 130.6,299.5 130.6,297.8 130.7,302.4 130.7,297.8 130.8,300.6 130.8,299 130.9,296.4 130.9,298.1 131,299.3 131,295.9 131.1,295.4 131.1,299 131.2,298.7 131.2,300.3 131.3,297.6 131.3,300.9 131.4,296.9 131.5,300.1 131.5,297.7 131.6,294.8 131.6,299.8 131.7,297.5 131.7,299.1 131.8,297 131.8,301.2 131.9,299.5 131.9,301.4 132,293.6 132,298.9 132.1,297.1 132.1,301.1 132.2,298.5 132.2,299.2 132.3,298.2 132.4,298 132.4,300 132.5,297.8 132.5,297.4 132.6,297.7 132.6,300.4 132.7,294.8 132.7,295 132.8,303.2 132.8,294.7 132.9,297.4 132.9,298 133,300.2 133,302.3 133.1,294.1 133.1,297.9 133.2,299.6 133.2,301.4 133.3,295.9 133.4,296.5 133.4,299.8 133.5,301.2 133.5,298.8 133.6,299.3 133.6,301.7 133.7,295.4 133.7,298 133.8,301.2 133.8,297.4 133.9,299.5 133.9,296.7 134,303.3 134,300.2 134.1,295.7 134.1,292.3 134.2,293.8 134.2,294.7 134.3,296.9 134.4,295.5 134.4,294.5 134.5,293.6 134.5,296.4 134.6,299.8 134.6,296.4 134.7,301.7 134.7,295.1 134.8,296.3 134.8,298.6 134.9,297.5 134.9,299.9 135,296.8 135,300.7 135.1,295.3 135.1,298.7 135.2,299.8 135.2,301.2 135.3,293.5 135.4,301.9 135.4,297.3 135.5,298.5 135.5,295.5 135.6,300.3 135.6,294 135.7,298 135.7,292.2 135.8,300.1 135.8,301.1 135.9,295 135.9,300.5 136,299.9 136,299.5 136.1,300.8 136.1,299.5 136.2,298.3 136.2,295.6 136.3,302.4 136.4,295.1 136.4,294.5 136.5,298.7 136.5,299.4 136.6,300.2 136.6,299.7 136.7,294.1 136.7,300.9 136.8,300.6 136.8,295.9 136.9,300.2 136.9,296.9 137,297.1 137,296.6 137.1,297.7 137.1,294.2 137.2,296.6 137.3,300.7 137.3,297.1 137.4,300.7 137.4,297 137.5,296.7 137.5,300.4 137.6,293.7 137.6,299.8 137.7,298.4 137.7,297.4 137.8,299.9 137.8,298 137.9,295.5 137.9,296.5 138,298.6 138,296.5 138.1,294.9 138.1,295.8 138.2,299.5 138.3,294.2 138.3,299.9 138.4,296.5 138.4,298.6 138.5,294.9 138.5,299.5 138.6,293.7 138.6,298.5 138.7,300.3 138.7,295.8 138.8,291.5 138.8,298.6 138.9,299.7 138.9,293.4 139,299.3 139,295.4 139.1,296.2 139.1,292.6 139.2,293.7 139.3,293.8 139.3,296.8 139.4,294.7 139.4,294.4 139.5,299.6 139.5,295.4 139.6,292.8 139.6,294.6 139.7,296.7 139.7,296.1 139.8,294.8 139.8,295.6 139.9,299.6 139.9,295.5 140,298 140,296.6 140.1,297.5 140.1,299.9 140.2,296 140.3,297.2 140.3,292.5 140.4,299.9 140.4,294.6 140.5,295.5 140.5,301.5 140.6,298.3 140.6,297.4 140.7,296.9 140.7,294 140.8,296.2 140.8,296.2 140.9,292.9 140.9,291.8 141,293.9 141,297.3 141.1,297.8 141.1,293.9 141.2,293.2 141.3,293.3 141.3,301.9 141.4,297.2 141.4,299.3 141.5,296.6 141.5,293 141.6,299.4 141.6,298.6 141.7,297.8 141.7,296 141.8,294.2 141.8,296.9 141.9,298.7 141.9,293.8 142,297.6 142,296.8 142.1,299.8 142.2,295 142.2,295.1 142.3,294.2 142.3,293.3 142.4,297.8 142.4,296.8 142.5,299 142.5,294.3 142.6,298.9 142.6,296 142.7,298.2 142.7,295.1 142.8,292.7 142.8,293.5 142.9,294.6 142.9,295.4 143,295.9 143,299 143.1,298 143.2,291.9 143.2,298.7 143.3,294.2 143.3,298.3 143.4,298.5 143.4,294.9 143.5,299.6 143.5,298.8 143.6,293.2 143.6,298.9 143.7,299.1 143.7,294.7 143.8,293.7 143.8,292.5 143.9,292.8 143.9,294.4 144,296.6 144,293.2 144.1,297.4 144.2,292.1 144.2,291.8 144.3,292.5 144.3,294 144.4,293.4 144.4,295.9 144.5,297.7 144.5,293.9 144.6,293.8 144.6,294.4 144.7,293.8 144.7,295.8 144.8,293.8 144.8,294.8 144.9,294.5 144.9,295.6 145,293.3 145,293.8 145.1,292.5 145.2,299.8 145.2,297.8 145.3,295.4 145.3,297.1 145.4,296 145.4,295.8 145.5,296.7 145.5,296.8 145.6,298 145.6,297.4 145.7,293.2 145.7,295.5 145.8,293.6 145.8,294.2 145.9,294.2 145.9,292.2 146,293.9 146.1,296.8 146.1,292.4 146.2,293.7 146.2,298.9 146.3,296.6 146.3,295.8 146.4,293.8 146.4,295.1 146.5,292.6 146.5,292.3 146.6,292.5 146.6,297 146.7,295.4 146.7,294.1 146.8,298.2 146.8,294.1 146.9,297.2 146.9,295.2 147,291.3 147.1,297.1 147.1,295.9 147.2,298.2 147.2,293.5 147.3,295.3 147.3,294 147.4,294.1 147.4,293.7 147.5,297.2 147.5,292.7 147.6,292.2 147.6,297.4 147.7,293.9 147.7,297.3 147.8,298.6 147.8,297.4 147.9,295.4 147.9,296.5 148,294.7 148.1,294.1 148.1,295.4 148.2,295.9 148.2,291.4 148.3,291.6 148.3,292.1 148.4,297.1 148.4,291.8 148.5,295 148.5,293.9 148.6,298.1 148.6,298.1 148.7,293 148.7,294.3 148.8,298.2 148.8,293 148.9,295.5 148.9,298.2 149,293.7 149.1,292.7 149.1,291.4 149.2,292 149.2,295.3 149.3,291.3 149.3,294.2 149.4,293.6 149.4,294.4 149.5,297.8 149.5,297.6 149.6,292.1 149.6,294 149.7,296.2 149.7,295.5 149.8,294.3 149.8,292 149.9,290.1 149.9,299.8 150,293.9 150.1,291.8 150.1,292.5 150.2,296.2 150.2,295.5 150.3,296.6 150.3,294.1 150.4,294.6 150.4,293.3 150.5,293 150.5,295.6 150.6,293.9 150.6,290.6 150.7,296.3 150.7,294.3 150.8,291.9 150.8,296.5 150.9,295.2 151,294.3 151,290.4 151.1,293.2 151.1,291.3 151.2,293.7 151.2,297.5 151.3,294.4 151.3,293.5 151.4,291 151.4,293 151.5,293.7 151.5,290.8 151.6,296.3 151.6,293.6 151.7,293.2 151.7,296.9 151.8,292.2 151.8,292.7 151.9,295.6 152,294.4 152,293 152.1,292.8 152.1,294.3 152.2,292.7 152.2,291.8 152.3,290.7 152.3,291.1 152.4,293.1 152.4,295.2 152.5,293 152.5,296.2 152.6,295 152.6,296.6 152.7,292.2 152.7,296.9 152.8,293.1 152.8,293.7 152.9,290.3 153,296.3 153,291.4 153.1,291.8 153.1,296.9 153.2,293.6 153.2,296.3 153.3,296.4 153.3,292.6 153.4,291.9 153.4,289.8 153.5,290.3 153.5,296.6 153.6,295.5 153.6,294.9 153.7,293.8 153.7,293.5 153.8,291.5 153.8,296 153.9,293.3 154,290.7 154,290.4 154.1,293.5 154.1,294 154.2,291.7 154.2,293.1 154.3,297.7 154.3,295.9 154.4,293.5 154.4,295.8 154.5,290 154.5,293.1 154.6,292.9 154.6,293.9 154.7,292.5 154.7,296.4 154.8,293.2 154.8,294.5 154.9,292.2 155,291.4 155,290.5 155.1,291 155.1,294.6 155.2,293.8 155.2,288.9 155.3,292.9 155.3,299.8 155.4,292.2 155.4,293.8 155.5,293.8 155.5,295.1 155.6,296.4 155.6,290.2 155.7,295.8 155.7,290.8 155.8,295.1 155.9,295.9 155.9,292.1 156,291.8 156,289.6 156.1,293.2 156.1,293.6 156.2,293.3 156.2,291.8 156.3,290.5 156.3,289.8 156.4,294.7 156.4,294.7 156.5,292.8 156.5,293.4 156.6,289.7 156.6,289.7 156.7,293.7 156.7,294.8 156.8,294.1 156.9,292.3 156.9,290.6 157,295 157,294.7 157.1,296.2 157.1,294.1 157.2,296.5 157.2,296 157.3,293 157.3,294.7 157.4,294 157.4,291.1 157.5,293.6 157.5,291.2 157.6,295.5 157.6,292.9 157.7,296.1 157.7,293.5 157.8,293.3 157.9,297.4 157.9,293.4 158,292.4 158,295.7 158.1,294.1 158.1,298.1 158.2,289.3 158.2,289.3 158.3,294.6 158.3,294.1 158.4,288.7 158.4,289.3 158.5,293.4 158.5,289.3 158.6,295.9 158.6,290.3 158.7,296.3 158.7,293.9 158.8,290.3 158.9,289.1 158.9,291.8 159,292.4 159,292.3 159.1,291.9 159.1,292.1 159.2,292.3 159.2,293.6 159.3,290.8 159.3,293.5 159.4,292.5 159.4,294.4 159.5,295.9 159.5,295.5 159.6,292.9 159.6,286 159.7,290 159.7,293.9 159.8,290 159.9,295.3 159.9,288.3 160,290.4 160,295.4 160.1,289.1 160.1,291.3 160.2,291.8 160.2,290.1 160.3,295.2 160.3,294.8 160.4,293.6 160.4,293.2 160.5,291.8 160.5,290.9 160.6,290.8 160.6,291.5 160.7,290.4 160.8,293.2 160.8,292.5 160.9,290.9 160.9,292.6 161,295.2 161,288.9 161.1,289.3 161.1,293.6 161.2,292.5 161.2,292.4 161.3,290.9 161.3,291.4 161.4,289.3 161.4,288.9 161.5,288.7 161.5,292.6 161.6,292.7 161.6,292.6 161.7,295.4 161.8,289.3 161.8,288.6 161.9,293.1 161.9,297.6 162,290.2 162,288.5 162.1,295.5 162.1,290.8 162.2,291.6 162.2,291.6 162.3,293.5 162.3,294.6 162.4,289.2 162.4,294.3 162.5,289.9 162.5,293.4 162.6,290.5 162.6,293.4 162.7,290.4 162.8,290.9 162.8,295.1 162.9,289.4 162.9,289.2 163,293.1 163,291.2 163.1,294.1 163.1,291.5 163.2,291.1 163.2,295.3 163.3,291.2 163.3,292.1 163.4,289.7 163.4,291.6 163.5,292.8 163.5,289.7 163.6,294.1 163.6,288.9 163.7,289.9 163.8,292.4 163.8,298.6 163.9,287.8 163.9,292.2 164,297.1 164,290.3 164.1,294 164.1,292 164.2,294.4 164.2,292.4 164.3,289.6 164.3,291.7 164.4,288.5 164.4,287.8 164.5,286.2 164.5,293.9 164.6,294.3 164.6,289.7 164.7,290.7 164.8,288.8 164.8,290.5 164.9,288.9 164.9,290.7 165,291.4 165,289.8 165.1,291 165.1,295.1 165.2,290.1 165.2,291.6 165.3,288.7 165.3,290.6 165.4,289.3 165.4,294.9 165.5,290.9 165.5,292.4 165.6,294 165.7,291.5 165.7,292.8 165.8,291.9 165.8,294.5 165.9,287.8 165.9,291.5 166,294.2 166,292.3 166.1,292.9 166.1,289.7 166.2,292.5 166.2,289.7 166.3,294.3 166.3,289 166.4,289.4 166.4,293.6 166.5,294.3 166.5,289.3 166.6,291 166.7,291.3 166.7,291.4 166.8,291.6 166.8,289.5 166.9,291 166.9,292.8 167,289.6 167,290.6 167.1,288.5 167.1,289.5 167.2,289.1 167.2,289.4 167.3,293.2 167.3,293.2 167.4,290.1 167.4,289.3 167.5,293 167.5,289 167.6,289.8 167.7,294.3 167.7,290.6 167.8,288.2 167.8,288.8 167.9,293.1 167.9,287.7 168,289.7 168,289.8 168.1,292.3 168.1,288.6 168.2,292.8 168.2,293.1 168.3,293.1 168.3,290.2 168.4,288.9 168.4,285.5 168.5,288.7 168.5,290.8 168.6,290 168.7,288.6 168.7,289.6 168.8,293.7 168.8,292 168.9,289.8 168.9,289 169,287.7 169,287.5 169.1,290.7 169.1,289.2 169.2,297.9 169.2,288.8 169.3,288.6 169.3,291.8 169.4,288.3 169.4,289.1 169.5,289.7 169.6,292.1 169.6,291.6 169.7,288.1 169.7,288.9 169.8,289.5 169.8,288.1 169.9,291.8 169.9,293.1 170,292.7 170,293.5 170.1,290 170.1,287.4 170.2,290.8 170.2,291.4 170.3,293.4 170.3,288.3 170.4,292.3 170.4,291 170.5,290.3 170.6,290.6 170.6,289.3 170.7,293.9 170.7,291.2 170.8,291.2 170.8,287.3 170.9,288.7 170.9,288.7 171,288.7 171,287.6 171.1,285.9 171.1,291.8 171.2,286.2 171.2,292.3 171.3,289.2 171.3,291.5 171.4,288.7 171.4,288.7 171.5,288.2 171.6,287 171.6,293.4 171.7,288 171.7,288 171.8,291 171.8,284.9 171.9,292.3 171.9,292.7 172,289 172,290 172.1,288.5 172.1,288.1 172.2,289.8 172.2,293.6 172.3,289.6 172.3,286.3 172.4,290.7 172.4,292.8 172.5,292.7 172.6,292.1 172.6,286.4 172.7,290.7 172.7,287.7 172.8,292.4 172.8,288.7 172.9,290.3 172.9,289.2 173,291.8 173,285.6 173.1,290.7 173.1,290.1 173.2,292.2 173.2,291.1 173.3,291.8 173.3,293 173.4,287 173.4,288.3 173.5,290.1 173.6,288.5 173.6,289.2 173.7,288.7 173.7,291.2 173.8,291.3 173.8,287.9 173.9,285.8 173.9,289.2 174,287.6 174,287.5 174.1,289.5 174.1,290.4 174.2,290.2 174.2,290.7 174.3,289.5 174.3,290.2 174.4,287.5 174.5,290.3 174.5,287.8 174.6,292.4 174.6,291.3 174.7,288.4 174.7,291.3 174.8,290.4 174.8,289 174.9,292.2 174.9,292.6 175,288.6 175,287.7 175.1,293.1 175.1,289.5 175.2,292.8 175.2,286.8 175.3,287.5 175.3,291 175.4,289.4 175.5,291.9 175.5,287.6 175.6,291.4 175.6,290.9 175.7,290.1 175.7,290.8 175.8,291 175.8,290.7 175.9,288 175.9,291.6 176,290 176,289.7 176.1,289 176.1,289.1 176.2,287.4 176.2,290.9 176.3,288.9 176.3,290.5 176.4,285.9 176.5,288.7 176.5,288.6 176.6,286.7 176.6,288.9 176.7,291.1 176.7,291.5 176.8,292.3 176.8,292 176.9,287.6 176.9,290.3 177,290.6 177,290.2 177.1,286.8 177.1,286.3 177.2,289.9 177.2,292.4 177.3,287.5 177.3,289.6 177.4,285.9 177.5,289.5 177.5,292.5 177.6,287.8 177.6,287.7 177.7,292.2 177.7,286.2 177.8,288.7 177.8,289.8 177.9,288.6 177.9,286.2 178,293.6 178,287.1 178.1,289.7 178.1,291.6 178.2,285.7 178.2,283.9 178.3,290.8 178.3,290.1 178.4,286.8 178.5,285.8 178.5,288.2 178.6,287.5 178.6,289.3 178.7,291.1 178.7,288.9 178.8,288.1 178.8,286.7 178.9,289 178.9,289.5 179,286 179,284.4 179.1,291.5 179.1,289.8 179.2,294.5 179.2,289.5 179.3,287.6 179.4,290 179.4,287.6 179.5,285.8 179.5,289.3 179.6,292.1 179.6,289.4 179.7,285.8 179.7,286.7 179.8,288.8 179.8,284.8 179.9,292.5 179.9,285.9 180,286.9 180,289.3 180.1,285.6 180.1,289.3 180.2,287.3 180.2,288.4 180.3,292.1 180.4,288.9 180.4,292.5 180.5,286.6 180.5,288.5 180.6,290.6 180.6,285.9 180.7,291.3 180.7,289.8 180.8,287.5 180.8,287.5 180.9,290.3 180.9,290 181,286.4 181,288.3 181.1,285.5 181.1,285.7 181.2,289.7 181.2,287.8 181.3,289.9 181.4,288.7 181.4,287.5 181.5,286.3 181.5,287.3 181.6,287.8 181.6,289.5 181.7,288.5 181.7,286.3 181.8,290 181.8,290.2 181.9,287 181.9,286.5 182,289.6 182,287.8 182.1,288.5 182.1,289.7 182.2,292.4 182.2,288.8 182.3,289.8 182.4,287.9 182.4,289.5 182.5,288.3 182.5,285.1 182.6,289.7 182.6,289.6 182.7,283.8 182.7,287.6 182.8,287.7 182.8,284.7 182.9,287 182.9,286.5 183,287.9 183,288.7 183.1,289.9 183.1,287.5 183.2,285 183.2,285.4 183.3,290.1 183.4,289.7 183.4,290.4 183.5,287.4 183.5,288.3 183.6,287.8 183.6,290.8 183.7,290.1 183.7,291 183.8,289.6 183.8,289.6 183.9,290.5 183.9,293.2 184,289.2 184,284.7 184.1,286.1 184.1,291.2 184.2,290.8 184.3,289.7 184.3,293 184.4,286.9 184.4,292.2 184.5,289.3 184.5,286.4 184.6,291.1 184.6,289.3 184.7,289.9 184.7,285 184.8,286 184.8,284.5 184.9,287.5 184.9,288.7 185,286.2 185,288 185.1,284.7 185.1,289.7 185.2,286.4 185.3,286.5 185.3,289.9 185.4,286.7 185.4,284.2 185.5,290.1 185.5,288.3 185.6,289.9 185.6,290.1 185.7,285.9 185.7,290.5 185.8,283.9 185.8,289.8 185.9,287.9 185.9,284.7 186,287.7 186,289.1 186.1,286.8 186.1,287.1 186.2,284.9 186.3,285.8 186.3,290.6 186.4,287.6 186.4,290.9 186.5,285.3 186.5,285.7 186.6,289.5 186.6,291.1 186.7,286.7 186.7,287.4 186.8,284.4 186.8,285.7 186.9,288.6 186.9,291.2 187,287.6 187,282.8 187.1,286.1 187.1,286.7 187.2,289.2 187.3,286.2 187.3,288.6 187.4,288.9 187.4,288.3 187.5,289.1 187.5,288.3 187.6,285.8 187.6,288.6 187.7,285 187.7,287.9 187.8,287.2 187.8,287.6 187.9,290.6 187.9,286.5 188,288.7 188,284.8 188.1,284.4 188.1,286.3 188.2,285.3 188.3,284.6 188.3,287.9 188.4,284.1 188.4,286 188.5,284.8 188.5,285.5 188.6,289 188.6,289 188.7,289.8 188.7,283.8 188.8,288.5 188.8,288.8 188.9,289.9 188.9,286.4 189,285.7 189,284.8 189.1,289.2 189.2,287 189.2,286.3 189.3,286.4 189.3,286 189.4,288 189.4,284.5 189.5,282.7 189.5,289 189.6,286.1 189.6,285.3 189.7,286.5 189.7,287 189.8,286.8 189.8,287.7 189.9,284.1 189.9,289 190,288.1 190,288 190.1,287.2 190.2,289.2 190.2,289.3 190.3,285.3 190.3,291.8 190.4,290.5 190.4,284.9 190.5,288.8 190.5,289.4 190.6,289.8 190.6,290.2 190.7,286.1 190.7,284.1 190.8,288.2 190.8,287.1 190.9,286.2 190.9,290.5 191,290.9 191,287 191.1,286.5 191.2,286 191.2,283.4 191.3,288.1 191.3,285.9 191.4,286.9 191.4,285.7 191.5,282.9 191.5,288.3 191.6,290.6 191.6,282.4 191.7,286.7 191.7,286.5 191.8,284.5 191.8,283.9 191.9,288.2 191.9,286.4 192,285.5 192,290.4 192.1,290.1 192.2,288.3 192.2,288.8 192.3,284.1 192.3,289.1 192.4,286.4 192.4,290 192.5,289.5 192.5,287.9 192.6,289.3 192.6,290.2 192.7,283.4 192.7,284.8 192.8,286.3 192.8,286.1 192.9,287.1 192.9,286.9 193,286.9 193.1,288.6 193.1,289.7 193.2,287.4 193.2,283.7 193.3,283.3 193.3,286.8 193.4,284.4 193.4,285.3 193.5,284.8 193.5,284.8 193.6,284.7 193.6,290.3 193.7,287.7 193.7,281.3 193.8,285.7 193.8,288.5 193.9,287.1 193.9,284.6 194,287.8 194.1,292.5 194.1,284.3 194.2,285.9 194.2,283.6 194.3,289.3 194.3,288.3 194.4,287.8 194.4,288 194.5,285.5 194.5,287.7 194.6,288.4 194.6,285.8 194.7,289.5 194.7,285.1 194.8,287.8 194.8,286.7 194.9,291.6 194.9,282.3 195,288.3 195.1,284.3 195.1,287.5 195.2,284.8 195.2,284.2 195.3,284.6 195.3,289.7 195.4,290.9 195.4,284.6 195.5,288 195.5,287.8 195.6,282.5 195.6,288.7 195.7,286.8 195.7,289 195.8,284.4 195.8,285.8 195.9,286 195.9,283.3 196,284.9 196.1,287.3 196.1,288.5 196.2,282.5 196.2,289 196.3,284.9 196.3,286.4 196.4,288.9 196.4,282.7 196.5,288.4 196.5,290.2 196.6,285.7 196.6,289.6 196.7,287 196.7,288.6 196.8,289.6 196.8,289.4 196.9,290.2 196.9,289.5 197,285.2 197.1,285.6 197.1,284.4 197.2,287.7 197.2,284.3 197.3,284.9 197.3,288.3 197.4,285.7 197.4,290.2 197.5,285.9 197.5,289.7 197.6,284.8 197.6,284.2 197.7,288 197.7,282.4 197.8,283.9 197.8,289.1 197.9,283.1 198,283.6 198,282.8 198.1,285.4 198.1,286.7 198.2,284.1 198.2,283.6 198.3,287 198.3,284.5 198.4,287.9 198.4,285.7 198.5,283.5 198.5,288.5 198.6,286 198.6,284.2 198.7,288.8 198.7,284.1 198.8,286.8 198.8,287.1 198.9,286.6 199,284.2 199,287.8 199.1,287.1 199.1,284.1 199.2,285.3 199.2,283.3 199.3,286 199.3,285.5 199.4,284.2 199.4,287.2 199.5,285.5 199.5,287.7 199.6,284.2 199.6,287 199.7,288.5 199.7,288.7 199.8,285.4 199.8,284.3 199.9,287.1 200,286.7 200,287.8 200.1,288.6 200.1,285.9 200.2,283.3 200.2,283.5 200.3,281.1 200.3,288.9 200.4,289.9 200.4,283.7 200.5,284.1 200.5,285.3 200.6,287.7 200.6,287.2 200.7,284.4 200.7,282.9 200.8,284.3 200.8,286.9 200.9,287.3 201,287.2 201,284.3 201.1,284.6 201.1,284.4 201.2,285 201.2,285.9 201.3,286.2 201.3,286.4 201.4,286.4 201.4,282.8 201.5,288.4 201.5,282 201.6,284.6 201.6,283.7 201.7,286.2 201.7,284.4 201.8,287.8 201.8,283.9 201.9,282.6 202,286 202,284.2 202.1,287.6 202.1,285.4 202.2,286.3 202.2,285.8 202.3,285.3 202.3,284.8 202.4,288.4 202.4,288.2 202.5,284.3 202.5,286.7 202.6,281.1 202.6,285.9 202.7,285.1 202.7,286.9 202.8,282.4 202.9,284.6 202.9,283.4 203,284.4 203,286.7 203.1,285 203.1,284.2 203.2,287.9 203.2,285.4 203.3,283.4 203.3,283.2 203.4,286.2 203.4,282.5 203.5,287.5 203.5,284 203.6,283.5 203.6,288.4 203.7,286.8 203.7,283.6 203.8,283.4 203.9,283.5 203.9,284.5 204,284.8 204,283.6 204.1,287.4 204.1,284.3 204.2,284.9 204.2,282.6 204.3,282.7 204.3,287 204.4,282.3 204.4,285 204.5,285.2 204.5,282.4 204.6,288.3 204.6,283.2 204.7,282.3 204.7,287.3 204.8,285.1 204.9,283.7 204.9,286 205,286.5 205,282.3 205.1,284.5 205.1,282.6 205.2,281.5 205.2,286.1 205.3,282.5 205.3,285.3 205.4,282.6 205.4,284.1 205.5,287.9 205.5,287.4 205.6,281.2 205.6,287.4 205.7,287.8 205.7,287 205.8,286.2 205.9,283.5 205.9,288.3 206,281.9 206,287.1 206.1,282.5 206.1,286.3 206.2,285.7 206.2,287.5 206.3,282.7 206.3,288 206.4,281.8 206.4,281.1 206.5,289.2 206.5,283.2 206.6,281.1 206.6,284.2 206.7,286.6 206.7,283.8 206.8,286.7 206.9,285.9 206.9,285 207,283.2 207,281.7 207.1,286.7 207.1,284.7 207.2,286.8 207.2,286.9 207.3,286.6 207.3,285.3 207.4,287 207.4,282 207.5,284.4 207.5,285.3 207.6,284.5 207.6,283.6 207.7,286.2 207.8,283.6 207.8,283.2 207.9,285.1 207.9,284.2 208,287.2 208,282.5 208.1,281.4 208.1,281.2 208.2,286.8 208.2,286.4 208.3,282.3 208.3,283.2 208.4,281.2 208.4,287.4 208.5,287.3 208.5,283 208.6,287.5 208.6,282.5 208.7,282.6 208.8,284.8 208.8,282.3 208.9,284.2 208.9,287.8 209,281.6 209,285.1 209.1,283.8 209.1,281.5 209.2,287.8 209.2,281.2 209.3,286.4 209.3,285.4 209.4,284.1 209.4,283.8 209.5,283.4 209.5,281.6 209.6,283.5 209.6,281.2 209.7,283.5 209.8,286.4 209.8,282.3 209.9,283.8 209.9,286.7 210,285.7 210,284.7 210.1,283.5 210.1,286.8 210.2,284.2 210.2,287 210.3,284.3 210.3,283.4 210.4,280.4 210.4,285.8 210.5,283.1 210.5,284.7 210.6,281.6 210.6,285.4 210.7,283.9 210.8,285.4 210.8,282.5 210.9,284.5 210.9,286.6 211,282.4 211,283.3 211.1,284.4 211.1,283.3 211.2,281.6 211.2,284.1 211.3,286.5 211.3,285.2 211.4,281.2 211.4,287.1 211.5,281.4 211.5,284.6 211.6,283 211.6,283.2 211.7,281.8 211.8,285.8 211.8,283.1 211.9,284.1 211.9,283.1 212,280.9 212,282.4 212.1,283.4 212.1,283.5 212.2,280.6 212.2,282.8 212.3,282 212.3,285.2 212.4,284.1 212.4,284.9 212.5,281.9 212.5,284 212.6,284.7 212.7,280.6 212.7,283.9 212.8,287.4 212.8,283.3 212.9,282.8 212.9,281.3 213,283.3 213,286.8 213.1,281.2 213.1,285.9 213.2,282.6 213.2,284.3 213.3,283 213.3,285.1 213.4,283 213.4,283.4 213.5,287.1 213.5,283.4 213.6,280.6 213.7,283.7 213.7,284.3 213.8,283.6 213.8,281.8 213.9,285.7 213.9,285.4 214,283.3 214,283.6 214.1,284.3 214.1,286.9 214.2,281.8 214.2,283.3 214.3,287.3 214.3,280.2 214.4,280.8 214.4,284.3 214.5,280.8 214.5,280.2 214.6,285.2 214.7,281 214.7,282.5 214.8,285.7 214.8,285.2 214.9,281.3 214.9,284.1 215,282.9 215,279.9 215.1,284.1 215.1,286.4 215.2,282 215.2,284.5 215.3,281.6 215.3,281.2 215.4,283.2 215.4,281.7 215.5,286.7 215.5,285.6 215.6,283.8 215.7,281.9 215.7,280 215.8,285.3 215.8,278.8 215.9,279.7 215.9,285.6 216,283.1 216,282.5 216.1,282.6 216.1,282.8 216.2,284.1 216.2,280.8 216.3,281.2 216.3,281 216.4,284.8 216.4,281.5 216.5,282.7 216.6,283.7 216.6,285.3 216.7,282.4 216.7,282 216.8,286.4 216.8,281.8 216.9,283 216.9,284.5 217,284.1 217,286.3 217.1,285.5 217.1,283.9 217.2,285.6 217.2,285.4 217.3,286.2 217.3,284.2 217.4,283.9 217.4,281 217.5,283.8 217.6,281.6 217.6,282.7 217.7,285.7 217.7,281.3 217.8,280.6 217.8,284.3 217.9,283.3 217.9,283.5 218,282 218,283.1 218.1,282.5 218.1,281.5 218.2,282 218.2,282.5 218.3,282.3 218.3,286.8 218.4,283.3 218.4,286 218.5,283.3 218.6,280.1 218.6,280 218.7,285 218.7,285.8 218.8,285.5 218.8,283.8 218.9,286.1 218.9,283.1 219,281 219,285.9 219.1,283.8 219.1,285.3 219.2,283.6 219.2,282.9 219.3,282.8 219.3,284.3 219.4,284 219.4,285.3 219.5,283 219.6,284.9 219.6,280.9 219.7,285.4 219.7,284.4 219.8,281.4 219.8,285.1 219.9,286.2 219.9,282.7 220,284 220,281.8 220.1,283.1 220.1,279.2 220.2,281.8 220.2,283.6 220.3,285.1 220.3,285.1 220.4,283.6 220.4,279.8 220.5,285.4 220.6,280.9 220.6,282.5 220.7,283.1 220.7,282.3 220.8,282.1 220.8,282.7 220.9,281.9 220.9,283.4 221,282.7 221,283.4 221.1,282.6 221.1,280.1 221.2,284 221.2,282.9 221.3,284.5 221.3,279.8 221.4,282 221.5,285.8 221.5,281.8 221.6,283.8 221.6,281.9 221.7,285.8 221.7,282.4 221.8,280 221.8,281.6 221.9,283.8 221.9,285.1 222,282.5 222,284.2 222.1,285 222.1,282.5 222.2,282.9 222.2,278.3 222.3,281.7 222.3,281.2 222.4,280.7 222.5,283.5 222.5,284.1 222.6,285.9 222.6,281.1 222.7,283.9 222.7,282.2 222.8,279.8 222.8,284.6 222.9,285.3 222.9,282.7 223,284.6 223,285.7 223.1,285.5 223.1,284.6 223.2,285.8 223.2,283.6 223.3,285.8 223.3,279.8 223.4,284.3 223.5,279.6 223.5,282.9 223.6,280 223.6,282.7 223.7,284.1 223.7,280.1 223.8,280.9 223.8,279.6 223.9,282.6 223.9,279.3 224,280.6 224,283.2 224.1,283.7 224.1,278.9 224.2,281.6 224.2,283.8 224.3,281.1 224.3,280.8 224.4,284.3 224.5,282.9 224.5,282.4 224.6,285.4 224.6,281.5 224.7,282.3 224.7,278.9 224.8,280.2 224.8,280.9 224.9,281.8 224.9,283.9 225,280.8 225,284.5 225.1,285.1 225.1,281.3 225.2,279.5 225.2,282 225.3,281 225.3,282.5 225.4,283.6 225.5,282.4 225.5,284.2 225.6,282.7 225.6,284.1 225.7,282.9 225.7,283 225.8,284.8 225.8,282.8 225.9,284.1 225.9,285.2 226,284.5 226,282.6 226.1,283.4 226.1,283.4 226.2,282.4 226.2,279 226.3,281.3 226.4,283.7 226.4,283.3 226.5,279.3 226.5,285.2 226.6,283.9 226.6,281.4 226.7,277.5 226.7,284 226.8,281.2 226.8,283 226.9,282.7 226.9,279.3 227,280.3 227,282.8 227.1,283.1 227.1,283.4 227.2,281.2 227.2,282.6 227.3,281.5 227.4,286 227.4,280.9 227.5,283 227.5,284.1 227.6,280.4 227.6,279.5 227.7,282.7 227.7,281.5 227.8,284.5 227.8,282.2 227.9,283.9 227.9,279.6 228,281.1 228,284.6 228.1,280.8 228.1,278.4 228.2,278.5 228.2,281.5 228.3,284.9 228.4,282.5 228.4,281.1 228.5,282.4 228.5,284.8 228.6,284.6 228.6,282.8 228.7,279.6 228.7,278.6 228.8,285.9 228.8,279.3 228.9,280.7 228.9,279.1 229,280.3 229,281.3 229.1,278.6 229.1,279.3 229.2,283.8 229.2,282.5 229.3,283.2 229.4,281.6 229.4,283.4 229.5,283.7 229.5,283.2 229.6,278.6 229.6,283.6 229.7,283.6 229.7,282.1 229.8,278.1 229.8,278.3 229.9,281.3 229.9,283 230,279.1 230,280.7 230.1,282.5 230.1,282.2 230.2,284.7 230.2,282.3 230.3,281.4 230.4,281.1 230.4,280.5 230.5,280.5 230.5,278.3 230.6,283.5 230.6,282.7 230.7,284.3 230.7,278 230.8,283.3 230.8,282.4 230.9,280.3 230.9,280.7 231,281.4 231,279.6 231.1,282.8 231.1,284.2 231.2,277.5 231.3,276.2 231.3,279.9 231.4,280.4 231.4,284.2 231.5,283.8 231.5,280.1 231.6,282.7 231.6,282 231.7,281.1 231.7,279.8 231.8,279.3 231.8,278.8 231.9,280.4 231.9,284.1 232,282.6 232,280.1 232.1,282.6 232.1,283.5 232.2,278.5 232.3,280.3 232.3,280.2 232.4,282.6 232.4,281.8 232.5,277.8 232.5,281.5 232.6,282.8 232.6,279.8 232.7,277 232.7,279.6 232.8,280.5 232.8,280.2 232.9,278.6 232.9,279.4 233,281.3 233,279.2 233.1,280.8 233.1,280.9 233.2,277.8 233.3,279.4 233.3,278.6 233.4,283.1 233.4,279.6 233.5,277.1 233.5,279.2 233.6,281.5 233.6,279.4 233.7,282.7 233.7,283.5 233.8,281.2 233.8,279.5 233.9,279.2 233.9,281.4 234,278.4 234,279.1 234.1,283 234.1,277.7 234.2,280.3 234.3,280.6 234.3,280.5 234.4,282.6 234.4,281.2 234.5,279 234.5,283.2 234.6,282.7 234.6,281.9 234.7,279.4 234.7,279.1 234.8,281.2 234.8,283.4 234.9,281 234.9,282.3 235,282 235,283.5 235.1,281.1 235.1,278.8 235.2,281.1 235.3,281 235.3,284.3 235.4,279.8 235.4,278.4 235.5,283.3 235.5,280.5 235.6,277.4 235.6,277.6 235.7,284.1 235.7,280 235.8,279.6 235.8,280.5 235.9,278.6 235.9,279.7 236,281.7 236,277.3 236.1,281.3 236.2,281.2 236.2,279.9 236.3,277.9 236.3,278.5 236.4,281.4 236.4,279.3 236.5,278 236.5,280.2 236.6,280.3 236.6,281.3 236.7,281 236.7,283 236.8,278.8 236.8,280 236.9,283.9 236.9,281.9 237,280.9 237,282.6 237.1,280.3 237.2,277.8 237.2,280.7 237.3,280 237.3,280.6 237.4,281.7 237.4,280.5 237.5,283.8 237.5,279.4 237.6,281 237.6,281.7 237.7,279.3 237.7,280.8 237.8,277.7 237.8,282.3 237.9,278.6 237.9,285.7 238,281 238,278.5 238.1,279 238.2,278.6 238.2,281.8 238.3,277.4 238.3,282.6 238.4,277.8 238.4,280 238.5,283 238.5,283.6 238.6,278.4 238.6,283.3 238.7,279.3 238.7,280.3 238.8,279.7 238.8,281.8 238.9,282 238.9,279.4 239,279.1 239,283.3 239.1,278.1 239.2,282.6 239.2,279.2 239.3,278.6 239.3,282.4 239.4,277.6 239.4,280.9 239.5,277.7 239.5,282.5 239.6,280 239.6,283 239.7,279.6 239.7,280.8 239.8,278.1 239.8,283.7 239.9,278.7 239.9,279.3 240,281.2 240.1,283 240.1,281.5 240.2,281.5 240.2,280.3 240.3,280.5 240.3,281.3 240.4,279.9 240.4,280.4 240.5,276.7 240.5,278.3 240.6,278.9 240.6,279.2 240.7,277 240.7,276 240.8,283.3 240.8,275.4 240.9,278.6 240.9,282.7 241,278.9 241.1,279.9 241.1,279.8 241.2,281.8 241.2,278.8 241.3,280.3 241.3,278.9 241.4,281.2 241.4,280.5 241.5,277.3 241.5,276.8 241.6,277.3 241.6,281.5 241.7,280.7 241.7,283.4 241.8,283.1 241.8,279.4 241.9,279.9 241.9,279.6 242,277.8 242.1,283.7 242.1,282.5 242.2,282.4 242.2,278.5 242.3,279.8 242.3,277.6 242.4,279.2 242.4,281.2 242.5,277 242.5,281.4 242.6,282.1 242.6,281.9 242.7,281 242.7,282.2 242.8,280.1 242.8,279.1 242.9,282.7 242.9,278 243,278 243.1,281.6 243.1,282.6 243.2,281.4 243.2,276.5 243.3,276.7 243.3,279.7 243.4,280.4 243.4,278.3 243.5,279.7 243.5,280.4 243.6,278.3 243.6,277.9 243.7,280.9 243.7,282.7 243.8,279.2 243.8,278.2 243.9,276.9 243.9,280.6 244,281.9 244.1,279.5 244.1,281.3 244.2,276.5 244.2,277.2 244.3,278.5 244.3,276.6 244.4,279 244.4,279.5 244.5,276.5 244.5,280.3 244.6,281.2 244.6,281.5 244.7,280.6 244.7,278.1 244.8,280.8 244.8,277.8 244.9,280.4 245,281.2 245,283.4 245.1,282.2 245.1,279.3 245.2,278.3 245.2,279.7 245.3,277.8 245.3,280.8 245.4,282.8 245.4,278 245.5,278.2 245.5,279.8 245.6,279.3 245.6,276.9 245.7,280.9 245.7,277.2 245.8,281.4 245.8,278.4 245.9,279.7 246,279.1 246,280 246.1,283.8 246.1,280.3 246.2,278.1 246.2,279.9 246.3,276.5 246.3,280 246.4,278.5 246.4,279.4 246.5,279.7 246.5,281.7 246.6,279.4 246.6,279 246.7,280 246.7,277.6 246.8,282 246.8,282.4 246.9,281 247,280.1 247,278.9 247.1,278.5 247.1,276.5 247.2,282.6 247.2,277 247.3,282.2 247.3,276.9 247.4,278.4 247.4,279.6 247.5,280 247.5,279.7 247.6,280.2 247.6,280.7 247.7,281.9 247.7,276.6 247.8,280 247.8,282 247.9,281.6 248,277.3 248,280 248.1,276.3 248.1,279.6 248.2,275.1 248.2,280.6 248.3,280.6 248.3,283 248.4,280.3 248.4,279.1 248.5,280.2 248.5,277 248.6,280.9 248.6,276.6 248.7,279.7 248.7,277.6 248.8,280.3 248.8,281 248.9,280.9 249,281.1 249,281.3 249.1,282.1 249.1,281.3 249.2,275.9 249.2,279.7 249.3,280.9 249.3,282.4 249.4,278.4 249.4,281.2 249.5,282.8 249.5,279.1 249.6,277.6 249.6,276.2 249.7,276.4 249.7,276 249.8,278.3 249.9,281.8 249.9,280.7 250,279 250,276.9 250.1,278 250.1,282 250.2,279.9 250.2,273.8 250.3,280.2 250.3,281.6 250.4,277.9 250.4,281 250.5,277 250.5,279 250.6,277.6 250.6,277.4 250.7,278 250.7,279.4 250.8,278.7 250.9,278 250.9,277.2 251,278.8 251,275.7 251.1,279.9 251.1,277.9 251.2,276.6 251.2,279.7 251.3,276.9 251.3,280.2 251.4,278.4 251.4,280.1 251.5,279.8 251.5,279.6 251.6,278.2 251.6,281.4 251.7,278.3 251.7,278.1 251.8,277.9 251.9,280.8 251.9,280.2 252,277.2 252,280.6 252.1,277.6 252.1,280.8 252.2,276.1 252.2,281.4 252.3,278.2 252.3,278 252.4,279.1 252.4,281 252.5,278.4 252.5,279.6 252.6,277 252.6,279.6 252.7,279.1 252.7,277.4 252.8,278.2 252.9,277.8 252.9,278.2 253,276.7 253,278.6 253.1,276.7 253.1,278.8 253.2,276.4 253.2,277.9 253.3,281.6 253.3,278.6 253.4,281.5 253.4,275.4 253.5,278 253.5,275.9 253.6,277.5 253.6,279.9 253.7,279.2 253.7,281.2 253.8,276.1 253.9,277.3 253.9,278.2 254,277 254,277.2 254.1,279.1 254.1,279.4 254.2,279.6 254.2,278.5 254.3,275.5 254.3,278.1 254.4,277.5 254.4,280.6 254.5,276.8 254.5,277.5 254.6,278.3 254.6,276.9 254.7,278.1 254.8,275.3 254.8,280.7 254.9,278.5 254.9,281.1 255,280 255,277.5 255.1,276.5 255.1,278 255.2,280.5 255.2,279.3 255.3,277.4 255.3,279.8 255.4,280.1 255.4,273.3 255.5,276.6 255.5,277.8 255.6,279 255.6,279.6 255.7,277.4 255.8,277 255.8,280.1 255.9,278.1 255.9,280.2 256,279.7 256,280.1 256.1,274.5 256.1,278.2 256.2,279.8 256.2,280.8 256.3,279.3 256.3,278.6 256.4,275.5 256.4,280.4 256.5,279.5 256.5,280.3 256.6,279.1 256.6,277.4 256.7,277.3 256.8,276.4 256.8,277.5 256.9,275.9 256.9,280.4 257,276.4 257,279.9 257.1,279.8 257.1,277.3 257.2,275.2 257.2,280 257.3,275.7 257.3,277.5 257.4,276.1 257.4,278.9 257.5,280.6 257.5,276.6 257.6,278 257.6,278 257.7,275.4 257.8,275.6 257.8,275.8 257.9,275.6 257.9,278 258,276.5 258,279.8 258.1,280.2 258.1,275.7 258.2,275 258.2,275 258.3,276.8 258.3,279.5 258.4,278.7 258.4,275.7 258.5,277.4 258.5,277.8 258.6,275.3 258.6,277.1 258.7,273.3 258.8,281.1 258.8,279.7 258.9,277.4 258.9,280.1 259,275.3 259,279.1 259.1,277.1 259.1,279.2 259.2,276.8 259.2,278.2 259.3,278.6 259.3,279.4 259.4,278.5 259.4,274.8 259.5,276.5 259.5,278.7 259.6,277.9 259.7,275.6 259.7,277.4 259.8,280.1 259.8,280.6 259.9,274.8 259.9,276.7 260,277.3 260,277.9 260.1,274.8 260.1,276.1 260.2,276.3 260.2,278.2 260.3,274.8 260.3,274.8 260.4,276.9 260.4,278.9 260.5,274.7 260.5,275.8 260.6,280 260.7,279.4 260.7,273.8 260.8,277.6 260.8,275.9 260.9,276.9 260.9,276.1 261,274.6 261,276.1 261.1,276.4 261.1,276.3 261.2,278.6 261.2,276.8 261.3,275.9 261.3,277.7 261.4,276.9 261.4,273.3 261.5,279 261.5,280.2 261.6,277.3 261.7,276.5 261.7,275 261.8,275.1 261.8,274.1 261.9,278 261.9,279.3 262,277.3 262,279.6 262.1,275.7 262.1,276.6 262.2,274.4 262.2,273.9 262.3,277.5 262.3,274.5 262.4,279.9 262.4,276 262.5,276.6 262.5,275.3 262.6,279.1 262.7,277.5 262.7,275.8 262.8,276.9 262.8,275.4 262.9,278.3 262.9,279.1 263,276.4 263,277 263.1,278 263.1,275.8 263.2,275.6 263.2,279 263.3,278.7 263.3,278.5 263.4,279.8 263.4,274.7 263.5,275.4 263.6,277.2 263.6,279.7 263.7,278.4 263.7,276.2 263.8,276.6 263.8,277.4 263.9,279.3 263.9,276.6 264,275.2 264,275.7 264.1,275.9 264.1,277.8 264.2,275.5 264.2,275.1 264.3,278.4 264.3,278.9 264.4,276.9 264.4,275.5 264.5,279.7 264.6,277.9 264.6,276.5 264.7,277.2 264.7,272.5 264.8,279.3 264.8,274.2 264.9,277.6 264.9,274.7 265,278.4 265,275.8 265.1,276.3 265.1,279.3 265.2,278.4 265.2,274.3 265.3,278.6 265.3,277 265.4,276.7 265.4,279.6 265.5,275.5 265.6,274.7 265.6,275.1 265.7,276.3 265.7,277.5 265.8,277.9 265.8,278.7 265.9,277 265.9,276.2 266,274.9 266,277.3 266.1,275.3 266.1,275.8 266.2,277.7 266.2,277.6 266.3,273.8 266.3,276.9 266.4,276.9 266.4,275.7 266.5,275.9 266.6,277.1 266.6,278.1 266.7,278.1 266.7,275.2 266.8,276.6 266.8,275 266.9,274.9 266.9,274.4 267,276.6 267,274.3 267.1,273.7 267.1,278.8 267.2,275.8 267.2,277.7 267.3,278.5 267.3,277 267.4,276.6 267.4,278.6 267.5,274.3 267.6,277.2 267.6,277.7 267.7,273.6 267.7,275.8 267.8,274.9 267.8,277.8 267.9,277.6 267.9,276.1 268,277 268,278.3 268.1,278.5 268.1,276.1 268.2,274.4 268.2,278.3 268.3,277.2 268.3,277.8 268.4,276.2 268.5,275 268.5,273.3 268.6,275 268.6,277.3 268.7,277.5 268.7,278.8 268.8,274.4 268.8,275.3 268.9,278.5 268.9,278.1 269,272.2 269,277.8 269.1,276 269.1,275.3 269.2,275.8 269.2,278 269.3,275.5 269.3,276.7 269.4,276.6 269.5,274.2 269.5,276.8 269.6,273.9 269.6,276 269.7,277.6 269.7,274.5 269.8,278.8 269.8,274.2 269.9,273.2 269.9,276.7 270,275 270,274.3 270.1,275.1 270.1,273.7 270.2,272.6 270.2,276.5 270.3,275.6 270.3,276.6 270.4,276.9 270.5,273.2 270.5,272.9 270.6,275.1 270.6,276.3 270.7,275.3 270.7,278.7 270.8,274.2 270.8,273.7 270.9,275.6 270.9,275.9 271,278.1 271,273 271.1,275.9 271.1,272.9 271.2,278.6 271.2,275 271.3,275.2 271.3,276.1 271.4,275.5 271.5,276.2 271.5,274.5 271.6,272.9 271.6,275.3 271.7,274.3 271.7,274.7 271.8,277.1 271.8,276 271.9,277.7 271.9,275.3 272,275.2 272,274.7 272.1,278.4 272.1,272.8 272.2,277.1 272.2,275.8 272.3,277.9 272.3,275.8 272.4,277.9 272.5,276.7 272.5,277.6 272.6,276.3 272.6,273.2 272.7,274.9 272.7,278.2 272.8,275 272.8,275.6 272.9,276.7 272.9,277.2 273,274.1 273,277.4 273.1,273.7 273.1,274 273.2,272.7 273.2,276.8 273.3,277.6 273.4,276.5 273.4,274.1 273.5,274.6 273.5,275.3 273.6,275.4 273.6,276.6 273.7,274.5 273.7,274.7 273.8,277.4 273.8,275 273.9,274.4 273.9,278.1 274,276.3 274,273.2 274.1,275.9 274.1,275 274.2,274.8 274.2,277.1 274.3,279.2 274.4,276 274.4,276.3 274.5,275.5 274.5,277.2 274.6,274.2 274.6,276.1 274.7,275.8 274.7,276 274.8,273.8 274.8,273.6 274.9,272.5 274.9,274.5 275,272.5 275,277.7 275.1,274.7 275.1,274.7 275.2,272.4 275.2,274.2 275.3,272.7 275.4,275.2 275.4,275.1 275.5,273.1 275.5,276.3 275.6,271.5 275.6,272.9 275.7,276.5 275.7,274.9 275.8,274.9 275.8,275.4 275.9,273.1 275.9,272.1 276,277.3 276,273.9 276.1,275.6 276.1,273.6 276.2,275.4 276.2,272.6 276.3,272.5 276.4,273.1 276.4,273.7 276.5,272.1 276.5,274.2 276.6,275.4 276.6,277.1 276.7,276.2 276.7,272.7 276.8,275.8 276.8,276.8 276.9,276.1 276.9,273.3 277,277.4 277,271.8 277.1,273.9 277.1,276.7 277.2,275.2 277.2,273.1 277.3,276.1 277.4,275.7 277.4,272.8 277.5,273.5 277.5,275.9 277.6,275.1 277.6,275.7 277.7,273.9 277.7,274.5 277.8,272.7 277.8,275.3 277.9,276.3 277.9,274.7 278,272.5 278,274.9 278.1,275.2 278.1,273.5 278.2,274.9 278.3,273 278.3,274.5 278.4,273.4 278.4,277.8 278.5,276.3 278.5,274.8 278.6,272.6 278.6,275.9 278.7,275.4 278.7,272.3 278.8,274.8 278.8,271.7 278.9,271.7 278.9,274.4 279,272.4 279,272.1 279.1,272.9 279.1,272.9 279.2,273.5 279.3,271.9 279.3,274.1 279.4,274.7 279.4,274.4 279.5,276.5 279.5,276.1 279.6,276.4 279.6,272.3 279.7,274.1 279.7,271.7 279.8,275.6 279.8,274.2 279.9,276 279.9,272.1 280,273.6 280,274 280.1,270.8 280.1,273.3 280.2,273.2 280.3,277.5 280.3,276.4 280.4,275.1 280.4,271.4 280.5,275.3 280.5,275.9 280.6,275.1 280.6,275.2 280.7,271.7 280.7,274 280.8,272.6 280.8,275.2 280.9,273.9 280.9,274.6 281,273.8 281,276.5 281.1,274.4 281.1,271.8 281.2,272.7 281.3,272.7 281.3,274.4 281.4,273.2 281.4,275.5 281.5,274.1 281.5,272.8 281.6,273.9 281.6,273 281.7,273.7 281.7,275.5 281.8,272.3 281.8,275.9 281.9,270.9 281.9,272.5 282,271.1 282,273.1 282.1,272.4 282.1,272.9 282.2,275.3 282.3,272 282.3,271.8 282.4,275.1 282.4,273.8 282.5,273.4 282.5,271.4 282.6,274.8 282.6,274.5 282.7,273.7 282.7,275.1 282.8,273.5 282.8,276 282.9,274.1 282.9,272 283,275.5 283,273.2 283.1,274.6 283.2,271.6 283.2,274.1 283.3,271.5 283.3,275.8 283.4,274.2 283.4,273.9 283.5,275.2 283.5,274.1 283.6,274.7 283.6,274.7 283.7,272.1 283.7,275.1 283.8,273.2 283.8,273.1 283.9,274.8 283.9,277.6 284,273.8 284,270.7 284.1,275.2 284.2,273.6 284.2,271.8 284.3,270.5 284.3,270.5 284.4,270.9 284.4,271.7 284.5,273.2 284.5,271.5 284.6,274.6 284.6,271.9 284.7,272.6 284.7,274 284.8,274.1 284.8,273.1 284.9,271.4 284.9,271.9 285,272.9 285,276.4 285.1,271.9 285.2,274.1 285.2,270.4 285.3,275.1 285.3,271.4 285.4,273.2 285.4,272 285.5,274.2 285.5,270.6 285.6,272.3 285.6,274.2 285.7,272.3 285.7,270.7 285.8,274.3 285.8,274.9 285.9,272 285.9,273.4 286,275.1 286,272.3 286.1,273.4 286.2,268.4 286.2,270.6 286.3,271.6 286.3,272.1 286.4,273.9 286.4,270.5 286.5,272.5 286.5,273.1 286.6,274 286.6,273 286.7,273.1 286.7,274.8 286.8,272.7 286.8,272.2 286.9,269.4 286.9,273.1 287,269.9 287.1,273.6 287.1,275 287.2,273.3 287.2,273.8 287.3,269.8 287.3,271.3 287.4,273.7 287.4,275.4 287.5,273.8 287.5,270.5 287.6,273.7 287.6,270.4 287.7,271 287.7,270.1 287.8,274.6 287.8,271.8 287.9,273.5 287.9,272.2 288,274.5 288.1,270.8 288.1,271.1 288.2,273.4 288.2,272.4 288.3,274.6 288.3,270.5 288.4,271.2 288.4,273.5 288.5,270.4 288.5,273.6 288.6,270.5 288.6,274.9 288.7,269.5 288.7,271.6 288.8,270.6 288.8,270 288.9,272.3 288.9,270.2 289,272.4 289.1,270 289.1,273.5 289.2,267.9 289.2,272.5 289.3,271.9 289.3,271.8 289.4,271 289.4,270.6 289.5,271.1 289.5,270.6 289.6,269.9 289.6,270.6 289.7,270.4 289.7,270.9 289.8,270 289.8,270.9 289.9,269.5 289.9,269.8 290,273.9 290.1,273.7 290.1,271.6 290.2,272.9 290.2,270.1 290.3,270.5 290.3,272.2 290.4,271.4 290.4,269.8 290.5,273.2 290.5,272.6 290.6,271.3 290.6,271.9 290.7,269.1 290.7,269.8 290.8,273.2 290.8,269.1 290.9,273.2 290.9,270.3 291,273.3 291.1,270.4 291.1,268.8 291.2,270.9 291.2,273.5 291.3,270.8 291.3,273.6 291.4,269.5 291.4,269.4 291.5,269.5 291.5,273.6 291.6,272.3 291.6,270.4 291.7,272.4 291.7,268.5 291.8,270.2 291.8,272.9 291.9,269.7 292,271 292,271.1 292.1,272.1 292.1,267.5 292.2,271.9 292.2,268 292.3,272.4 292.3,270.5 292.4,272.1 292.4,274.8 292.5,270.6 292.5,269.2 292.6,274 292.6,270.3 292.7,272.5 292.7,272.9 292.8,266.6 292.8,271 292.9,272.6 293,272.1 293,267.8 293.1,268.4 293.1,269.4 293.2,270.8 293.2,272.2 293.3,268.4 293.3,271.5 293.4,270.2 293.4,273.3 293.5,270.2 293.5,269.1 293.6,273.1 293.6,268.7 293.7,272.8 293.7,271.1 293.8,272.9 293.8,267.3 293.9,270.5 294,270.4 294,269.8 294.1,269.6 294.1,271 294.2,270.7 294.2,269.8 294.3,270.6 294.3,272.4 294.4,268.9 294.4,272 294.5,272.1 294.5,269.5 294.6,272.5 294.6,270.3 294.7,272.2 294.7,271.9 294.8,270.8 294.8,270 294.9,269.4 295,272.5 295,269.4 295.1,273 295.1,269.3 295.2,271.7 295.2,272.9 295.3,269.6 295.3,271 295.4,267.9 295.4,270.4 295.5,270.6 295.5,270.6 295.6,268.2 295.6,267.8 295.7,267.7 295.7,270.7 295.8,271.6 295.8,272.3 295.9,272.6 296,271.5 296,268.8 296.1,267.9 296.1,270.5 296.2,269.7 296.2,269.6 296.3,268.1 296.3,268.9 296.4,272.1 296.4,271.2 296.5,268.1 296.5,268.8 296.6,268.4 296.6,272.6 296.7,269.4 296.7,268.3 296.8,271.6 296.9,270.1 296.9,267.7 297,270.7 297,267.5 297.1,269.7 297.1,271 297.2,267.2 297.2,268.4 297.3,269.9 297.3,269 297.4,271.4 297.4,268.6 297.5,269.4 297.5,268.5 297.6,269.2 297.6,270 297.7,269.2 297.7,268.7 297.8,268 297.9,270.6 297.9,271.9 298,268.5 298,271.4 298.1,270.6 298.1,268.6 298.2,271.5 298.2,271.4 298.3,270.9 298.3,268.7 298.4,267.7 298.4,267.8 298.5,270.3 298.5,267.7 298.6,267.8 298.6,268.4 298.7,268.3 298.7,270.5 298.8,269.8 298.9,270.8 298.9,269.4 299,269.2 299,270.5 299.1,271.9 299.1,270.8 299.2,270.4 299.2,267.4 299.3,270.1 299.3,270.2 299.4,267.4 299.4,269.9 299.5,270.8 299.5,269.1 299.6,271.2 299.6,268.9 299.7,270.4 299.7,269.3 299.8,268.4 299.9,269.6 299.9,267.6 300,270.4 300,270.7 300.1,268.6 300.1,269.5 300.2,271.3 300.2,266.6 300.3,269.1 300.3,266.9 300.4,270.1 300.4,266.8 300.5,268 300.5,269.9 300.6,270.1 300.6,267.7 300.7,270.8 300.7,269.5 300.8,271.1 300.9,268.3 300.9,267.9 301,270.1 301,269.3 301.1,270 301.1,271.3 301.2,268.3 301.2,267 301.3,266.6 301.3,268.6 301.4,271.6 301.4,267.1 301.5,271.3 301.5,267.8 301.6,269.4 301.6,270.6 301.7,268 301.8,265.9 301.8,270 301.9,268.4 301.9,267.1 302,266.8 302,269.3 302.1,268.4 302.1,268.9 302.2,268.2 302.2,268.1 302.3,268.2 302.3,270.6 302.4,268.5 302.4,268.2 302.5,268.4 302.5,268.1 302.6,268.1 302.6,269.2 302.7,269.6 302.8,269.6 302.8,270.2 302.9,269.3 302.9,265.9 303,267 303,268.5 303.1,270.5 303.1,266.1 303.2,270.1 303.2,269.3 303.3,268.4 303.3,267.8 303.4,268.5 303.4,269.3 303.5,269.7 303.5,270.4 303.6,267.6 303.6,268 303.7,266.5 303.8,265.8 303.8,270.2 303.9,268.4 303.9,266.3 304,269.1 304,266.9 304.1,268 304.1,269.5 304.2,267.7 304.2,266.7 304.3,268.4 304.3,268.8 304.4,268.8 304.4,266.2 304.5,267.4 304.5,266.4 304.6,266 304.6,267.1 304.7,265.6 304.8,267.6 304.8,267.7 304.9,269.9 304.9,268 305,265.9 305,270.4 305.1,269.1 305.1,268.8 305.2,265.9 305.2,268.3 305.3,266.3 305.3,267.4 305.4,267.1 305.4,267.9 305.5,269.4 305.5,269.4 305.6,269 305.6,269.6 305.7,270.1 305.8,266.3 305.8,267.5 305.9,270.9 305.9,268.4 306,267.2 306,268.9 306.1,267.9 306.1,266 306.2,267.4 306.2,268.2 306.3,268.5 306.3,266.8 306.4,269.3 306.4,265.3 306.5,267.7 306.5,266.4 306.6,269.2 306.7,267.5 306.7,268.2 306.8,266.7 306.8,268.5 306.9,268.5 306.9,266.5 307,267.1 307,265.3 307.1,269.8 307.1,266.5 307.2,265.5 307.2,267.9 307.3,266.7 307.3,265.7 307.4,268.1 307.4,266.7 307.5,267.6 307.5,265.7 307.6,265.3 307.7,266.5 307.7,266.4 307.8,267.6 307.8,267.7 307.9,265.6 307.9,267.9 308,266 308,266.2 308.1,268.2 308.1,265.9 308.2,267.7 308.2,267.6 308.3,266.8 308.3,267.6 308.4,265 308.4,266.1 308.5,267.2 308.5,265.6 308.6,265.5 308.7,265 308.7,266 308.8,266.5 308.8,268.9 308.9,268.4 308.9,264.3 309,265.7 309,267.3 309.1,264.4 309.1,268.9 309.2,266.3 309.2,266.6 309.3,268 309.3,266 309.4,265 309.4,264.1 309.5,266.6 309.5,267 309.6,265.9 309.7,266.5 309.7,266.7 309.8,266.3 309.8,265.3 309.9,263.8 309.9,267.2 310,265.1 310,266.1 310.1,264.4 310.1,265.7 310.2,267.3 310.2,265.3 310.3,267.4 310.3,263.9 310.4,264.1 310.4,267.5 310.5,267.9 310.6,268.1 310.6,264.7 310.7,265.8 310.7,265.5 310.8,262.9 310.8,268.1 310.9,265.3 310.9,267.7 311,267.9 311,265 311.1,267.4 311.1,265.4 311.2,266.3 311.2,265.1 311.3,269.5 311.3,265.9 311.4,265 311.4,264.8 311.5,265.9 311.6,267.4 311.6,265.7 311.7,264.7 311.7,263.9 311.8,267 311.8,266.1 311.9,264 311.9,266.9 312,267.6 312,265.8 312.1,264.7 312.1,266.7 312.2,267.3 312.2,262.9 312.3,265.6 312.3,268.9 312.4,266.8 312.4,264.9 312.5,265.4 312.6,262.7 312.6,268.9 312.7,264.8 312.7,264.7 312.8,264.6 312.8,263.1 312.9,267.2 312.9,264.7 313,265.7 313,265.7 313.1,265.3 313.1,266 313.2,265.9 313.2,264.6 313.3,262.5 313.3,266.1 313.4,266 313.4,263.7 313.5,264.8 313.6,265.5 313.6,265.4 313.7,262.7 313.7,264 313.8,262.5 313.8,265.7 313.9,264.3 313.9,264.5 314,264.2 314,267.3 314.1,265 314.1,264 314.2,263.2 314.2,265.5 314.3,263.3 314.3,265.5 314.4,265 314.4,262.2 314.5,263.1 314.6,263.3 314.6,264 314.7,265.1 314.7,265.5 314.8,265.4 314.8,264 314.9,262.2 314.9,263.1 315,266.3 315,263.9 315.1,262.4 315.1,266.5 315.2,263.1 315.2,265.8 315.3,263.2 315.3,263.7 315.4,263.6 315.5,264.5 315.5,263.2 315.6,263.2 315.6,264.1 315.7,263.8 315.7,262 315.8,263.1 315.8,265.7 315.9,265.3 315.9,264.6 316,260.7 316,264.7 316.1,261.5 316.1,262 316.2,265.3 316.2,264.2 316.3,264.7 316.3,265.1 316.4,264.3 316.5,262.3 316.5,264.4 316.6,262.5 316.6,260.8 316.7,262.5 316.7,264.5 316.8,264 316.8,263.8 316.9,266 316.9,264.9 317,261.8 317,265.6 317.1,263.5 317.1,263.6 317.2,265.5 317.2,262.7 317.3,263.1 317.3,264.9 317.4,261.9 317.5,263.9 317.5,264.4 317.6,262.4 317.6,261.3 317.7,262.2 317.7,263.4 317.8,261.5 317.8,263.7 317.9,262.1 317.9,265.2 318,262.9 318,261.7 318.1,264 318.1,263.7 318.2,263.4 318.2,265.1 318.3,263.4 318.3,262.7 318.4,263.4 318.5,263.5 318.5,264.2 318.6,263.1 318.6,265 318.7,263.7 318.7,263.3 318.8,261 318.8,261.4 318.9,262.7 318.9,263.3 319,263.9 319,260.9 319.1,263.5 319.1,263.4 319.2,262 319.2,262.9 319.3,262.3 319.3,261 319.4,260.7 319.5,263.4 319.5,264 319.6,264 319.6,264.1 319.7,264.2 319.7,264 319.8,261.3 319.8,263.7 319.9,264.1 319.9,263.2 320,263.4 320,263.9 320.1,260.5 320.1,260.4 320.2,262.1 320.2,263.5 320.3,261.9 320.4,260.6 320.4,263.1 320.5,261.5 320.5,261.3 320.6,261.1 320.6,261.6 320.7,260.4 320.7,262.5 320.8,261 320.8,262.1 320.9,260.2 320.9,260 321,260.6 321,262.4 321.1,260.2 321.1,261.6 321.2,259.8 321.2,262.1 321.3,259.9 321.4,261.1 321.4,259 321.5,258.8 321.5,260.5 321.6,260.3 321.6,259.4 321.7,259.1 321.7,259.8 321.8,260.2 321.8,257.8 321.9,260.4 321.9,258.5 322,259.6 322,260.2 322.1,256.5 322.1,258.1 322.2,259.1 322.2,259.2 322.3,259.4"/>
<path d="M58.95,431.00 L58.95,430.99 L58.95,430.94 L58.95,430.80 L58.95,430.53 L58.95,430.08 L58.96,429.41 L58.96,428.49 L58.96,427.26 L58.97,425.70 L58.98,423.78 L58.99,421.47 L59.00,418.77 L59.01,415.68 L59.03,412.25 L59.05,408.55 L59.07,404.70 L59.09,400.91 L59.12,397.26 L59.15,393.46 L59.18,389.60 L59.22,385.85 L59.26,382.45 L59.31,379.72 L59.35,377.53 L59.41,375.60 L59.46,373.87 L59.53,372.17 L59.59,370.27 L59.61,369.68 L59.66,367.90 L59.74,365.20 L59.82,362.48 L59.91,360.17 L60.00,358.69 L60.10,357.44 L60.20,356.29 L60.27,355.63 L60.31,355.24 L60.43,354.28 L60.55,353.40 L60.68,352.55 L60.82,351.71 L60.93,351.01 L60.96,350.80 L61.11,349.88 L61.27,348.97 L61.44,348.07 L61.59,347.29 L61.61,347.18 L61.79,346.30 L61.98,345.44 L62.18,344.58 L62.25,344.29 L62.39,343.74 L62.60,342.89 L62.83,342.05 L62.91,341.74 L63.06,341.21 L63.30,340.38 L63.55,339.56 L63.57,339.49 L63.81,338.75 L64.08,337.95 L64.23,337.53 L64.36,337.18 L64.65,336.42 L64.89,335.83 L64.95,335.69 L65.55,334.31 L66.21,332.93 L66.87,331.66 L67.53,330.49 L68.19,329.39 L68.85,328.33 L69.51,327.33 L70.17,326.38 L70.83,325.50 L71.49,324.68 L72.15,323.95 L72.81,323.29 L73.47,322.68 L74.13,322.12 L74.79,321.58 L75.45,321.08 L76.11,320.60 L76.77,320.13 L77.43,319.67 L78.09,319.23 L78.75,318.80 L79.41,318.38 L80.07,317.98 L80.73,317.58 L81.39,317.20 L82.05,316.83 L82.71,316.46 L83.37,316.10 L84.03,315.75 L84.69,315.40 L85.35,315.06 L86.01,314.72 L86.67,314.39 L87.33,314.06 L87.99,313.74 L88.65,313.42 L89.31,313.11 L89.97,312.81 L90.63,312.51 L91.29,312.22 L91.95,311.93 L92.61,311.65 L93.27,311.37 L93.93,311.11 L94.59,310.84 L95.25,310.59 L95.91,310.34 L96.57,310.09 L97.23,309.85 L97.89,309.61 L98.55,309.38 L99.21,309.15 L99.87,308.92 L100.53,308.70 L101.19,308.48 L101.85,308.26 L102.51,308.05 L103.17,307.84 L103.83,307.63 L104.49,307.42 L105.15,307.22 L105.81,307.02 L106.47,306.83 L107.13,306.64 L107.79,306.45 L108.45,306.26 L109.11,306.08 L109.77,305.89 L110.43,305.71 L111.09,305.53 L111.75,305.35 L112.41,305.17 L113.07,304.98 L113.73,304.80 L114.39,304.61 L115.05,304.43 L115.71,304.24 L116.37,304.05 L117.03,303.86 L117.69,303.66 L118.35,303.47 L119.01,303.27 L119.67,303.08 L120.33,302.88 L120.99,302.68 L121.65,302.49 L122.31,302.29 L122.97,302.09 L123.63,301.89 L124.29,301.70 L124.95,301.50 L125.61,301.30 L126.27,301.11 L126.93,300.91 L127.59,300.72 L128.25,300.53 L128.91,300.33 L129.57,300.14 L130.23,299.96 L130.89,299.77 L131.55,299.58 L132.21,299.40 L132.87,299.22 L133.53,299.04 L134.19,298.87 L134.85,298.69 L135.51,298.52 L136.17,298.36 L136.83,298.19 L137.49,298.03 L138.15,297.86 L138.81,297.70 L139.47,297.53 L140.13,297.37 L140.79,297.21 L141.45,297.05 L142.11,296.89 L142.77,296.73 L143.43,296.57 L144.09,296.42 L144.75,296.26 L145.41,296.10 L146.07,295.95 L146.73,295.80 L147.39,295.64 L148.05,295.49 L148.71,295.34 L149.37,295.19 L150.03,295.03 L150.69,294.88 L151.35,294.73 L152.01,294.59 L152.67,294.44 L153.33,294.29 L153.99,294.14 L154.65,294.00 L155.31,293.85 L155.97,293.71 L156.63,293.56 L157.29,293.42 L157.95,293.28 L158.61,293.13 L159.27,292.99 L159.93,292.85 L160.59,292.71 L161.25,292.57 L161.91,292.43 L162.57,292.29 L163.23,292.15 L163.89,292.01 L164.55,291.88 L165.21,291.74 L165.87,291.60 L166.53,291.47 L167.19,291.33 L167.85,291.20 L168.51,291.06 L169.17,290.93 L169.83,290.80 L170.49,290.66 L171.15,290.53 L171.81,290.40 L172.47,290.27 L173.13,290.14 L173.79,290.01 L174.45,289.88 L175.11,289.75 L175.77,289.62 L176.43,289.49 L177.09,289.36 L177.75,289.23 L178.41,289.10 L179.07,288.98 L179.73,288.85 L180.39,288.72 L181.05,288.60 L181.71,288.48 L182.37,288.35 L183.03,288.23 L183.69,288.11 L184.35,287.99 L185.01,287.87 L185.67,287.75 L186.33,287.64 L186.99,287.52 L187.65,287.40 L188.31,287.29 L188.97,287.17 L189.63,287.06 L190.29,286.94 L190.96,286.83 L191.62,286.72 L192.28,286.61 L192.94,286.49 L193.60,286.38 L194.26,286.27 L194.92,286.16 L195.58,286.05 L196.24,285.94 L196.90,285.83 L197.56,285.71 L198.22,285.60 L198.88,285.49 L199.54,285.38 L200.20,285.27 L200.86,285.15 L201.52,285.04 L202.18,284.93 L202.84,284.82 L203.50,284.71 L204.16,284.60 L204.82,284.48 L205.48,284.37 L206.14,284.26 L206.80,284.15 L207.46,284.04 L208.12,283.93 L208.78,283.82 L209.44,283.71 L210.10,283.60 L210.76,283.49 L211.42,283.38 L212.08,283.27 L212.74,283.16 L213.40,283.06 L214.06,282.95 L214.72,282.84 L215.38,282.74 L216.04,282.63 L216.70,282.52 L217.36,282.42 L218.02,282.31 L218.68,282.21 L219.34,282.10 L220.00,282.00 L220.66,281.90 L221.32,281.80 L221.98,281.70 L222.64,281.60 L223.30,281.50 L223.96,281.40 L224.62,281.30 L225.28,281.21 L225.94,281.11 L226.60,281.01 L227.26,280.91 L227.92,280.82 L228.58,280.72 L229.24,280.62 L229.90,280.52 L230.56,280.41 L231.22,280.31 L231.88,280.21 L232.54,280.11 L233.20,280.01 L233.86,279.91 L234.52,279.81 L235.18,279.71 L235.84,279.62 L236.50,279.52 L237.16,279.42 L237.82,279.32 L238.48,279.22 L239.14,279.13 L239.80,279.03 L240.46,278.93 L241.12,278.84 L241.78,278.74 L242.44,278.64 L243.10,278.54 L243.76,278.45 L244.42,278.35 L245.08,278.25 L245.74,278.15 L246.40,278.06 L247.06,277.96 L247.72,277.86 L248.38,277.76 L249.04,277.66 L249.70,277.56 L250.36,277.46 L251.02,277.36 L251.68,277.26 L252.34,277.16 L253.00,277.06 L253.66,276.96 L254.32,276.86 L254.98,276.76 L255.64,276.65 L256.30,276.55 L256.96,276.44 L257.62,276.34 L258.28,276.23 L258.94,276.13 L259.60,276.02 L260.26,275.91 L260.92,275.80 L261.58,275.69 L262.24,275.58 L262.90,275.47 L263.56,275.36 L264.22,275.24 L264.88,275.13 L265.54,275.01 L266.20,274.90 L266.86,274.78 L267.52,274.66 L268.18,274.54 L268.84,274.42 L269.50,274.29 L270.16,274.17 L270.82,274.05 L271.48,273.92 L272.14,273.79 L272.80,273.66 L273.46,273.53 L274.12,273.40 L274.78,273.27 L275.44,273.13 L276.10,272.99 L276.76,272.85 L277.42,272.70 L278.08,272.55 L278.74,272.40 L279.40,272.24 L280.06,272.08 L280.72,271.92 L281.38,271.76 L282.04,271.59 L282.70,271.42 L283.36,271.25 L284.02,271.08 L284.68,270.90 L285.34,270.73 L286.00,270.55 L286.66,270.37 L287.32,270.19 L287.98,270.01 L288.64,269.83 L289.30,269.65 L289.96,269.47 L290.62,269.29 L291.28,269.11 L291.94,268.93 L292.60,268.75 L293.26,268.57 L293.92,268.39 L294.58,268.22 L295.24,268.05 L295.90,267.87 L296.56,267.70 L297.22,267.53 L297.88,267.36 L298.54,267.19 L299.20,267.02 L299.86,266.85 L300.52,266.67 L301.18,266.50 L301.84,266.32 L302.50,266.13 L303.16,265.95 L303.82,265.76 L304.48,265.56 L305.14,265.36 L305.80,265.16 L306.46,264.95 L307.12,264.73 L307.78,264.51 L308.44,264.27 L309.10,264.01 L309.76,263.73 L310.42,263.44 L311.08,263.16 L311.74,262.88 L312.40,262.63 L313.06,262.41 L313.72,262.21 L314.38,262.02 L315.04,261.84 L315.70,261.65 L316.30,261.46 L316.36,261.44 L316.60,261.36 L316.89,261.26 L317.02,261.21 L317.17,261.16 L317.44,261.05 L317.68,260.96 L317.70,260.95 L317.95,260.84 L318.19,260.73 L318.34,260.66 L318.42,260.61 L318.65,260.50 L318.86,260.38 L319.00,260.31 L319.07,260.27 L319.27,260.15 L319.46,260.03 L319.64,259.91 L319.66,259.90 L319.81,259.80 L319.98,259.68 L320.14,259.56 L320.29,259.45 L320.32,259.42 L320.43,259.34 L320.57,259.23 L320.70,259.11 L320.82,258.95 L320.94,258.77 L320.98,258.70 L321.05,258.58 L321.15,258.37 L321.25,258.16 L321.34,257.95 L321.43,257.75 L321.51,257.55 L321.59,257.35 L321.64,257.22 L321.66,257.17 L321.72,257.00 L321.79,256.83 L321.84,256.68 L321.90,256.54 L321.94,256.42 L321.99,256.30 L322.03,256.19 L322.07,256.10 L322.10,256.01 L322.13,255.93 L322.16,255.86 L322.18,255.80 L322.20,255.75 L322.22,255.70 L322.24,255.66 L322.25,255.63 L322.26,255.60 L322.27,255.57 L322.28,255.55 L322.29,255.54 L322.29,255.52 L322.29,255.52 L322.30,255.51 L322.30,255.50 L322.30,255.50 L322.30,255.50 L322.30,255.50 L322.30,255.50" fill="none" stroke="#ff0000" stroke-width="1.25" stroke-linejoin="round"/>
</g>
<rect x="227.5" y="148.5" width="88.0" height="45.900000000000006" fill="#fff" stroke="#000" stroke-width="1"/>
<path d="M253.4,156.0l3.4,3.4m-3.4,0l3.4,-3.4" stroke="#000" stroke-width="1.0" fill="none"/>
<circle cx="255.1" cy="171.6" r="1.25" fill="#0000ff"/>
<path d="M235,185.7H274.6" stroke="#ff0000" stroke-width="1.3"/>
<text x="279.4" y="161.8" class="lg">LM1</text>
<text x="279.4" y="175.6" class="lg">LM2</text>
<text x="279.4" y="189.3" class="lg">global</text>
<rect x="227.5" y="397.0" width="88.0" height="45.89999999999998" fill="#fff" stroke="#000" stroke-width="1"/>
<path d="M253.4,404.5l3.4,3.4m-3.4,0l3.4,-3.4" stroke="#000" stroke-width="1.0" fill="none"/>
<circle cx="255.1" cy="420.1" r="1.25" fill="#0000ff"/>
<path d="M235,434.2H274.6" stroke="#ff0000" stroke-width="1.3"/>
<text x="279.4" y="410.3" class="lg">LM1</text>
<text x="279.4" y="424.1" class="lg">LM2</text>
<text x="279.4" y="437.8" class="lg">global</text>
<g class="tk" text-anchor="end">
<text x="56" y="205.1">0</text><text x="56" y="180.7">0.01</text><text x="56" y="156.3">0.02</text><text x="56" y="131.9">0.03</text><text x="56" y="107.5">0.04</text><text x="56" y="83.0">0.05</text><text x="56" y="58.6">0.06</text><text x="56" y="34.2">0.07</text><text x="56" y="9.8">0.08</text><text x="56" y="454.0">−0.012</text><text x="56" y="421.3">−0.01</text><text x="56" y="388.7">−0.008</text><text x="56" y="356.0">−0.006</text><text x="56" y="323.3">−0.004</text><text x="56" y="290.7">−0.002</text><text x="56" y="258.0">0</text></g>
<g class="tk" text-anchor="middle">
<text x="59.2" y="215.7">0</text><text x="111.9" y="215.7">200</text><text x="164.6" y="215.7">400</text><text x="217.2" y="215.7">600</text><text x="269.9" y="215.7">800</text><text x="322.6" y="215.7">1000</text><text x="59.2" y="464.5">0</text><text x="111.9" y="464.5">1000</text><text x="164.6" y="464.5">2000</text><text x="217.2" y="464.5">3000</text><text x="269.9" y="464.5">4000</text><text x="322.6" y="464.5">5000</text></g>
<text transform="translate(66.0,20.9) scale(1.09,1)" class="pl">(a)</text>
<text transform="translate(66.0,269.1) scale(1.09,1)" class="pl">(b)</text>
<text x="190.8" y="232.2" class="xl" text-anchor="middle" font-style="italic">i</text>
<text x="191.6" y="481.2" class="xl" text-anchor="middle">Edge index</text>
<g transform="translate(12.0,387.2) rotate(-90)" class="yl"><text x="-0.3" y="0" font-size="16.2">Δ</text><text transform="translate(10.3,0) scale(1.5,1)" font-size="14.6" font-style="italic">λ</text><text x="21.4" y="1.2" font-size="12">appr</text><text x="49.6" y="0" font-size="14.5">(%)</text></g>
</svg>
</body></html>
